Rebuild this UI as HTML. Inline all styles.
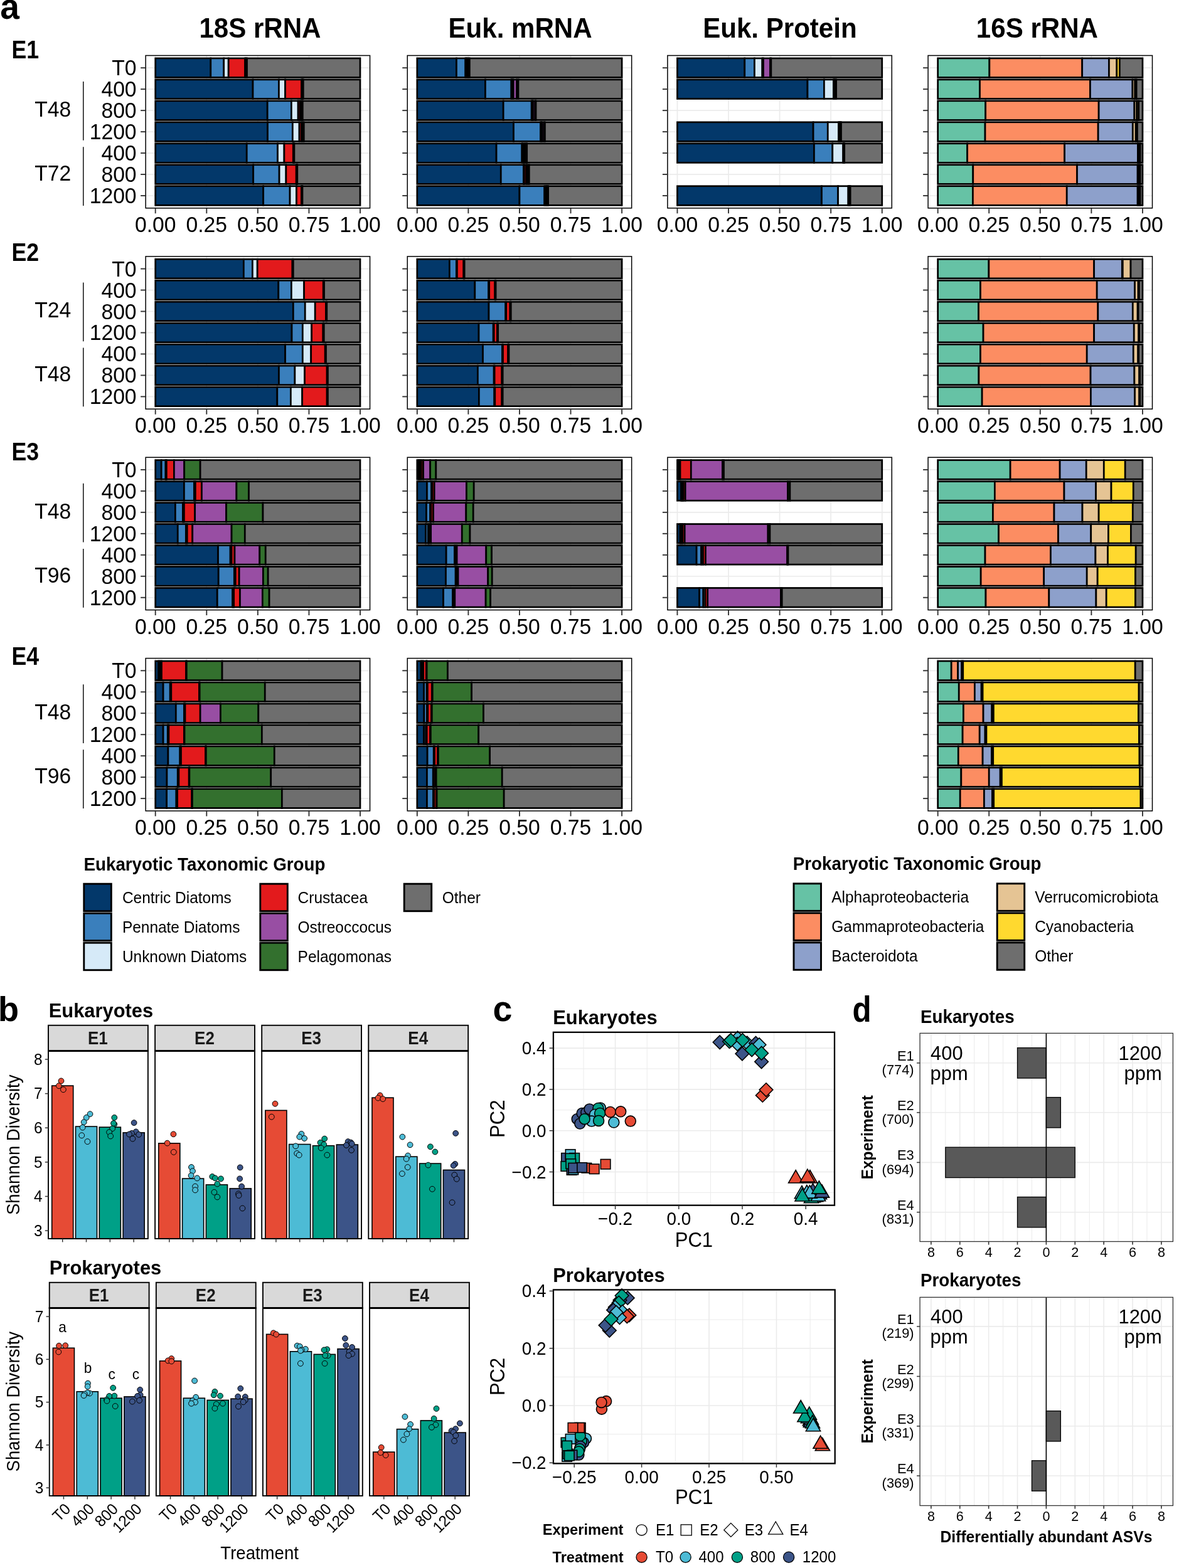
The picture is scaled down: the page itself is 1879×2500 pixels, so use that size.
<!DOCTYPE html>
<html><head><meta charset="utf-8"><title>Figure</title>
<style>html,body{margin:0;padding:0;background:#fff;}svg{display:block;}
text{font-family:'Liberation Sans', Arial, Helvetica, sans-serif;}</style></head>
<body><svg xmlns="http://www.w3.org/2000/svg" width="1879" height="2500" viewBox="0 0 1879 2500">
<rect x="0" y="0" width="1879" height="2500" fill="#fff"/>
<text transform="translate(0.3,29.8) scale(0.96,1)" font-size="57.42" font-weight="bold" fill="#000">a</text>
<text transform="translate(414.45,60.3) scale(0.96,1)" font-size="43.85" font-weight="bold" text-anchor="middle" fill="#000">18S rRNA</text>
<text transform="translate(829.06,60.3) scale(0.96,1)" font-size="43.85" font-weight="bold" text-anchor="middle" fill="#000">Euk. mRNA</text>
<text transform="translate(1242.9,60.3) scale(0.96,1)" font-size="43.85" font-weight="bold" text-anchor="middle" fill="#000">Euk. Protein</text>
<text transform="translate(1652.9,60.3) scale(0.96,1)" font-size="43.85" font-weight="bold" text-anchor="middle" fill="#000">16S rRNA</text>
<text transform="translate(18.6,92.9) scale(0.88,1)" font-size="40.51" font-weight="bold" fill="#000">E1</text>
<rect x="232.15" y="88.5" width="357.4" height="243.3" fill="#fff"/>
<line x1="247.7" y1="88.5" x2="247.7" y2="331.8" stroke="#EBEBEB" stroke-width="1.7"/>
<line x1="329.28" y1="88.5" x2="329.28" y2="331.8" stroke="#EBEBEB" stroke-width="1.7"/>
<line x1="410.85" y1="88.5" x2="410.85" y2="331.8" stroke="#EBEBEB" stroke-width="1.7"/>
<line x1="492.43" y1="88.5" x2="492.43" y2="331.8" stroke="#EBEBEB" stroke-width="1.7"/>
<line x1="574" y1="88.5" x2="574" y2="331.8" stroke="#EBEBEB" stroke-width="1.7"/>
<line x1="232.15" y1="108.2" x2="589.55" y2="108.2" stroke="#EBEBEB" stroke-width="1.7"/>
<line x1="232.15" y1="142.17" x2="589.55" y2="142.17" stroke="#EBEBEB" stroke-width="1.7"/>
<line x1="232.15" y1="176.14" x2="589.55" y2="176.14" stroke="#EBEBEB" stroke-width="1.7"/>
<line x1="232.15" y1="210.11" x2="589.55" y2="210.11" stroke="#EBEBEB" stroke-width="1.7"/>
<line x1="232.15" y1="244.08" x2="589.55" y2="244.08" stroke="#EBEBEB" stroke-width="1.7"/>
<line x1="232.15" y1="278.05" x2="589.55" y2="278.05" stroke="#EBEBEB" stroke-width="1.7"/>
<line x1="232.15" y1="312.02" x2="589.55" y2="312.02" stroke="#EBEBEB" stroke-width="1.7"/>
<rect x="247.7" y="92.91" width="88.1" height="30.57" fill="#03386A" stroke="#000" stroke-width="2.7"/>
<rect x="335.8" y="92.91" width="20.88" height="30.57" fill="#3A7FBC" stroke="#000" stroke-width="2.7"/>
<rect x="356.68" y="92.91" width="7.5" height="30.57" fill="#D6EAF8" stroke="#000" stroke-width="2.7"/>
<rect x="364.19" y="92.91" width="26.43" height="30.57" fill="#E31A1C" stroke="#000" stroke-width="2.7"/>
<rect x="390.62" y="92.91" width="1.31" height="30.57" fill="#984EA3" stroke="#000" stroke-width="2.7"/>
<rect x="391.92" y="92.91" width="1.63" height="30.57" fill="#33702E" stroke="#000" stroke-width="2.7"/>
<rect x="393.56" y="92.91" width="180.44" height="30.57" fill="#6E6E6E" stroke="#000" stroke-width="2.7"/>
<rect x="247.7" y="126.88" width="155.32" height="30.57" fill="#03386A" stroke="#000" stroke-width="2.7"/>
<rect x="403.02" y="126.88" width="41.44" height="30.57" fill="#3A7FBC" stroke="#000" stroke-width="2.7"/>
<rect x="444.46" y="126.88" width="10.12" height="30.57" fill="#D6EAF8" stroke="#000" stroke-width="2.7"/>
<rect x="454.57" y="126.88" width="26.1" height="30.57" fill="#E31A1C" stroke="#000" stroke-width="2.7"/>
<rect x="480.68" y="126.88" width="1.31" height="30.57" fill="#984EA3" stroke="#000" stroke-width="2.7"/>
<rect x="481.98" y="126.88" width="1.31" height="30.57" fill="#33702E" stroke="#000" stroke-width="2.7"/>
<rect x="483.29" y="126.88" width="90.71" height="30.57" fill="#6E6E6E" stroke="#000" stroke-width="2.7"/>
<rect x="247.7" y="160.85" width="178.49" height="30.57" fill="#03386A" stroke="#000" stroke-width="2.7"/>
<rect x="426.19" y="160.85" width="38.18" height="30.57" fill="#3A7FBC" stroke="#000" stroke-width="2.7"/>
<rect x="464.36" y="160.85" width="10.77" height="30.57" fill="#D6EAF8" stroke="#000" stroke-width="2.7"/>
<rect x="475.13" y="160.85" width="2.94" height="30.57" fill="#E31A1C" stroke="#000" stroke-width="2.7"/>
<rect x="478.07" y="160.85" width="2.28" height="30.57" fill="#984EA3" stroke="#000" stroke-width="2.7"/>
<rect x="480.35" y="160.85" width="1.96" height="30.57" fill="#33702E" stroke="#000" stroke-width="2.7"/>
<rect x="482.31" y="160.85" width="91.69" height="30.57" fill="#6E6E6E" stroke="#000" stroke-width="2.7"/>
<rect x="247.7" y="194.82" width="178.81" height="30.57" fill="#03386A" stroke="#000" stroke-width="2.7"/>
<rect x="426.51" y="194.82" width="39.81" height="30.57" fill="#3A7FBC" stroke="#000" stroke-width="2.7"/>
<rect x="466.32" y="194.82" width="10.77" height="30.57" fill="#D6EAF8" stroke="#000" stroke-width="2.7"/>
<rect x="477.09" y="194.82" width="3.26" height="30.57" fill="#E31A1C" stroke="#000" stroke-width="2.7"/>
<rect x="480.35" y="194.82" width="1.96" height="30.57" fill="#984EA3" stroke="#000" stroke-width="2.7"/>
<rect x="482.31" y="194.82" width="1.96" height="30.57" fill="#33702E" stroke="#000" stroke-width="2.7"/>
<rect x="484.27" y="194.82" width="89.73" height="30.57" fill="#6E6E6E" stroke="#000" stroke-width="2.7"/>
<rect x="247.7" y="228.79" width="145.53" height="30.57" fill="#03386A" stroke="#000" stroke-width="2.7"/>
<rect x="393.23" y="228.79" width="49.27" height="30.57" fill="#3A7FBC" stroke="#000" stroke-width="2.7"/>
<rect x="442.5" y="228.79" width="10.44" height="30.57" fill="#D6EAF8" stroke="#000" stroke-width="2.7"/>
<rect x="452.94" y="228.79" width="14.36" height="30.57" fill="#E31A1C" stroke="#000" stroke-width="2.7"/>
<rect x="467.3" y="228.79" width="0.98" height="30.57" fill="#984EA3" stroke="#000" stroke-width="2.7"/>
<rect x="468.28" y="228.79" width="0.65" height="30.57" fill="#33702E" stroke="#000" stroke-width="2.7"/>
<rect x="468.93" y="228.79" width="105.07" height="30.57" fill="#6E6E6E" stroke="#000" stroke-width="2.7"/>
<rect x="247.7" y="262.76" width="155.97" height="30.57" fill="#03386A" stroke="#000" stroke-width="2.7"/>
<rect x="403.67" y="262.76" width="41.44" height="30.57" fill="#3A7FBC" stroke="#000" stroke-width="2.7"/>
<rect x="445.11" y="262.76" width="10.77" height="30.57" fill="#D6EAF8" stroke="#000" stroke-width="2.7"/>
<rect x="455.88" y="262.76" width="16.31" height="30.57" fill="#E31A1C" stroke="#000" stroke-width="2.7"/>
<rect x="472.19" y="262.76" width="0.98" height="30.57" fill="#984EA3" stroke="#000" stroke-width="2.7"/>
<rect x="473.17" y="262.76" width="0.65" height="30.57" fill="#33702E" stroke="#000" stroke-width="2.7"/>
<rect x="473.83" y="262.76" width="100.17" height="30.57" fill="#6E6E6E" stroke="#000" stroke-width="2.7"/>
<rect x="247.7" y="296.73" width="171.96" height="30.57" fill="#03386A" stroke="#000" stroke-width="2.7"/>
<rect x="419.66" y="296.73" width="42.42" height="30.57" fill="#3A7FBC" stroke="#000" stroke-width="2.7"/>
<rect x="462.08" y="296.73" width="10.44" height="30.57" fill="#D6EAF8" stroke="#000" stroke-width="2.7"/>
<rect x="472.52" y="296.73" width="7.83" height="30.57" fill="#E31A1C" stroke="#000" stroke-width="2.7"/>
<rect x="480.35" y="296.73" width="0.98" height="30.57" fill="#984EA3" stroke="#000" stroke-width="2.7"/>
<rect x="481.33" y="296.73" width="0.65" height="30.57" fill="#33702E" stroke="#000" stroke-width="2.7"/>
<rect x="481.98" y="296.73" width="92.02" height="30.57" fill="#6E6E6E" stroke="#000" stroke-width="2.7"/>
<rect x="232.15" y="88.5" width="357.4" height="243.3" fill="none" stroke="#000" stroke-width="1.5"/>
<line x1="224.15" y1="108.2" x2="232.15" y2="108.2" stroke="#333" stroke-width="1.9"/>
<line x1="224.15" y1="142.17" x2="232.15" y2="142.17" stroke="#333" stroke-width="1.9"/>
<line x1="224.15" y1="176.14" x2="232.15" y2="176.14" stroke="#333" stroke-width="1.9"/>
<line x1="224.15" y1="210.11" x2="232.15" y2="210.11" stroke="#333" stroke-width="1.9"/>
<line x1="224.15" y1="244.08" x2="232.15" y2="244.08" stroke="#333" stroke-width="1.9"/>
<line x1="224.15" y1="278.05" x2="232.15" y2="278.05" stroke="#333" stroke-width="1.9"/>
<line x1="224.15" y1="312.02" x2="232.15" y2="312.02" stroke="#333" stroke-width="1.9"/>
<line x1="247.7" y1="331.8" x2="247.7" y2="340.3" stroke="#333" stroke-width="1.9"/>
<text transform="translate(247.7,370.1) scale(0.96,1)" font-size="35.08" text-anchor="middle" fill="#000">0.00</text>
<line x1="329.28" y1="331.8" x2="329.28" y2="340.3" stroke="#333" stroke-width="1.9"/>
<text transform="translate(329.28,370.1) scale(0.96,1)" font-size="35.08" text-anchor="middle" fill="#000">0.25</text>
<line x1="410.85" y1="331.8" x2="410.85" y2="340.3" stroke="#333" stroke-width="1.9"/>
<text transform="translate(410.85,370.1) scale(0.96,1)" font-size="35.08" text-anchor="middle" fill="#000">0.50</text>
<line x1="492.43" y1="331.8" x2="492.43" y2="340.3" stroke="#333" stroke-width="1.9"/>
<text transform="translate(492.43,370.1) scale(0.96,1)" font-size="35.08" text-anchor="middle" fill="#000">0.75</text>
<line x1="574" y1="331.8" x2="574" y2="340.3" stroke="#333" stroke-width="1.9"/>
<text transform="translate(574,370.1) scale(0.96,1)" font-size="35.08" text-anchor="middle" fill="#000">1.00</text>
<rect x="649.26" y="88.5" width="357.4" height="243.3" fill="#fff"/>
<line x1="664.81" y1="88.5" x2="664.81" y2="331.8" stroke="#EBEBEB" stroke-width="1.7"/>
<line x1="746.38" y1="88.5" x2="746.38" y2="331.8" stroke="#EBEBEB" stroke-width="1.7"/>
<line x1="827.96" y1="88.5" x2="827.96" y2="331.8" stroke="#EBEBEB" stroke-width="1.7"/>
<line x1="909.53" y1="88.5" x2="909.53" y2="331.8" stroke="#EBEBEB" stroke-width="1.7"/>
<line x1="991.11" y1="88.5" x2="991.11" y2="331.8" stroke="#EBEBEB" stroke-width="1.7"/>
<line x1="649.26" y1="108.2" x2="1006.66" y2="108.2" stroke="#EBEBEB" stroke-width="1.7"/>
<line x1="649.26" y1="142.17" x2="1006.66" y2="142.17" stroke="#EBEBEB" stroke-width="1.7"/>
<line x1="649.26" y1="176.14" x2="1006.66" y2="176.14" stroke="#EBEBEB" stroke-width="1.7"/>
<line x1="649.26" y1="210.11" x2="1006.66" y2="210.11" stroke="#EBEBEB" stroke-width="1.7"/>
<line x1="649.26" y1="244.08" x2="1006.66" y2="244.08" stroke="#EBEBEB" stroke-width="1.7"/>
<line x1="649.26" y1="278.05" x2="1006.66" y2="278.05" stroke="#EBEBEB" stroke-width="1.7"/>
<line x1="649.26" y1="312.02" x2="1006.66" y2="312.02" stroke="#EBEBEB" stroke-width="1.7"/>
<rect x="664.81" y="92.91" width="62.65" height="30.57" fill="#03386A" stroke="#000" stroke-width="2.7"/>
<rect x="727.46" y="92.91" width="14.36" height="30.57" fill="#3A7FBC" stroke="#000" stroke-width="2.7"/>
<rect x="741.82" y="92.91" width="1.31" height="30.57" fill="#D6EAF8" stroke="#000" stroke-width="2.7"/>
<rect x="743.12" y="92.91" width="1.31" height="30.57" fill="#E31A1C" stroke="#000" stroke-width="2.7"/>
<rect x="744.43" y="92.91" width="1.96" height="30.57" fill="#984EA3" stroke="#000" stroke-width="2.7"/>
<rect x="746.38" y="92.91" width="1.96" height="30.57" fill="#33702E" stroke="#000" stroke-width="2.7"/>
<rect x="748.34" y="92.91" width="242.77" height="30.57" fill="#6E6E6E" stroke="#000" stroke-width="2.7"/>
<rect x="664.81" y="126.88" width="108.66" height="30.57" fill="#03386A" stroke="#000" stroke-width="2.7"/>
<rect x="773.47" y="126.88" width="41.44" height="30.57" fill="#3A7FBC" stroke="#000" stroke-width="2.7"/>
<rect x="814.91" y="126.88" width="1.31" height="30.57" fill="#D6EAF8" stroke="#000" stroke-width="2.7"/>
<rect x="816.21" y="126.88" width="1.96" height="30.57" fill="#E31A1C" stroke="#000" stroke-width="2.7"/>
<rect x="818.17" y="126.88" width="5.22" height="30.57" fill="#984EA3" stroke="#000" stroke-width="2.7"/>
<rect x="823.39" y="126.88" width="2.61" height="30.57" fill="#33702E" stroke="#000" stroke-width="2.7"/>
<rect x="826" y="126.88" width="165.11" height="30.57" fill="#6E6E6E" stroke="#000" stroke-width="2.7"/>
<rect x="664.81" y="160.85" width="137.37" height="30.57" fill="#03386A" stroke="#000" stroke-width="2.7"/>
<rect x="802.18" y="160.85" width="45.03" height="30.57" fill="#3A7FBC" stroke="#000" stroke-width="2.7"/>
<rect x="847.21" y="160.85" width="1.31" height="30.57" fill="#D6EAF8" stroke="#000" stroke-width="2.7"/>
<rect x="848.52" y="160.85" width="0.98" height="30.57" fill="#E31A1C" stroke="#000" stroke-width="2.7"/>
<rect x="849.5" y="160.85" width="3.26" height="30.57" fill="#984EA3" stroke="#000" stroke-width="2.7"/>
<rect x="852.76" y="160.85" width="1.31" height="30.57" fill="#33702E" stroke="#000" stroke-width="2.7"/>
<rect x="854.06" y="160.85" width="137.05" height="30.57" fill="#6E6E6E" stroke="#000" stroke-width="2.7"/>
<rect x="664.81" y="194.82" width="153.69" height="30.57" fill="#03386A" stroke="#000" stroke-width="2.7"/>
<rect x="818.5" y="194.82" width="43.07" height="30.57" fill="#3A7FBC" stroke="#000" stroke-width="2.7"/>
<rect x="861.57" y="194.82" width="1.31" height="30.57" fill="#D6EAF8" stroke="#000" stroke-width="2.7"/>
<rect x="862.87" y="194.82" width="0.98" height="30.57" fill="#E31A1C" stroke="#000" stroke-width="2.7"/>
<rect x="863.85" y="194.82" width="2.94" height="30.57" fill="#984EA3" stroke="#000" stroke-width="2.7"/>
<rect x="866.79" y="194.82" width="1.63" height="30.57" fill="#33702E" stroke="#000" stroke-width="2.7"/>
<rect x="868.42" y="194.82" width="122.69" height="30.57" fill="#6E6E6E" stroke="#000" stroke-width="2.7"/>
<rect x="664.81" y="228.79" width="126.28" height="30.57" fill="#03386A" stroke="#000" stroke-width="2.7"/>
<rect x="791.09" y="228.79" width="40.79" height="30.57" fill="#3A7FBC" stroke="#000" stroke-width="2.7"/>
<rect x="831.88" y="228.79" width="1.31" height="30.57" fill="#D6EAF8" stroke="#000" stroke-width="2.7"/>
<rect x="833.18" y="228.79" width="2.61" height="30.57" fill="#E31A1C" stroke="#000" stroke-width="2.7"/>
<rect x="835.79" y="228.79" width="2.28" height="30.57" fill="#984EA3" stroke="#000" stroke-width="2.7"/>
<rect x="838.08" y="228.79" width="1.63" height="30.57" fill="#33702E" stroke="#000" stroke-width="2.7"/>
<rect x="839.71" y="228.79" width="151.4" height="30.57" fill="#6E6E6E" stroke="#000" stroke-width="2.7"/>
<rect x="664.81" y="262.76" width="133.46" height="30.57" fill="#03386A" stroke="#000" stroke-width="2.7"/>
<rect x="798.27" y="262.76" width="36.22" height="30.57" fill="#3A7FBC" stroke="#000" stroke-width="2.7"/>
<rect x="834.49" y="262.76" width="0.98" height="30.57" fill="#D6EAF8" stroke="#000" stroke-width="2.7"/>
<rect x="835.46" y="262.76" width="3.26" height="30.57" fill="#E31A1C" stroke="#000" stroke-width="2.7"/>
<rect x="838.73" y="262.76" width="2.28" height="30.57" fill="#984EA3" stroke="#000" stroke-width="2.7"/>
<rect x="841.01" y="262.76" width="2.28" height="30.57" fill="#33702E" stroke="#000" stroke-width="2.7"/>
<rect x="843.3" y="262.76" width="147.81" height="30.57" fill="#6E6E6E" stroke="#000" stroke-width="2.7"/>
<rect x="664.81" y="296.73" width="163.15" height="30.57" fill="#03386A" stroke="#000" stroke-width="2.7"/>
<rect x="827.96" y="296.73" width="39.81" height="30.57" fill="#3A7FBC" stroke="#000" stroke-width="2.7"/>
<rect x="867.77" y="296.73" width="1.96" height="30.57" fill="#D6EAF8" stroke="#000" stroke-width="2.7"/>
<rect x="869.73" y="296.73" width="1.31" height="30.57" fill="#E31A1C" stroke="#000" stroke-width="2.7"/>
<rect x="871.03" y="296.73" width="1.31" height="30.57" fill="#984EA3" stroke="#000" stroke-width="2.7"/>
<rect x="872.34" y="296.73" width="1.31" height="30.57" fill="#33702E" stroke="#000" stroke-width="2.7"/>
<rect x="873.64" y="296.73" width="117.47" height="30.57" fill="#6E6E6E" stroke="#000" stroke-width="2.7"/>
<rect x="649.26" y="88.5" width="357.4" height="243.3" fill="none" stroke="#000" stroke-width="1.5"/>
<line x1="641.26" y1="108.2" x2="649.26" y2="108.2" stroke="#333" stroke-width="1.9"/>
<line x1="641.26" y1="142.17" x2="649.26" y2="142.17" stroke="#333" stroke-width="1.9"/>
<line x1="641.26" y1="176.14" x2="649.26" y2="176.14" stroke="#333" stroke-width="1.9"/>
<line x1="641.26" y1="210.11" x2="649.26" y2="210.11" stroke="#333" stroke-width="1.9"/>
<line x1="641.26" y1="244.08" x2="649.26" y2="244.08" stroke="#333" stroke-width="1.9"/>
<line x1="641.26" y1="278.05" x2="649.26" y2="278.05" stroke="#333" stroke-width="1.9"/>
<line x1="641.26" y1="312.02" x2="649.26" y2="312.02" stroke="#333" stroke-width="1.9"/>
<line x1="664.81" y1="331.8" x2="664.81" y2="340.3" stroke="#333" stroke-width="1.9"/>
<text transform="translate(664.81,370.1) scale(0.96,1)" font-size="35.08" text-anchor="middle" fill="#000">0.00</text>
<line x1="746.38" y1="331.8" x2="746.38" y2="340.3" stroke="#333" stroke-width="1.9"/>
<text transform="translate(746.38,370.1) scale(0.96,1)" font-size="35.08" text-anchor="middle" fill="#000">0.25</text>
<line x1="827.96" y1="331.8" x2="827.96" y2="340.3" stroke="#333" stroke-width="1.9"/>
<text transform="translate(827.96,370.1) scale(0.96,1)" font-size="35.08" text-anchor="middle" fill="#000">0.50</text>
<line x1="909.53" y1="331.8" x2="909.53" y2="340.3" stroke="#333" stroke-width="1.9"/>
<text transform="translate(909.53,370.1) scale(0.96,1)" font-size="35.08" text-anchor="middle" fill="#000">0.75</text>
<line x1="991.11" y1="331.8" x2="991.11" y2="340.3" stroke="#333" stroke-width="1.9"/>
<text transform="translate(991.11,370.1) scale(0.96,1)" font-size="35.08" text-anchor="middle" fill="#000">1.00</text>
<rect x="1063.9" y="88.5" width="357.4" height="243.3" fill="#fff"/>
<line x1="1079.45" y1="88.5" x2="1079.45" y2="331.8" stroke="#EBEBEB" stroke-width="1.7"/>
<line x1="1161.03" y1="88.5" x2="1161.03" y2="331.8" stroke="#EBEBEB" stroke-width="1.7"/>
<line x1="1242.6" y1="88.5" x2="1242.6" y2="331.8" stroke="#EBEBEB" stroke-width="1.7"/>
<line x1="1324.18" y1="88.5" x2="1324.18" y2="331.8" stroke="#EBEBEB" stroke-width="1.7"/>
<line x1="1405.75" y1="88.5" x2="1405.75" y2="331.8" stroke="#EBEBEB" stroke-width="1.7"/>
<line x1="1063.9" y1="108.2" x2="1421.3" y2="108.2" stroke="#EBEBEB" stroke-width="1.7"/>
<line x1="1063.9" y1="142.17" x2="1421.3" y2="142.17" stroke="#EBEBEB" stroke-width="1.7"/>
<line x1="1063.9" y1="176.14" x2="1421.3" y2="176.14" stroke="#EBEBEB" stroke-width="1.7"/>
<line x1="1063.9" y1="210.11" x2="1421.3" y2="210.11" stroke="#EBEBEB" stroke-width="1.7"/>
<line x1="1063.9" y1="244.08" x2="1421.3" y2="244.08" stroke="#EBEBEB" stroke-width="1.7"/>
<line x1="1063.9" y1="278.05" x2="1421.3" y2="278.05" stroke="#EBEBEB" stroke-width="1.7"/>
<line x1="1063.9" y1="312.02" x2="1421.3" y2="312.02" stroke="#EBEBEB" stroke-width="1.7"/>
<rect x="1079.45" y="92.91" width="107.35" height="30.57" fill="#03386A" stroke="#000" stroke-width="2.7"/>
<rect x="1186.8" y="92.91" width="15.66" height="30.57" fill="#3A7FBC" stroke="#000" stroke-width="2.7"/>
<rect x="1202.47" y="92.91" width="12.4" height="30.57" fill="#D6EAF8" stroke="#000" stroke-width="2.7"/>
<rect x="1214.86" y="92.91" width="1.63" height="30.57" fill="#E31A1C" stroke="#000" stroke-width="2.7"/>
<rect x="1216.5" y="92.91" width="11.09" height="30.57" fill="#984EA3" stroke="#000" stroke-width="2.7"/>
<rect x="1227.59" y="92.91" width="1.31" height="30.57" fill="#33702E" stroke="#000" stroke-width="2.7"/>
<rect x="1228.9" y="92.91" width="176.85" height="30.57" fill="#6E6E6E" stroke="#000" stroke-width="2.7"/>
<rect x="1079.45" y="126.88" width="207.53" height="30.57" fill="#03386A" stroke="#000" stroke-width="2.7"/>
<rect x="1286.98" y="126.88" width="26.43" height="30.57" fill="#3A7FBC" stroke="#000" stroke-width="2.7"/>
<rect x="1313.41" y="126.88" width="15.01" height="30.57" fill="#D6EAF8" stroke="#000" stroke-width="2.7"/>
<rect x="1328.42" y="126.88" width="1.31" height="30.57" fill="#E31A1C" stroke="#000" stroke-width="2.7"/>
<rect x="1329.72" y="126.88" width="1.31" height="30.57" fill="#984EA3" stroke="#000" stroke-width="2.7"/>
<rect x="1331.03" y="126.88" width="1.63" height="30.57" fill="#33702E" stroke="#000" stroke-width="2.7"/>
<rect x="1332.66" y="126.88" width="73.09" height="30.57" fill="#6E6E6E" stroke="#000" stroke-width="2.7"/>
<rect x="1079.45" y="194.82" width="216.66" height="30.57" fill="#03386A" stroke="#000" stroke-width="2.7"/>
<rect x="1296.11" y="194.82" width="23.17" height="30.57" fill="#3A7FBC" stroke="#000" stroke-width="2.7"/>
<rect x="1319.28" y="194.82" width="17.29" height="30.57" fill="#D6EAF8" stroke="#000" stroke-width="2.7"/>
<rect x="1336.57" y="194.82" width="1.31" height="30.57" fill="#E31A1C" stroke="#000" stroke-width="2.7"/>
<rect x="1337.88" y="194.82" width="1.31" height="30.57" fill="#984EA3" stroke="#000" stroke-width="2.7"/>
<rect x="1339.18" y="194.82" width="1.31" height="30.57" fill="#33702E" stroke="#000" stroke-width="2.7"/>
<rect x="1340.49" y="194.82" width="65.26" height="30.57" fill="#6E6E6E" stroke="#000" stroke-width="2.7"/>
<rect x="1079.45" y="228.79" width="217.97" height="30.57" fill="#03386A" stroke="#000" stroke-width="2.7"/>
<rect x="1297.42" y="228.79" width="29.37" height="30.57" fill="#3A7FBC" stroke="#000" stroke-width="2.7"/>
<rect x="1326.79" y="228.79" width="16.97" height="30.57" fill="#D6EAF8" stroke="#000" stroke-width="2.7"/>
<rect x="1343.75" y="228.79" width="0.65" height="30.57" fill="#E31A1C" stroke="#000" stroke-width="2.7"/>
<rect x="1344.41" y="228.79" width="0.65" height="30.57" fill="#984EA3" stroke="#000" stroke-width="2.7"/>
<rect x="1345.06" y="228.79" width="0.65" height="30.57" fill="#33702E" stroke="#000" stroke-width="2.7"/>
<rect x="1345.71" y="228.79" width="60.04" height="30.57" fill="#6E6E6E" stroke="#000" stroke-width="2.7"/>
<rect x="1079.45" y="296.73" width="230.04" height="30.57" fill="#03386A" stroke="#000" stroke-width="2.7"/>
<rect x="1309.49" y="296.73" width="26.1" height="30.57" fill="#3A7FBC" stroke="#000" stroke-width="2.7"/>
<rect x="1335.6" y="296.73" width="16.31" height="30.57" fill="#D6EAF8" stroke="#000" stroke-width="2.7"/>
<rect x="1351.91" y="296.73" width="0.98" height="30.57" fill="#E31A1C" stroke="#000" stroke-width="2.7"/>
<rect x="1352.89" y="296.73" width="0.98" height="30.57" fill="#984EA3" stroke="#000" stroke-width="2.7"/>
<rect x="1353.87" y="296.73" width="1.31" height="30.57" fill="#33702E" stroke="#000" stroke-width="2.7"/>
<rect x="1355.17" y="296.73" width="50.58" height="30.57" fill="#6E6E6E" stroke="#000" stroke-width="2.7"/>
<rect x="1063.9" y="88.5" width="357.4" height="243.3" fill="none" stroke="#000" stroke-width="1.5"/>
<line x1="1055.9" y1="108.2" x2="1063.9" y2="108.2" stroke="#333" stroke-width="1.9"/>
<line x1="1055.9" y1="142.17" x2="1063.9" y2="142.17" stroke="#333" stroke-width="1.9"/>
<line x1="1055.9" y1="176.14" x2="1063.9" y2="176.14" stroke="#333" stroke-width="1.9"/>
<line x1="1055.9" y1="210.11" x2="1063.9" y2="210.11" stroke="#333" stroke-width="1.9"/>
<line x1="1055.9" y1="244.08" x2="1063.9" y2="244.08" stroke="#333" stroke-width="1.9"/>
<line x1="1055.9" y1="278.05" x2="1063.9" y2="278.05" stroke="#333" stroke-width="1.9"/>
<line x1="1055.9" y1="312.02" x2="1063.9" y2="312.02" stroke="#333" stroke-width="1.9"/>
<line x1="1079.45" y1="331.8" x2="1079.45" y2="340.3" stroke="#333" stroke-width="1.9"/>
<text transform="translate(1079.45,370.1) scale(0.96,1)" font-size="35.08" text-anchor="middle" fill="#000">0.00</text>
<line x1="1161.03" y1="331.8" x2="1161.03" y2="340.3" stroke="#333" stroke-width="1.9"/>
<text transform="translate(1161.03,370.1) scale(0.96,1)" font-size="35.08" text-anchor="middle" fill="#000">0.25</text>
<line x1="1242.6" y1="331.8" x2="1242.6" y2="340.3" stroke="#333" stroke-width="1.9"/>
<text transform="translate(1242.6,370.1) scale(0.96,1)" font-size="35.08" text-anchor="middle" fill="#000">0.50</text>
<line x1="1324.18" y1="331.8" x2="1324.18" y2="340.3" stroke="#333" stroke-width="1.9"/>
<text transform="translate(1324.18,370.1) scale(0.96,1)" font-size="35.08" text-anchor="middle" fill="#000">0.75</text>
<line x1="1405.75" y1="331.8" x2="1405.75" y2="340.3" stroke="#333" stroke-width="1.9"/>
<text transform="translate(1405.75,370.1) scale(0.96,1)" font-size="35.08" text-anchor="middle" fill="#000">1.00</text>
<rect x="1479.1" y="88.5" width="357.4" height="243.3" fill="#fff"/>
<line x1="1494.65" y1="88.5" x2="1494.65" y2="331.8" stroke="#EBEBEB" stroke-width="1.7"/>
<line x1="1576.22" y1="88.5" x2="1576.22" y2="331.8" stroke="#EBEBEB" stroke-width="1.7"/>
<line x1="1657.8" y1="88.5" x2="1657.8" y2="331.8" stroke="#EBEBEB" stroke-width="1.7"/>
<line x1="1739.38" y1="88.5" x2="1739.38" y2="331.8" stroke="#EBEBEB" stroke-width="1.7"/>
<line x1="1820.95" y1="88.5" x2="1820.95" y2="331.8" stroke="#EBEBEB" stroke-width="1.7"/>
<line x1="1479.1" y1="108.2" x2="1836.5" y2="108.2" stroke="#EBEBEB" stroke-width="1.7"/>
<line x1="1479.1" y1="142.17" x2="1836.5" y2="142.17" stroke="#EBEBEB" stroke-width="1.7"/>
<line x1="1479.1" y1="176.14" x2="1836.5" y2="176.14" stroke="#EBEBEB" stroke-width="1.7"/>
<line x1="1479.1" y1="210.11" x2="1836.5" y2="210.11" stroke="#EBEBEB" stroke-width="1.7"/>
<line x1="1479.1" y1="244.08" x2="1836.5" y2="244.08" stroke="#EBEBEB" stroke-width="1.7"/>
<line x1="1479.1" y1="278.05" x2="1836.5" y2="278.05" stroke="#EBEBEB" stroke-width="1.7"/>
<line x1="1479.1" y1="312.02" x2="1836.5" y2="312.02" stroke="#EBEBEB" stroke-width="1.7"/>
<rect x="1494.65" y="92.91" width="82.23" height="30.57" fill="#66C2A5" stroke="#000" stroke-width="2.7"/>
<rect x="1576.88" y="92.91" width="147.81" height="30.57" fill="#FC8D62" stroke="#000" stroke-width="2.7"/>
<rect x="1724.69" y="92.91" width="42.75" height="30.57" fill="#8DA0CB" stroke="#000" stroke-width="2.7"/>
<rect x="1767.44" y="92.91" width="12.4" height="30.57" fill="#E5C494" stroke="#000" stroke-width="2.7"/>
<rect x="1779.84" y="92.91" width="4.57" height="30.57" fill="#FFD92F" stroke="#000" stroke-width="2.7"/>
<rect x="1784.4" y="92.91" width="36.55" height="30.57" fill="#6E6E6E" stroke="#000" stroke-width="2.7"/>
<rect x="1494.65" y="126.88" width="66.89" height="30.57" fill="#66C2A5" stroke="#000" stroke-width="2.7"/>
<rect x="1561.54" y="126.88" width="175.88" height="30.57" fill="#FC8D62" stroke="#000" stroke-width="2.7"/>
<rect x="1737.42" y="126.88" width="67.54" height="30.57" fill="#8DA0CB" stroke="#000" stroke-width="2.7"/>
<rect x="1804.96" y="126.88" width="3.92" height="30.57" fill="#E5C494" stroke="#000" stroke-width="2.7"/>
<rect x="1808.88" y="126.88" width="2.28" height="30.57" fill="#FFD92F" stroke="#000" stroke-width="2.7"/>
<rect x="1811.16" y="126.88" width="9.79" height="30.57" fill="#6E6E6E" stroke="#000" stroke-width="2.7"/>
<rect x="1494.65" y="160.85" width="76.03" height="30.57" fill="#66C2A5" stroke="#000" stroke-width="2.7"/>
<rect x="1570.68" y="160.85" width="180.44" height="30.57" fill="#FC8D62" stroke="#000" stroke-width="2.7"/>
<rect x="1751.12" y="160.85" width="56.78" height="30.57" fill="#8DA0CB" stroke="#000" stroke-width="2.7"/>
<rect x="1807.9" y="160.85" width="3.92" height="30.57" fill="#E5C494" stroke="#000" stroke-width="2.7"/>
<rect x="1811.81" y="160.85" width="2.94" height="30.57" fill="#FFD92F" stroke="#000" stroke-width="2.7"/>
<rect x="1814.75" y="160.85" width="6.2" height="30.57" fill="#6E6E6E" stroke="#000" stroke-width="2.7"/>
<rect x="1494.65" y="194.82" width="75.38" height="30.57" fill="#66C2A5" stroke="#000" stroke-width="2.7"/>
<rect x="1570.03" y="194.82" width="180.12" height="30.57" fill="#FC8D62" stroke="#000" stroke-width="2.7"/>
<rect x="1750.14" y="194.82" width="55.14" height="30.57" fill="#8DA0CB" stroke="#000" stroke-width="2.7"/>
<rect x="1805.29" y="194.82" width="4.89" height="30.57" fill="#E5C494" stroke="#000" stroke-width="2.7"/>
<rect x="1810.18" y="194.82" width="2.28" height="30.57" fill="#FFD92F" stroke="#000" stroke-width="2.7"/>
<rect x="1812.47" y="194.82" width="8.48" height="30.57" fill="#6E6E6E" stroke="#000" stroke-width="2.7"/>
<rect x="1494.65" y="228.79" width="46.99" height="30.57" fill="#66C2A5" stroke="#000" stroke-width="2.7"/>
<rect x="1541.64" y="228.79" width="154.99" height="30.57" fill="#FC8D62" stroke="#000" stroke-width="2.7"/>
<rect x="1696.63" y="228.79" width="116.82" height="30.57" fill="#8DA0CB" stroke="#000" stroke-width="2.7"/>
<rect x="1813.45" y="228.79" width="1.63" height="30.57" fill="#E5C494" stroke="#000" stroke-width="2.7"/>
<rect x="1815.08" y="228.79" width="1.96" height="30.57" fill="#FFD92F" stroke="#000" stroke-width="2.7"/>
<rect x="1817.03" y="228.79" width="3.92" height="30.57" fill="#6E6E6E" stroke="#000" stroke-width="2.7"/>
<rect x="1494.65" y="262.76" width="56.12" height="30.57" fill="#66C2A5" stroke="#000" stroke-width="2.7"/>
<rect x="1550.77" y="262.76" width="165.76" height="30.57" fill="#FC8D62" stroke="#000" stroke-width="2.7"/>
<rect x="1716.53" y="262.76" width="96.58" height="30.57" fill="#8DA0CB" stroke="#000" stroke-width="2.7"/>
<rect x="1813.12" y="262.76" width="1.96" height="30.57" fill="#E5C494" stroke="#000" stroke-width="2.7"/>
<rect x="1815.08" y="262.76" width="1.96" height="30.57" fill="#FFD92F" stroke="#000" stroke-width="2.7"/>
<rect x="1817.03" y="262.76" width="3.92" height="30.57" fill="#6E6E6E" stroke="#000" stroke-width="2.7"/>
<rect x="1494.65" y="296.73" width="55.8" height="30.57" fill="#66C2A5" stroke="#000" stroke-width="2.7"/>
<rect x="1550.45" y="296.73" width="149.77" height="30.57" fill="#FC8D62" stroke="#000" stroke-width="2.7"/>
<rect x="1700.22" y="296.73" width="112.9" height="30.57" fill="#8DA0CB" stroke="#000" stroke-width="2.7"/>
<rect x="1813.12" y="296.73" width="1.96" height="30.57" fill="#E5C494" stroke="#000" stroke-width="2.7"/>
<rect x="1815.08" y="296.73" width="1.96" height="30.57" fill="#FFD92F" stroke="#000" stroke-width="2.7"/>
<rect x="1817.03" y="296.73" width="3.92" height="30.57" fill="#6E6E6E" stroke="#000" stroke-width="2.7"/>
<rect x="1479.1" y="88.5" width="357.4" height="243.3" fill="none" stroke="#000" stroke-width="1.5"/>
<line x1="1471.1" y1="108.2" x2="1479.1" y2="108.2" stroke="#333" stroke-width="1.9"/>
<line x1="1471.1" y1="142.17" x2="1479.1" y2="142.17" stroke="#333" stroke-width="1.9"/>
<line x1="1471.1" y1="176.14" x2="1479.1" y2="176.14" stroke="#333" stroke-width="1.9"/>
<line x1="1471.1" y1="210.11" x2="1479.1" y2="210.11" stroke="#333" stroke-width="1.9"/>
<line x1="1471.1" y1="244.08" x2="1479.1" y2="244.08" stroke="#333" stroke-width="1.9"/>
<line x1="1471.1" y1="278.05" x2="1479.1" y2="278.05" stroke="#333" stroke-width="1.9"/>
<line x1="1471.1" y1="312.02" x2="1479.1" y2="312.02" stroke="#333" stroke-width="1.9"/>
<line x1="1494.65" y1="331.8" x2="1494.65" y2="340.3" stroke="#333" stroke-width="1.9"/>
<text transform="translate(1494.65,370.1) scale(0.96,1)" font-size="35.08" text-anchor="middle" fill="#000">0.00</text>
<line x1="1576.22" y1="331.8" x2="1576.22" y2="340.3" stroke="#333" stroke-width="1.9"/>
<text transform="translate(1576.22,370.1) scale(0.96,1)" font-size="35.08" text-anchor="middle" fill="#000">0.25</text>
<line x1="1657.8" y1="331.8" x2="1657.8" y2="340.3" stroke="#333" stroke-width="1.9"/>
<text transform="translate(1657.8,370.1) scale(0.96,1)" font-size="35.08" text-anchor="middle" fill="#000">0.50</text>
<line x1="1739.38" y1="331.8" x2="1739.38" y2="340.3" stroke="#333" stroke-width="1.9"/>
<text transform="translate(1739.38,370.1) scale(0.96,1)" font-size="35.08" text-anchor="middle" fill="#000">0.75</text>
<line x1="1820.95" y1="331.8" x2="1820.95" y2="340.3" stroke="#333" stroke-width="1.9"/>
<text transform="translate(1820.95,370.1) scale(0.96,1)" font-size="35.08" text-anchor="middle" fill="#000">1.00</text>
<text transform="translate(217.6,120.2) scale(0.96,1)" font-size="35.08" text-anchor="end" fill="#000">T0</text>
<text transform="translate(217.6,154.17) scale(0.96,1)" font-size="35.08" text-anchor="end" fill="#000">400</text>
<text transform="translate(217.6,188.14) scale(0.96,1)" font-size="35.08" text-anchor="end" fill="#000">800</text>
<text transform="translate(217.6,222.11) scale(0.96,1)" font-size="35.08" text-anchor="end" fill="#000">1200</text>
<text transform="translate(217.6,256.08) scale(0.96,1)" font-size="35.08" text-anchor="end" fill="#000">400</text>
<text transform="translate(217.6,290.05) scale(0.96,1)" font-size="35.08" text-anchor="end" fill="#000">800</text>
<text transform="translate(217.6,324.02) scale(0.96,1)" font-size="35.08" text-anchor="end" fill="#000">1200</text>
<line x1="132.8" y1="130.1" x2="132.8" y2="223.85" stroke="#000" stroke-width="1.4"/>
<text transform="translate(55.15,185.94) scale(0.96,1)" font-size="35.08" fill="#000">T48</text>
<line x1="132.8" y1="234.18" x2="132.8" y2="327.92" stroke="#000" stroke-width="1.4"/>
<text transform="translate(55.15,287.85) scale(0.96,1)" font-size="35.08" fill="#000">T72</text>
<text transform="translate(18.6,416.3) scale(0.88,1)" font-size="40.51" font-weight="bold" fill="#000">E2</text>
<rect x="232.15" y="408.86" width="357.4" height="243.3" fill="#fff"/>
<line x1="247.7" y1="408.86" x2="247.7" y2="652.16" stroke="#EBEBEB" stroke-width="1.7"/>
<line x1="329.28" y1="408.86" x2="329.28" y2="652.16" stroke="#EBEBEB" stroke-width="1.7"/>
<line x1="410.85" y1="408.86" x2="410.85" y2="652.16" stroke="#EBEBEB" stroke-width="1.7"/>
<line x1="492.43" y1="408.86" x2="492.43" y2="652.16" stroke="#EBEBEB" stroke-width="1.7"/>
<line x1="574" y1="408.86" x2="574" y2="652.16" stroke="#EBEBEB" stroke-width="1.7"/>
<line x1="232.15" y1="428.56" x2="589.55" y2="428.56" stroke="#EBEBEB" stroke-width="1.7"/>
<line x1="232.15" y1="462.53" x2="589.55" y2="462.53" stroke="#EBEBEB" stroke-width="1.7"/>
<line x1="232.15" y1="496.5" x2="589.55" y2="496.5" stroke="#EBEBEB" stroke-width="1.7"/>
<line x1="232.15" y1="530.47" x2="589.55" y2="530.47" stroke="#EBEBEB" stroke-width="1.7"/>
<line x1="232.15" y1="564.44" x2="589.55" y2="564.44" stroke="#EBEBEB" stroke-width="1.7"/>
<line x1="232.15" y1="598.41" x2="589.55" y2="598.41" stroke="#EBEBEB" stroke-width="1.7"/>
<line x1="232.15" y1="632.38" x2="589.55" y2="632.38" stroke="#EBEBEB" stroke-width="1.7"/>
<rect x="247.7" y="413.27" width="140.64" height="30.57" fill="#03386A" stroke="#000" stroke-width="2.7"/>
<rect x="388.34" y="413.27" width="14.03" height="30.57" fill="#3A7FBC" stroke="#000" stroke-width="2.7"/>
<rect x="402.37" y="413.27" width="7.83" height="30.57" fill="#D6EAF8" stroke="#000" stroke-width="2.7"/>
<rect x="410.2" y="413.27" width="55.8" height="30.57" fill="#E31A1C" stroke="#000" stroke-width="2.7"/>
<rect x="465.99" y="413.27" width="0.65" height="30.57" fill="#984EA3" stroke="#000" stroke-width="2.7"/>
<rect x="466.65" y="413.27" width="0.65" height="30.57" fill="#33702E" stroke="#000" stroke-width="2.7"/>
<rect x="467.3" y="413.27" width="106.7" height="30.57" fill="#6E6E6E" stroke="#000" stroke-width="2.7"/>
<rect x="247.7" y="447.24" width="196.11" height="30.57" fill="#03386A" stroke="#000" stroke-width="2.7"/>
<rect x="443.81" y="447.24" width="20.56" height="30.57" fill="#3A7FBC" stroke="#000" stroke-width="2.7"/>
<rect x="464.36" y="447.24" width="20.23" height="30.57" fill="#D6EAF8" stroke="#000" stroke-width="2.7"/>
<rect x="484.59" y="447.24" width="30.67" height="30.57" fill="#E31A1C" stroke="#000" stroke-width="2.7"/>
<rect x="515.27" y="447.24" width="0.65" height="30.57" fill="#984EA3" stroke="#000" stroke-width="2.7"/>
<rect x="515.92" y="447.24" width="0.65" height="30.57" fill="#33702E" stroke="#000" stroke-width="2.7"/>
<rect x="516.57" y="447.24" width="57.43" height="30.57" fill="#6E6E6E" stroke="#000" stroke-width="2.7"/>
<rect x="247.7" y="481.21" width="219.6" height="30.57" fill="#03386A" stroke="#000" stroke-width="2.7"/>
<rect x="467.3" y="481.21" width="18.93" height="30.57" fill="#3A7FBC" stroke="#000" stroke-width="2.7"/>
<rect x="486.23" y="481.21" width="15.99" height="30.57" fill="#D6EAF8" stroke="#000" stroke-width="2.7"/>
<rect x="502.21" y="481.21" width="17.29" height="30.57" fill="#E31A1C" stroke="#000" stroke-width="2.7"/>
<rect x="519.51" y="481.21" width="0.65" height="30.57" fill="#984EA3" stroke="#000" stroke-width="2.7"/>
<rect x="520.16" y="481.21" width="0.65" height="30.57" fill="#33702E" stroke="#000" stroke-width="2.7"/>
<rect x="520.81" y="481.21" width="53.19" height="30.57" fill="#6E6E6E" stroke="#000" stroke-width="2.7"/>
<rect x="247.7" y="515.18" width="217.32" height="30.57" fill="#03386A" stroke="#000" stroke-width="2.7"/>
<rect x="465.02" y="515.18" width="17.29" height="30.57" fill="#3A7FBC" stroke="#000" stroke-width="2.7"/>
<rect x="482.31" y="515.18" width="14.36" height="30.57" fill="#D6EAF8" stroke="#000" stroke-width="2.7"/>
<rect x="496.67" y="515.18" width="18.27" height="30.57" fill="#E31A1C" stroke="#000" stroke-width="2.7"/>
<rect x="514.94" y="515.18" width="0.65" height="30.57" fill="#984EA3" stroke="#000" stroke-width="2.7"/>
<rect x="515.59" y="515.18" width="0.65" height="30.57" fill="#33702E" stroke="#000" stroke-width="2.7"/>
<rect x="516.24" y="515.18" width="57.76" height="30.57" fill="#6E6E6E" stroke="#000" stroke-width="2.7"/>
<rect x="247.7" y="549.15" width="206.87" height="30.57" fill="#03386A" stroke="#000" stroke-width="2.7"/>
<rect x="454.57" y="549.15" width="27.74" height="30.57" fill="#3A7FBC" stroke="#000" stroke-width="2.7"/>
<rect x="482.31" y="549.15" width="13.38" height="30.57" fill="#D6EAF8" stroke="#000" stroke-width="2.7"/>
<rect x="495.69" y="549.15" width="22.51" height="30.57" fill="#E31A1C" stroke="#000" stroke-width="2.7"/>
<rect x="518.2" y="549.15" width="0.65" height="30.57" fill="#984EA3" stroke="#000" stroke-width="2.7"/>
<rect x="518.86" y="549.15" width="0.65" height="30.57" fill="#33702E" stroke="#000" stroke-width="2.7"/>
<rect x="519.51" y="549.15" width="54.49" height="30.57" fill="#6E6E6E" stroke="#000" stroke-width="2.7"/>
<rect x="247.7" y="583.12" width="196.76" height="30.57" fill="#03386A" stroke="#000" stroke-width="2.7"/>
<rect x="444.46" y="583.12" width="25.45" height="30.57" fill="#3A7FBC" stroke="#000" stroke-width="2.7"/>
<rect x="469.91" y="583.12" width="15.66" height="30.57" fill="#D6EAF8" stroke="#000" stroke-width="2.7"/>
<rect x="485.57" y="583.12" width="35.57" height="30.57" fill="#E31A1C" stroke="#000" stroke-width="2.7"/>
<rect x="521.14" y="583.12" width="0.65" height="30.57" fill="#984EA3" stroke="#000" stroke-width="2.7"/>
<rect x="521.79" y="583.12" width="0.65" height="30.57" fill="#33702E" stroke="#000" stroke-width="2.7"/>
<rect x="522.44" y="583.12" width="51.56" height="30.57" fill="#6E6E6E" stroke="#000" stroke-width="2.7"/>
<rect x="247.7" y="617.09" width="194.15" height="30.57" fill="#03386A" stroke="#000" stroke-width="2.7"/>
<rect x="441.85" y="617.09" width="21.54" height="30.57" fill="#3A7FBC" stroke="#000" stroke-width="2.7"/>
<rect x="463.38" y="617.09" width="18.27" height="30.57" fill="#D6EAF8" stroke="#000" stroke-width="2.7"/>
<rect x="481.66" y="617.09" width="39.48" height="30.57" fill="#E31A1C" stroke="#000" stroke-width="2.7"/>
<rect x="521.14" y="617.09" width="0.65" height="30.57" fill="#984EA3" stroke="#000" stroke-width="2.7"/>
<rect x="521.79" y="617.09" width="0.65" height="30.57" fill="#33702E" stroke="#000" stroke-width="2.7"/>
<rect x="522.44" y="617.09" width="51.56" height="30.57" fill="#6E6E6E" stroke="#000" stroke-width="2.7"/>
<rect x="232.15" y="408.86" width="357.4" height="243.3" fill="none" stroke="#000" stroke-width="1.5"/>
<line x1="224.15" y1="428.56" x2="232.15" y2="428.56" stroke="#333" stroke-width="1.9"/>
<line x1="224.15" y1="462.53" x2="232.15" y2="462.53" stroke="#333" stroke-width="1.9"/>
<line x1="224.15" y1="496.5" x2="232.15" y2="496.5" stroke="#333" stroke-width="1.9"/>
<line x1="224.15" y1="530.47" x2="232.15" y2="530.47" stroke="#333" stroke-width="1.9"/>
<line x1="224.15" y1="564.44" x2="232.15" y2="564.44" stroke="#333" stroke-width="1.9"/>
<line x1="224.15" y1="598.41" x2="232.15" y2="598.41" stroke="#333" stroke-width="1.9"/>
<line x1="224.15" y1="632.38" x2="232.15" y2="632.38" stroke="#333" stroke-width="1.9"/>
<line x1="247.7" y1="652.16" x2="247.7" y2="660.66" stroke="#333" stroke-width="1.9"/>
<text transform="translate(247.7,690.46) scale(0.96,1)" font-size="35.08" text-anchor="middle" fill="#000">0.00</text>
<line x1="329.28" y1="652.16" x2="329.28" y2="660.66" stroke="#333" stroke-width="1.9"/>
<text transform="translate(329.28,690.46) scale(0.96,1)" font-size="35.08" text-anchor="middle" fill="#000">0.25</text>
<line x1="410.85" y1="652.16" x2="410.85" y2="660.66" stroke="#333" stroke-width="1.9"/>
<text transform="translate(410.85,690.46) scale(0.96,1)" font-size="35.08" text-anchor="middle" fill="#000">0.50</text>
<line x1="492.43" y1="652.16" x2="492.43" y2="660.66" stroke="#333" stroke-width="1.9"/>
<text transform="translate(492.43,690.46) scale(0.96,1)" font-size="35.08" text-anchor="middle" fill="#000">0.75</text>
<line x1="574" y1="652.16" x2="574" y2="660.66" stroke="#333" stroke-width="1.9"/>
<text transform="translate(574,690.46) scale(0.96,1)" font-size="35.08" text-anchor="middle" fill="#000">1.00</text>
<rect x="649.26" y="408.86" width="357.4" height="243.3" fill="#fff"/>
<line x1="664.81" y1="408.86" x2="664.81" y2="652.16" stroke="#EBEBEB" stroke-width="1.7"/>
<line x1="746.38" y1="408.86" x2="746.38" y2="652.16" stroke="#EBEBEB" stroke-width="1.7"/>
<line x1="827.96" y1="408.86" x2="827.96" y2="652.16" stroke="#EBEBEB" stroke-width="1.7"/>
<line x1="909.53" y1="408.86" x2="909.53" y2="652.16" stroke="#EBEBEB" stroke-width="1.7"/>
<line x1="991.11" y1="408.86" x2="991.11" y2="652.16" stroke="#EBEBEB" stroke-width="1.7"/>
<line x1="649.26" y1="428.56" x2="1006.66" y2="428.56" stroke="#EBEBEB" stroke-width="1.7"/>
<line x1="649.26" y1="462.53" x2="1006.66" y2="462.53" stroke="#EBEBEB" stroke-width="1.7"/>
<line x1="649.26" y1="496.5" x2="1006.66" y2="496.5" stroke="#EBEBEB" stroke-width="1.7"/>
<line x1="649.26" y1="530.47" x2="1006.66" y2="530.47" stroke="#EBEBEB" stroke-width="1.7"/>
<line x1="649.26" y1="564.44" x2="1006.66" y2="564.44" stroke="#EBEBEB" stroke-width="1.7"/>
<line x1="649.26" y1="598.41" x2="1006.66" y2="598.41" stroke="#EBEBEB" stroke-width="1.7"/>
<line x1="649.26" y1="632.38" x2="1006.66" y2="632.38" stroke="#EBEBEB" stroke-width="1.7"/>
<rect x="664.81" y="413.27" width="51.56" height="30.57" fill="#03386A" stroke="#000" stroke-width="2.7"/>
<rect x="716.37" y="413.27" width="11.09" height="30.57" fill="#3A7FBC" stroke="#000" stroke-width="2.7"/>
<rect x="727.46" y="413.27" width="0.98" height="30.57" fill="#D6EAF8" stroke="#000" stroke-width="2.7"/>
<rect x="728.44" y="413.27" width="10.44" height="30.57" fill="#E31A1C" stroke="#000" stroke-width="2.7"/>
<rect x="738.88" y="413.27" width="0.65" height="30.57" fill="#984EA3" stroke="#000" stroke-width="2.7"/>
<rect x="739.53" y="413.27" width="0.65" height="30.57" fill="#33702E" stroke="#000" stroke-width="2.7"/>
<rect x="740.19" y="413.27" width="250.92" height="30.57" fill="#6E6E6E" stroke="#000" stroke-width="2.7"/>
<rect x="664.81" y="447.24" width="92.02" height="30.57" fill="#03386A" stroke="#000" stroke-width="2.7"/>
<rect x="756.83" y="447.24" width="21.86" height="30.57" fill="#3A7FBC" stroke="#000" stroke-width="2.7"/>
<rect x="778.69" y="447.24" width="0.98" height="30.57" fill="#D6EAF8" stroke="#000" stroke-width="2.7"/>
<rect x="779.67" y="447.24" width="9.14" height="30.57" fill="#E31A1C" stroke="#000" stroke-width="2.7"/>
<rect x="788.8" y="447.24" width="0.65" height="30.57" fill="#984EA3" stroke="#000" stroke-width="2.7"/>
<rect x="789.46" y="447.24" width="0.65" height="30.57" fill="#33702E" stroke="#000" stroke-width="2.7"/>
<rect x="790.11" y="447.24" width="201" height="30.57" fill="#6E6E6E" stroke="#000" stroke-width="2.7"/>
<rect x="664.81" y="481.21" width="114.2" height="30.57" fill="#03386A" stroke="#000" stroke-width="2.7"/>
<rect x="779.01" y="481.21" width="26.76" height="30.57" fill="#3A7FBC" stroke="#000" stroke-width="2.7"/>
<rect x="805.77" y="481.21" width="0.98" height="30.57" fill="#D6EAF8" stroke="#000" stroke-width="2.7"/>
<rect x="806.75" y="481.21" width="6.2" height="30.57" fill="#E31A1C" stroke="#000" stroke-width="2.7"/>
<rect x="812.95" y="481.21" width="0.65" height="30.57" fill="#984EA3" stroke="#000" stroke-width="2.7"/>
<rect x="813.6" y="481.21" width="0.65" height="30.57" fill="#33702E" stroke="#000" stroke-width="2.7"/>
<rect x="814.26" y="481.21" width="176.85" height="30.57" fill="#6E6E6E" stroke="#000" stroke-width="2.7"/>
<rect x="664.81" y="515.18" width="98.22" height="30.57" fill="#03386A" stroke="#000" stroke-width="2.7"/>
<rect x="763.03" y="515.18" width="23.17" height="30.57" fill="#3A7FBC" stroke="#000" stroke-width="2.7"/>
<rect x="786.19" y="515.18" width="0.98" height="30.57" fill="#D6EAF8" stroke="#000" stroke-width="2.7"/>
<rect x="787.17" y="515.18" width="5.22" height="30.57" fill="#E31A1C" stroke="#000" stroke-width="2.7"/>
<rect x="792.39" y="515.18" width="0.65" height="30.57" fill="#984EA3" stroke="#000" stroke-width="2.7"/>
<rect x="793.05" y="515.18" width="0.65" height="30.57" fill="#33702E" stroke="#000" stroke-width="2.7"/>
<rect x="793.7" y="515.18" width="197.41" height="30.57" fill="#6E6E6E" stroke="#000" stroke-width="2.7"/>
<rect x="664.81" y="549.15" width="104.74" height="30.57" fill="#03386A" stroke="#000" stroke-width="2.7"/>
<rect x="769.55" y="549.15" width="31" height="30.57" fill="#3A7FBC" stroke="#000" stroke-width="2.7"/>
<rect x="800.55" y="549.15" width="0.98" height="30.57" fill="#D6EAF8" stroke="#000" stroke-width="2.7"/>
<rect x="801.53" y="549.15" width="8.16" height="30.57" fill="#E31A1C" stroke="#000" stroke-width="2.7"/>
<rect x="809.69" y="549.15" width="0.65" height="30.57" fill="#984EA3" stroke="#000" stroke-width="2.7"/>
<rect x="810.34" y="549.15" width="0.65" height="30.57" fill="#33702E" stroke="#000" stroke-width="2.7"/>
<rect x="810.99" y="549.15" width="180.12" height="30.57" fill="#6E6E6E" stroke="#000" stroke-width="2.7"/>
<rect x="664.81" y="583.12" width="96.58" height="30.57" fill="#03386A" stroke="#000" stroke-width="2.7"/>
<rect x="761.39" y="583.12" width="25.78" height="30.57" fill="#3A7FBC" stroke="#000" stroke-width="2.7"/>
<rect x="787.17" y="583.12" width="0.98" height="30.57" fill="#D6EAF8" stroke="#000" stroke-width="2.7"/>
<rect x="788.15" y="583.12" width="11.75" height="30.57" fill="#E31A1C" stroke="#000" stroke-width="2.7"/>
<rect x="799.9" y="583.12" width="0.65" height="30.57" fill="#984EA3" stroke="#000" stroke-width="2.7"/>
<rect x="800.55" y="583.12" width="0.65" height="30.57" fill="#33702E" stroke="#000" stroke-width="2.7"/>
<rect x="801.2" y="583.12" width="189.91" height="30.57" fill="#6E6E6E" stroke="#000" stroke-width="2.7"/>
<rect x="664.81" y="617.09" width="98.54" height="30.57" fill="#03386A" stroke="#000" stroke-width="2.7"/>
<rect x="763.35" y="617.09" width="24.47" height="30.57" fill="#3A7FBC" stroke="#000" stroke-width="2.7"/>
<rect x="787.83" y="617.09" width="0.98" height="30.57" fill="#D6EAF8" stroke="#000" stroke-width="2.7"/>
<rect x="788.8" y="617.09" width="11.09" height="30.57" fill="#E31A1C" stroke="#000" stroke-width="2.7"/>
<rect x="799.9" y="617.09" width="0.65" height="30.57" fill="#984EA3" stroke="#000" stroke-width="2.7"/>
<rect x="800.55" y="617.09" width="0.65" height="30.57" fill="#33702E" stroke="#000" stroke-width="2.7"/>
<rect x="801.2" y="617.09" width="189.91" height="30.57" fill="#6E6E6E" stroke="#000" stroke-width="2.7"/>
<rect x="649.26" y="408.86" width="357.4" height="243.3" fill="none" stroke="#000" stroke-width="1.5"/>
<line x1="641.26" y1="428.56" x2="649.26" y2="428.56" stroke="#333" stroke-width="1.9"/>
<line x1="641.26" y1="462.53" x2="649.26" y2="462.53" stroke="#333" stroke-width="1.9"/>
<line x1="641.26" y1="496.5" x2="649.26" y2="496.5" stroke="#333" stroke-width="1.9"/>
<line x1="641.26" y1="530.47" x2="649.26" y2="530.47" stroke="#333" stroke-width="1.9"/>
<line x1="641.26" y1="564.44" x2="649.26" y2="564.44" stroke="#333" stroke-width="1.9"/>
<line x1="641.26" y1="598.41" x2="649.26" y2="598.41" stroke="#333" stroke-width="1.9"/>
<line x1="641.26" y1="632.38" x2="649.26" y2="632.38" stroke="#333" stroke-width="1.9"/>
<line x1="664.81" y1="652.16" x2="664.81" y2="660.66" stroke="#333" stroke-width="1.9"/>
<text transform="translate(664.81,690.46) scale(0.96,1)" font-size="35.08" text-anchor="middle" fill="#000">0.00</text>
<line x1="746.38" y1="652.16" x2="746.38" y2="660.66" stroke="#333" stroke-width="1.9"/>
<text transform="translate(746.38,690.46) scale(0.96,1)" font-size="35.08" text-anchor="middle" fill="#000">0.25</text>
<line x1="827.96" y1="652.16" x2="827.96" y2="660.66" stroke="#333" stroke-width="1.9"/>
<text transform="translate(827.96,690.46) scale(0.96,1)" font-size="35.08" text-anchor="middle" fill="#000">0.50</text>
<line x1="909.53" y1="652.16" x2="909.53" y2="660.66" stroke="#333" stroke-width="1.9"/>
<text transform="translate(909.53,690.46) scale(0.96,1)" font-size="35.08" text-anchor="middle" fill="#000">0.75</text>
<line x1="991.11" y1="652.16" x2="991.11" y2="660.66" stroke="#333" stroke-width="1.9"/>
<text transform="translate(991.11,690.46) scale(0.96,1)" font-size="35.08" text-anchor="middle" fill="#000">1.00</text>
<rect x="1479.1" y="408.86" width="357.4" height="243.3" fill="#fff"/>
<line x1="1494.65" y1="408.86" x2="1494.65" y2="652.16" stroke="#EBEBEB" stroke-width="1.7"/>
<line x1="1576.22" y1="408.86" x2="1576.22" y2="652.16" stroke="#EBEBEB" stroke-width="1.7"/>
<line x1="1657.8" y1="408.86" x2="1657.8" y2="652.16" stroke="#EBEBEB" stroke-width="1.7"/>
<line x1="1739.38" y1="408.86" x2="1739.38" y2="652.16" stroke="#EBEBEB" stroke-width="1.7"/>
<line x1="1820.95" y1="408.86" x2="1820.95" y2="652.16" stroke="#EBEBEB" stroke-width="1.7"/>
<line x1="1479.1" y1="428.56" x2="1836.5" y2="428.56" stroke="#EBEBEB" stroke-width="1.7"/>
<line x1="1479.1" y1="462.53" x2="1836.5" y2="462.53" stroke="#EBEBEB" stroke-width="1.7"/>
<line x1="1479.1" y1="496.5" x2="1836.5" y2="496.5" stroke="#EBEBEB" stroke-width="1.7"/>
<line x1="1479.1" y1="530.47" x2="1836.5" y2="530.47" stroke="#EBEBEB" stroke-width="1.7"/>
<line x1="1479.1" y1="564.44" x2="1836.5" y2="564.44" stroke="#EBEBEB" stroke-width="1.7"/>
<line x1="1479.1" y1="598.41" x2="1836.5" y2="598.41" stroke="#EBEBEB" stroke-width="1.7"/>
<line x1="1479.1" y1="632.38" x2="1836.5" y2="632.38" stroke="#EBEBEB" stroke-width="1.7"/>
<rect x="1494.65" y="413.27" width="81.25" height="30.57" fill="#66C2A5" stroke="#000" stroke-width="2.7"/>
<rect x="1575.9" y="413.27" width="167.72" height="30.57" fill="#FC8D62" stroke="#000" stroke-width="2.7"/>
<rect x="1743.62" y="413.27" width="44.7" height="30.57" fill="#8DA0CB" stroke="#000" stroke-width="2.7"/>
<rect x="1788.32" y="413.27" width="0.98" height="30.57" fill="#FFD92F" stroke="#000" stroke-width="2.7"/>
<rect x="1789.3" y="413.27" width="12.73" height="30.57" fill="#E5C494" stroke="#000" stroke-width="2.7"/>
<rect x="1802.02" y="413.27" width="18.93" height="30.57" fill="#6E6E6E" stroke="#000" stroke-width="2.7"/>
<rect x="1494.65" y="447.24" width="67.87" height="30.57" fill="#66C2A5" stroke="#000" stroke-width="2.7"/>
<rect x="1562.52" y="447.24" width="185.66" height="30.57" fill="#FC8D62" stroke="#000" stroke-width="2.7"/>
<rect x="1748.19" y="447.24" width="60.37" height="30.57" fill="#8DA0CB" stroke="#000" stroke-width="2.7"/>
<rect x="1808.55" y="447.24" width="5.55" height="30.57" fill="#E5C494" stroke="#000" stroke-width="2.7"/>
<rect x="1814.1" y="447.24" width="1.31" height="30.57" fill="#FFD92F" stroke="#000" stroke-width="2.7"/>
<rect x="1815.4" y="447.24" width="5.55" height="30.57" fill="#6E6E6E" stroke="#000" stroke-width="2.7"/>
<rect x="1494.65" y="481.21" width="64.93" height="30.57" fill="#66C2A5" stroke="#000" stroke-width="2.7"/>
<rect x="1559.58" y="481.21" width="190.23" height="30.57" fill="#FC8D62" stroke="#000" stroke-width="2.7"/>
<rect x="1749.82" y="481.21" width="55.47" height="30.57" fill="#8DA0CB" stroke="#000" stroke-width="2.7"/>
<rect x="1805.29" y="481.21" width="7.83" height="30.57" fill="#E5C494" stroke="#000" stroke-width="2.7"/>
<rect x="1813.12" y="481.21" width="0.98" height="30.57" fill="#FFD92F" stroke="#000" stroke-width="2.7"/>
<rect x="1814.1" y="481.21" width="6.85" height="30.57" fill="#6E6E6E" stroke="#000" stroke-width="2.7"/>
<rect x="1494.65" y="515.18" width="72.44" height="30.57" fill="#66C2A5" stroke="#000" stroke-width="2.7"/>
<rect x="1567.09" y="515.18" width="176.53" height="30.57" fill="#FC8D62" stroke="#000" stroke-width="2.7"/>
<rect x="1743.62" y="515.18" width="63.63" height="30.57" fill="#8DA0CB" stroke="#000" stroke-width="2.7"/>
<rect x="1807.25" y="515.18" width="7.5" height="30.57" fill="#E5C494" stroke="#000" stroke-width="2.7"/>
<rect x="1814.75" y="515.18" width="0.98" height="30.57" fill="#FFD92F" stroke="#000" stroke-width="2.7"/>
<rect x="1815.73" y="515.18" width="5.22" height="30.57" fill="#6E6E6E" stroke="#000" stroke-width="2.7"/>
<rect x="1494.65" y="549.15" width="67.87" height="30.57" fill="#66C2A5" stroke="#000" stroke-width="2.7"/>
<rect x="1562.52" y="549.15" width="169.68" height="30.57" fill="#FC8D62" stroke="#000" stroke-width="2.7"/>
<rect x="1732.2" y="549.15" width="74.07" height="30.57" fill="#8DA0CB" stroke="#000" stroke-width="2.7"/>
<rect x="1806.27" y="549.15" width="7.5" height="30.57" fill="#E5C494" stroke="#000" stroke-width="2.7"/>
<rect x="1813.77" y="549.15" width="0.98" height="30.57" fill="#FFD92F" stroke="#000" stroke-width="2.7"/>
<rect x="1814.75" y="549.15" width="6.2" height="30.57" fill="#6E6E6E" stroke="#000" stroke-width="2.7"/>
<rect x="1494.65" y="583.12" width="65.26" height="30.57" fill="#66C2A5" stroke="#000" stroke-width="2.7"/>
<rect x="1559.91" y="583.12" width="178.16" height="30.57" fill="#FC8D62" stroke="#000" stroke-width="2.7"/>
<rect x="1738.07" y="583.12" width="69.83" height="30.57" fill="#8DA0CB" stroke="#000" stroke-width="2.7"/>
<rect x="1807.9" y="583.12" width="7.83" height="30.57" fill="#E5C494" stroke="#000" stroke-width="2.7"/>
<rect x="1815.73" y="583.12" width="0.98" height="30.57" fill="#FFD92F" stroke="#000" stroke-width="2.7"/>
<rect x="1816.71" y="583.12" width="4.24" height="30.57" fill="#6E6E6E" stroke="#000" stroke-width="2.7"/>
<rect x="1494.65" y="617.09" width="70.48" height="30.57" fill="#66C2A5" stroke="#000" stroke-width="2.7"/>
<rect x="1565.13" y="617.09" width="173.27" height="30.57" fill="#FC8D62" stroke="#000" stroke-width="2.7"/>
<rect x="1738.4" y="617.09" width="70.15" height="30.57" fill="#8DA0CB" stroke="#000" stroke-width="2.7"/>
<rect x="1808.55" y="617.09" width="7.18" height="30.57" fill="#E5C494" stroke="#000" stroke-width="2.7"/>
<rect x="1815.73" y="617.09" width="0.98" height="30.57" fill="#FFD92F" stroke="#000" stroke-width="2.7"/>
<rect x="1816.71" y="617.09" width="4.24" height="30.57" fill="#6E6E6E" stroke="#000" stroke-width="2.7"/>
<rect x="1479.1" y="408.86" width="357.4" height="243.3" fill="none" stroke="#000" stroke-width="1.5"/>
<line x1="1471.1" y1="428.56" x2="1479.1" y2="428.56" stroke="#333" stroke-width="1.9"/>
<line x1="1471.1" y1="462.53" x2="1479.1" y2="462.53" stroke="#333" stroke-width="1.9"/>
<line x1="1471.1" y1="496.5" x2="1479.1" y2="496.5" stroke="#333" stroke-width="1.9"/>
<line x1="1471.1" y1="530.47" x2="1479.1" y2="530.47" stroke="#333" stroke-width="1.9"/>
<line x1="1471.1" y1="564.44" x2="1479.1" y2="564.44" stroke="#333" stroke-width="1.9"/>
<line x1="1471.1" y1="598.41" x2="1479.1" y2="598.41" stroke="#333" stroke-width="1.9"/>
<line x1="1471.1" y1="632.38" x2="1479.1" y2="632.38" stroke="#333" stroke-width="1.9"/>
<line x1="1494.65" y1="652.16" x2="1494.65" y2="660.66" stroke="#333" stroke-width="1.9"/>
<text transform="translate(1494.65,690.46) scale(0.96,1)" font-size="35.08" text-anchor="middle" fill="#000">0.00</text>
<line x1="1576.22" y1="652.16" x2="1576.22" y2="660.66" stroke="#333" stroke-width="1.9"/>
<text transform="translate(1576.22,690.46) scale(0.96,1)" font-size="35.08" text-anchor="middle" fill="#000">0.25</text>
<line x1="1657.8" y1="652.16" x2="1657.8" y2="660.66" stroke="#333" stroke-width="1.9"/>
<text transform="translate(1657.8,690.46) scale(0.96,1)" font-size="35.08" text-anchor="middle" fill="#000">0.50</text>
<line x1="1739.38" y1="652.16" x2="1739.38" y2="660.66" stroke="#333" stroke-width="1.9"/>
<text transform="translate(1739.38,690.46) scale(0.96,1)" font-size="35.08" text-anchor="middle" fill="#000">0.75</text>
<line x1="1820.95" y1="652.16" x2="1820.95" y2="660.66" stroke="#333" stroke-width="1.9"/>
<text transform="translate(1820.95,690.46) scale(0.96,1)" font-size="35.08" text-anchor="middle" fill="#000">1.00</text>
<text transform="translate(217.6,440.56) scale(0.96,1)" font-size="35.08" text-anchor="end" fill="#000">T0</text>
<text transform="translate(217.6,474.53) scale(0.96,1)" font-size="35.08" text-anchor="end" fill="#000">400</text>
<text transform="translate(217.6,508.5) scale(0.96,1)" font-size="35.08" text-anchor="end" fill="#000">800</text>
<text transform="translate(217.6,542.47) scale(0.96,1)" font-size="35.08" text-anchor="end" fill="#000">1200</text>
<text transform="translate(217.6,576.44) scale(0.96,1)" font-size="35.08" text-anchor="end" fill="#000">400</text>
<text transform="translate(217.6,610.41) scale(0.96,1)" font-size="35.08" text-anchor="end" fill="#000">800</text>
<text transform="translate(217.6,644.38) scale(0.96,1)" font-size="35.08" text-anchor="end" fill="#000">1200</text>
<line x1="132.8" y1="450.46" x2="132.8" y2="544.21" stroke="#000" stroke-width="1.4"/>
<text transform="translate(55.15,506.3) scale(0.96,1)" font-size="35.08" fill="#000">T24</text>
<line x1="132.8" y1="554.54" x2="132.8" y2="648.28" stroke="#000" stroke-width="1.4"/>
<text transform="translate(55.15,608.21) scale(0.96,1)" font-size="35.08" fill="#000">T48</text>
<text transform="translate(18.6,734.1) scale(0.88,1)" font-size="40.51" font-weight="bold" fill="#000">E3</text>
<rect x="232.15" y="729.22" width="357.4" height="243.3" fill="#fff"/>
<line x1="247.7" y1="729.22" x2="247.7" y2="972.52" stroke="#EBEBEB" stroke-width="1.7"/>
<line x1="329.28" y1="729.22" x2="329.28" y2="972.52" stroke="#EBEBEB" stroke-width="1.7"/>
<line x1="410.85" y1="729.22" x2="410.85" y2="972.52" stroke="#EBEBEB" stroke-width="1.7"/>
<line x1="492.43" y1="729.22" x2="492.43" y2="972.52" stroke="#EBEBEB" stroke-width="1.7"/>
<line x1="574" y1="729.22" x2="574" y2="972.52" stroke="#EBEBEB" stroke-width="1.7"/>
<line x1="232.15" y1="748.92" x2="589.55" y2="748.92" stroke="#EBEBEB" stroke-width="1.7"/>
<line x1="232.15" y1="782.89" x2="589.55" y2="782.89" stroke="#EBEBEB" stroke-width="1.7"/>
<line x1="232.15" y1="816.86" x2="589.55" y2="816.86" stroke="#EBEBEB" stroke-width="1.7"/>
<line x1="232.15" y1="850.83" x2="589.55" y2="850.83" stroke="#EBEBEB" stroke-width="1.7"/>
<line x1="232.15" y1="884.8" x2="589.55" y2="884.8" stroke="#EBEBEB" stroke-width="1.7"/>
<line x1="232.15" y1="918.77" x2="589.55" y2="918.77" stroke="#EBEBEB" stroke-width="1.7"/>
<line x1="232.15" y1="952.74" x2="589.55" y2="952.74" stroke="#EBEBEB" stroke-width="1.7"/>
<rect x="247.7" y="733.63" width="9.46" height="30.57" fill="#03386A" stroke="#000" stroke-width="2.7"/>
<rect x="257.16" y="733.63" width="6.85" height="30.57" fill="#3A7FBC" stroke="#000" stroke-width="2.7"/>
<rect x="264.02" y="733.63" width="1.31" height="30.57" fill="#D6EAF8" stroke="#000" stroke-width="2.7"/>
<rect x="265.32" y="733.63" width="12.07" height="30.57" fill="#E31A1C" stroke="#000" stroke-width="2.7"/>
<rect x="277.39" y="733.63" width="16.31" height="30.57" fill="#984EA3" stroke="#000" stroke-width="2.7"/>
<rect x="293.71" y="733.63" width="25.45" height="30.57" fill="#33702E" stroke="#000" stroke-width="2.7"/>
<rect x="319.16" y="733.63" width="254.84" height="30.57" fill="#6E6E6E" stroke="#000" stroke-width="2.7"/>
<rect x="247.7" y="767.6" width="45.68" height="30.57" fill="#03386A" stroke="#000" stroke-width="2.7"/>
<rect x="293.38" y="767.6" width="15.99" height="30.57" fill="#3A7FBC" stroke="#000" stroke-width="2.7"/>
<rect x="309.37" y="767.6" width="1.96" height="30.57" fill="#D6EAF8" stroke="#000" stroke-width="2.7"/>
<rect x="311.33" y="767.6" width="10.12" height="30.57" fill="#E31A1C" stroke="#000" stroke-width="2.7"/>
<rect x="321.44" y="767.6" width="55.47" height="30.57" fill="#984EA3" stroke="#000" stroke-width="2.7"/>
<rect x="376.91" y="767.6" width="19.58" height="30.57" fill="#33702E" stroke="#000" stroke-width="2.7"/>
<rect x="396.49" y="767.6" width="177.51" height="30.57" fill="#6E6E6E" stroke="#000" stroke-width="2.7"/>
<rect x="247.7" y="801.57" width="31.65" height="30.57" fill="#03386A" stroke="#000" stroke-width="2.7"/>
<rect x="279.35" y="801.57" width="12.07" height="30.57" fill="#3A7FBC" stroke="#000" stroke-width="2.7"/>
<rect x="291.42" y="801.57" width="1.96" height="30.57" fill="#D6EAF8" stroke="#000" stroke-width="2.7"/>
<rect x="293.38" y="801.57" width="17.29" height="30.57" fill="#E31A1C" stroke="#000" stroke-width="2.7"/>
<rect x="310.68" y="801.57" width="49.92" height="30.57" fill="#984EA3" stroke="#000" stroke-width="2.7"/>
<rect x="360.6" y="801.57" width="58.41" height="30.57" fill="#33702E" stroke="#000" stroke-width="2.7"/>
<rect x="419.01" y="801.57" width="154.99" height="30.57" fill="#6E6E6E" stroke="#000" stroke-width="2.7"/>
<rect x="247.7" y="835.54" width="35.57" height="30.57" fill="#03386A" stroke="#000" stroke-width="2.7"/>
<rect x="283.27" y="835.54" width="13.05" height="30.57" fill="#3A7FBC" stroke="#000" stroke-width="2.7"/>
<rect x="296.32" y="835.54" width="1.96" height="30.57" fill="#D6EAF8" stroke="#000" stroke-width="2.7"/>
<rect x="298.28" y="835.54" width="8.48" height="30.57" fill="#E31A1C" stroke="#000" stroke-width="2.7"/>
<rect x="306.76" y="835.54" width="62.32" height="30.57" fill="#984EA3" stroke="#000" stroke-width="2.7"/>
<rect x="369.08" y="835.54" width="21.21" height="30.57" fill="#33702E" stroke="#000" stroke-width="2.7"/>
<rect x="390.29" y="835.54" width="183.71" height="30.57" fill="#6E6E6E" stroke="#000" stroke-width="2.7"/>
<rect x="247.7" y="869.51" width="99.85" height="30.57" fill="#03386A" stroke="#000" stroke-width="2.7"/>
<rect x="347.55" y="869.51" width="19.58" height="30.57" fill="#3A7FBC" stroke="#000" stroke-width="2.7"/>
<rect x="367.13" y="869.51" width="1.96" height="30.57" fill="#D6EAF8" stroke="#000" stroke-width="2.7"/>
<rect x="369.08" y="869.51" width="4.89" height="30.57" fill="#E31A1C" stroke="#000" stroke-width="2.7"/>
<rect x="373.98" y="869.51" width="39.81" height="30.57" fill="#984EA3" stroke="#000" stroke-width="2.7"/>
<rect x="413.79" y="869.51" width="9.46" height="30.57" fill="#33702E" stroke="#000" stroke-width="2.7"/>
<rect x="423.25" y="869.51" width="150.75" height="30.57" fill="#6E6E6E" stroke="#000" stroke-width="2.7"/>
<rect x="247.7" y="903.48" width="100.5" height="30.57" fill="#03386A" stroke="#000" stroke-width="2.7"/>
<rect x="348.2" y="903.48" width="25.13" height="30.57" fill="#3A7FBC" stroke="#000" stroke-width="2.7"/>
<rect x="373.33" y="903.48" width="1.96" height="30.57" fill="#D6EAF8" stroke="#000" stroke-width="2.7"/>
<rect x="375.28" y="903.48" width="5.87" height="30.57" fill="#E31A1C" stroke="#000" stroke-width="2.7"/>
<rect x="381.16" y="903.48" width="38.18" height="30.57" fill="#984EA3" stroke="#000" stroke-width="2.7"/>
<rect x="419.33" y="903.48" width="7.83" height="30.57" fill="#33702E" stroke="#000" stroke-width="2.7"/>
<rect x="427.17" y="903.48" width="146.83" height="30.57" fill="#6E6E6E" stroke="#000" stroke-width="2.7"/>
<rect x="247.7" y="937.45" width="98.54" height="30.57" fill="#03386A" stroke="#000" stroke-width="2.7"/>
<rect x="346.24" y="937.45" width="24.47" height="30.57" fill="#3A7FBC" stroke="#000" stroke-width="2.7"/>
<rect x="370.72" y="937.45" width="1.96" height="30.57" fill="#D6EAF8" stroke="#000" stroke-width="2.7"/>
<rect x="372.67" y="937.45" width="9.79" height="30.57" fill="#E31A1C" stroke="#000" stroke-width="2.7"/>
<rect x="382.46" y="937.45" width="35.89" height="30.57" fill="#984EA3" stroke="#000" stroke-width="2.7"/>
<rect x="418.35" y="937.45" width="10.77" height="30.57" fill="#33702E" stroke="#000" stroke-width="2.7"/>
<rect x="429.12" y="937.45" width="144.88" height="30.57" fill="#6E6E6E" stroke="#000" stroke-width="2.7"/>
<rect x="232.15" y="729.22" width="357.4" height="243.3" fill="none" stroke="#000" stroke-width="1.5"/>
<line x1="224.15" y1="748.92" x2="232.15" y2="748.92" stroke="#333" stroke-width="1.9"/>
<line x1="224.15" y1="782.89" x2="232.15" y2="782.89" stroke="#333" stroke-width="1.9"/>
<line x1="224.15" y1="816.86" x2="232.15" y2="816.86" stroke="#333" stroke-width="1.9"/>
<line x1="224.15" y1="850.83" x2="232.15" y2="850.83" stroke="#333" stroke-width="1.9"/>
<line x1="224.15" y1="884.8" x2="232.15" y2="884.8" stroke="#333" stroke-width="1.9"/>
<line x1="224.15" y1="918.77" x2="232.15" y2="918.77" stroke="#333" stroke-width="1.9"/>
<line x1="224.15" y1="952.74" x2="232.15" y2="952.74" stroke="#333" stroke-width="1.9"/>
<line x1="247.7" y1="972.52" x2="247.7" y2="981.02" stroke="#333" stroke-width="1.9"/>
<text transform="translate(247.7,1010.82) scale(0.96,1)" font-size="35.08" text-anchor="middle" fill="#000">0.00</text>
<line x1="329.28" y1="972.52" x2="329.28" y2="981.02" stroke="#333" stroke-width="1.9"/>
<text transform="translate(329.28,1010.82) scale(0.96,1)" font-size="35.08" text-anchor="middle" fill="#000">0.25</text>
<line x1="410.85" y1="972.52" x2="410.85" y2="981.02" stroke="#333" stroke-width="1.9"/>
<text transform="translate(410.85,1010.82) scale(0.96,1)" font-size="35.08" text-anchor="middle" fill="#000">0.50</text>
<line x1="492.43" y1="972.52" x2="492.43" y2="981.02" stroke="#333" stroke-width="1.9"/>
<text transform="translate(492.43,1010.82) scale(0.96,1)" font-size="35.08" text-anchor="middle" fill="#000">0.75</text>
<line x1="574" y1="972.52" x2="574" y2="981.02" stroke="#333" stroke-width="1.9"/>
<text transform="translate(574,1010.82) scale(0.96,1)" font-size="35.08" text-anchor="middle" fill="#000">1.00</text>
<rect x="649.26" y="729.22" width="357.4" height="243.3" fill="#fff"/>
<line x1="664.81" y1="729.22" x2="664.81" y2="972.52" stroke="#EBEBEB" stroke-width="1.7"/>
<line x1="746.38" y1="729.22" x2="746.38" y2="972.52" stroke="#EBEBEB" stroke-width="1.7"/>
<line x1="827.96" y1="729.22" x2="827.96" y2="972.52" stroke="#EBEBEB" stroke-width="1.7"/>
<line x1="909.53" y1="729.22" x2="909.53" y2="972.52" stroke="#EBEBEB" stroke-width="1.7"/>
<line x1="991.11" y1="729.22" x2="991.11" y2="972.52" stroke="#EBEBEB" stroke-width="1.7"/>
<line x1="649.26" y1="748.92" x2="1006.66" y2="748.92" stroke="#EBEBEB" stroke-width="1.7"/>
<line x1="649.26" y1="782.89" x2="1006.66" y2="782.89" stroke="#EBEBEB" stroke-width="1.7"/>
<line x1="649.26" y1="816.86" x2="1006.66" y2="816.86" stroke="#EBEBEB" stroke-width="1.7"/>
<line x1="649.26" y1="850.83" x2="1006.66" y2="850.83" stroke="#EBEBEB" stroke-width="1.7"/>
<line x1="649.26" y1="884.8" x2="1006.66" y2="884.8" stroke="#EBEBEB" stroke-width="1.7"/>
<line x1="649.26" y1="918.77" x2="1006.66" y2="918.77" stroke="#EBEBEB" stroke-width="1.7"/>
<line x1="649.26" y1="952.74" x2="1006.66" y2="952.74" stroke="#EBEBEB" stroke-width="1.7"/>
<rect x="664.81" y="733.63" width="2.28" height="30.57" fill="#03386A" stroke="#000" stroke-width="2.7"/>
<rect x="667.09" y="733.63" width="1.96" height="30.57" fill="#3A7FBC" stroke="#000" stroke-width="2.7"/>
<rect x="669.05" y="733.63" width="2.28" height="30.57" fill="#D6EAF8" stroke="#000" stroke-width="2.7"/>
<rect x="671.34" y="733.63" width="3.26" height="30.57" fill="#E31A1C" stroke="#000" stroke-width="2.7"/>
<rect x="674.6" y="733.63" width="11.09" height="30.57" fill="#984EA3" stroke="#000" stroke-width="2.7"/>
<rect x="685.69" y="733.63" width="9.14" height="30.57" fill="#33702E" stroke="#000" stroke-width="2.7"/>
<rect x="694.83" y="733.63" width="296.28" height="30.57" fill="#6E6E6E" stroke="#000" stroke-width="2.7"/>
<rect x="664.81" y="767.6" width="15.66" height="30.57" fill="#03386A" stroke="#000" stroke-width="2.7"/>
<rect x="680.47" y="767.6" width="7.18" height="30.57" fill="#3A7FBC" stroke="#000" stroke-width="2.7"/>
<rect x="687.65" y="767.6" width="1.31" height="30.57" fill="#D6EAF8" stroke="#000" stroke-width="2.7"/>
<rect x="688.96" y="767.6" width="3.26" height="30.57" fill="#E31A1C" stroke="#000" stroke-width="2.7"/>
<rect x="692.22" y="767.6" width="51.23" height="30.57" fill="#984EA3" stroke="#000" stroke-width="2.7"/>
<rect x="743.45" y="767.6" width="11.75" height="30.57" fill="#33702E" stroke="#000" stroke-width="2.7"/>
<rect x="755.2" y="767.6" width="235.91" height="30.57" fill="#6E6E6E" stroke="#000" stroke-width="2.7"/>
<rect x="664.81" y="801.57" width="14.68" height="30.57" fill="#03386A" stroke="#000" stroke-width="2.7"/>
<rect x="679.49" y="801.57" width="6.2" height="30.57" fill="#3A7FBC" stroke="#000" stroke-width="2.7"/>
<rect x="685.69" y="801.57" width="1.31" height="30.57" fill="#D6EAF8" stroke="#000" stroke-width="2.7"/>
<rect x="687" y="801.57" width="3.59" height="30.57" fill="#E31A1C" stroke="#000" stroke-width="2.7"/>
<rect x="690.59" y="801.57" width="52.21" height="30.57" fill="#984EA3" stroke="#000" stroke-width="2.7"/>
<rect x="742.8" y="801.57" width="11.42" height="30.57" fill="#33702E" stroke="#000" stroke-width="2.7"/>
<rect x="754.22" y="801.57" width="236.89" height="30.57" fill="#6E6E6E" stroke="#000" stroke-width="2.7"/>
<rect x="664.81" y="835.54" width="13.7" height="30.57" fill="#03386A" stroke="#000" stroke-width="2.7"/>
<rect x="678.51" y="835.54" width="3.92" height="30.57" fill="#3A7FBC" stroke="#000" stroke-width="2.7"/>
<rect x="682.43" y="835.54" width="1.31" height="30.57" fill="#D6EAF8" stroke="#000" stroke-width="2.7"/>
<rect x="683.74" y="835.54" width="2.94" height="30.57" fill="#E31A1C" stroke="#000" stroke-width="2.7"/>
<rect x="686.67" y="835.54" width="49.6" height="30.57" fill="#984EA3" stroke="#000" stroke-width="2.7"/>
<rect x="736.27" y="835.54" width="12.73" height="30.57" fill="#33702E" stroke="#000" stroke-width="2.7"/>
<rect x="749" y="835.54" width="242.11" height="30.57" fill="#6E6E6E" stroke="#000" stroke-width="2.7"/>
<rect x="664.81" y="869.51" width="46.33" height="30.57" fill="#03386A" stroke="#000" stroke-width="2.7"/>
<rect x="711.14" y="869.51" width="13.38" height="30.57" fill="#3A7FBC" stroke="#000" stroke-width="2.7"/>
<rect x="724.52" y="869.51" width="1.31" height="30.57" fill="#D6EAF8" stroke="#000" stroke-width="2.7"/>
<rect x="725.83" y="869.51" width="2.28" height="30.57" fill="#E31A1C" stroke="#000" stroke-width="2.7"/>
<rect x="728.11" y="869.51" width="46.66" height="30.57" fill="#984EA3" stroke="#000" stroke-width="2.7"/>
<rect x="774.77" y="869.51" width="8.81" height="30.57" fill="#33702E" stroke="#000" stroke-width="2.7"/>
<rect x="783.58" y="869.51" width="207.53" height="30.57" fill="#6E6E6E" stroke="#000" stroke-width="2.7"/>
<rect x="664.81" y="903.48" width="45.68" height="30.57" fill="#03386A" stroke="#000" stroke-width="2.7"/>
<rect x="710.49" y="903.48" width="15.66" height="30.57" fill="#3A7FBC" stroke="#000" stroke-width="2.7"/>
<rect x="726.15" y="903.48" width="1.31" height="30.57" fill="#D6EAF8" stroke="#000" stroke-width="2.7"/>
<rect x="727.46" y="903.48" width="2.61" height="30.57" fill="#E31A1C" stroke="#000" stroke-width="2.7"/>
<rect x="730.07" y="903.48" width="47.64" height="30.57" fill="#984EA3" stroke="#000" stroke-width="2.7"/>
<rect x="777.71" y="903.48" width="6.53" height="30.57" fill="#33702E" stroke="#000" stroke-width="2.7"/>
<rect x="784.24" y="903.48" width="206.87" height="30.57" fill="#6E6E6E" stroke="#000" stroke-width="2.7"/>
<rect x="664.81" y="937.45" width="41.77" height="30.57" fill="#03386A" stroke="#000" stroke-width="2.7"/>
<rect x="706.58" y="937.45" width="15.01" height="30.57" fill="#3A7FBC" stroke="#000" stroke-width="2.7"/>
<rect x="721.59" y="937.45" width="1.31" height="30.57" fill="#D6EAF8" stroke="#000" stroke-width="2.7"/>
<rect x="722.89" y="937.45" width="1.96" height="30.57" fill="#E31A1C" stroke="#000" stroke-width="2.7"/>
<rect x="724.85" y="937.45" width="49.27" height="30.57" fill="#984EA3" stroke="#000" stroke-width="2.7"/>
<rect x="774.12" y="937.45" width="7.5" height="30.57" fill="#33702E" stroke="#000" stroke-width="2.7"/>
<rect x="781.63" y="937.45" width="209.48" height="30.57" fill="#6E6E6E" stroke="#000" stroke-width="2.7"/>
<rect x="649.26" y="729.22" width="357.4" height="243.3" fill="none" stroke="#000" stroke-width="1.5"/>
<line x1="641.26" y1="748.92" x2="649.26" y2="748.92" stroke="#333" stroke-width="1.9"/>
<line x1="641.26" y1="782.89" x2="649.26" y2="782.89" stroke="#333" stroke-width="1.9"/>
<line x1="641.26" y1="816.86" x2="649.26" y2="816.86" stroke="#333" stroke-width="1.9"/>
<line x1="641.26" y1="850.83" x2="649.26" y2="850.83" stroke="#333" stroke-width="1.9"/>
<line x1="641.26" y1="884.8" x2="649.26" y2="884.8" stroke="#333" stroke-width="1.9"/>
<line x1="641.26" y1="918.77" x2="649.26" y2="918.77" stroke="#333" stroke-width="1.9"/>
<line x1="641.26" y1="952.74" x2="649.26" y2="952.74" stroke="#333" stroke-width="1.9"/>
<line x1="664.81" y1="972.52" x2="664.81" y2="981.02" stroke="#333" stroke-width="1.9"/>
<text transform="translate(664.81,1010.82) scale(0.96,1)" font-size="35.08" text-anchor="middle" fill="#000">0.00</text>
<line x1="746.38" y1="972.52" x2="746.38" y2="981.02" stroke="#333" stroke-width="1.9"/>
<text transform="translate(746.38,1010.82) scale(0.96,1)" font-size="35.08" text-anchor="middle" fill="#000">0.25</text>
<line x1="827.96" y1="972.52" x2="827.96" y2="981.02" stroke="#333" stroke-width="1.9"/>
<text transform="translate(827.96,1010.82) scale(0.96,1)" font-size="35.08" text-anchor="middle" fill="#000">0.50</text>
<line x1="909.53" y1="972.52" x2="909.53" y2="981.02" stroke="#333" stroke-width="1.9"/>
<text transform="translate(909.53,1010.82) scale(0.96,1)" font-size="35.08" text-anchor="middle" fill="#000">0.75</text>
<line x1="991.11" y1="972.52" x2="991.11" y2="981.02" stroke="#333" stroke-width="1.9"/>
<text transform="translate(991.11,1010.82) scale(0.96,1)" font-size="35.08" text-anchor="middle" fill="#000">1.00</text>
<rect x="1063.9" y="729.22" width="357.4" height="243.3" fill="#fff"/>
<line x1="1079.45" y1="729.22" x2="1079.45" y2="972.52" stroke="#EBEBEB" stroke-width="1.7"/>
<line x1="1161.03" y1="729.22" x2="1161.03" y2="972.52" stroke="#EBEBEB" stroke-width="1.7"/>
<line x1="1242.6" y1="729.22" x2="1242.6" y2="972.52" stroke="#EBEBEB" stroke-width="1.7"/>
<line x1="1324.18" y1="729.22" x2="1324.18" y2="972.52" stroke="#EBEBEB" stroke-width="1.7"/>
<line x1="1405.75" y1="729.22" x2="1405.75" y2="972.52" stroke="#EBEBEB" stroke-width="1.7"/>
<line x1="1063.9" y1="748.92" x2="1421.3" y2="748.92" stroke="#EBEBEB" stroke-width="1.7"/>
<line x1="1063.9" y1="782.89" x2="1421.3" y2="782.89" stroke="#EBEBEB" stroke-width="1.7"/>
<line x1="1063.9" y1="816.86" x2="1421.3" y2="816.86" stroke="#EBEBEB" stroke-width="1.7"/>
<line x1="1063.9" y1="850.83" x2="1421.3" y2="850.83" stroke="#EBEBEB" stroke-width="1.7"/>
<line x1="1063.9" y1="884.8" x2="1421.3" y2="884.8" stroke="#EBEBEB" stroke-width="1.7"/>
<line x1="1063.9" y1="918.77" x2="1421.3" y2="918.77" stroke="#EBEBEB" stroke-width="1.7"/>
<line x1="1063.9" y1="952.74" x2="1421.3" y2="952.74" stroke="#EBEBEB" stroke-width="1.7"/>
<rect x="1079.45" y="733.63" width="1.31" height="30.57" fill="#03386A" stroke="#000" stroke-width="2.7"/>
<rect x="1080.76" y="733.63" width="1.31" height="30.57" fill="#3A7FBC" stroke="#000" stroke-width="2.7"/>
<rect x="1082.06" y="733.63" width="1.96" height="30.57" fill="#D6EAF8" stroke="#000" stroke-width="2.7"/>
<rect x="1084.02" y="733.63" width="17.29" height="30.57" fill="#E31A1C" stroke="#000" stroke-width="2.7"/>
<rect x="1101.31" y="733.63" width="50.25" height="30.57" fill="#984EA3" stroke="#000" stroke-width="2.7"/>
<rect x="1151.56" y="733.63" width="1.96" height="30.57" fill="#33702E" stroke="#000" stroke-width="2.7"/>
<rect x="1153.52" y="733.63" width="252.23" height="30.57" fill="#6E6E6E" stroke="#000" stroke-width="2.7"/>
<rect x="1079.45" y="767.6" width="6.2" height="30.57" fill="#03386A" stroke="#000" stroke-width="2.7"/>
<rect x="1085.65" y="767.6" width="1.96" height="30.57" fill="#3A7FBC" stroke="#000" stroke-width="2.7"/>
<rect x="1087.61" y="767.6" width="1.63" height="30.57" fill="#D6EAF8" stroke="#000" stroke-width="2.7"/>
<rect x="1089.24" y="767.6" width="2.94" height="30.57" fill="#E31A1C" stroke="#000" stroke-width="2.7"/>
<rect x="1092.18" y="767.6" width="163.48" height="30.57" fill="#984EA3" stroke="#000" stroke-width="2.7"/>
<rect x="1255.65" y="767.6" width="3.26" height="30.57" fill="#33702E" stroke="#000" stroke-width="2.7"/>
<rect x="1258.91" y="767.6" width="146.83" height="30.57" fill="#6E6E6E" stroke="#000" stroke-width="2.7"/>
<rect x="1079.45" y="835.54" width="4.57" height="30.57" fill="#03386A" stroke="#000" stroke-width="2.7"/>
<rect x="1084.02" y="835.54" width="1.96" height="30.57" fill="#3A7FBC" stroke="#000" stroke-width="2.7"/>
<rect x="1085.98" y="835.54" width="1.96" height="30.57" fill="#D6EAF8" stroke="#000" stroke-width="2.7"/>
<rect x="1087.93" y="835.54" width="3.26" height="30.57" fill="#E31A1C" stroke="#000" stroke-width="2.7"/>
<rect x="1091.2" y="835.54" width="132.8" height="30.57" fill="#984EA3" stroke="#000" stroke-width="2.7"/>
<rect x="1224" y="835.54" width="2.94" height="30.57" fill="#33702E" stroke="#000" stroke-width="2.7"/>
<rect x="1226.94" y="835.54" width="178.81" height="30.57" fill="#6E6E6E" stroke="#000" stroke-width="2.7"/>
<rect x="1079.45" y="869.51" width="30.67" height="30.57" fill="#03386A" stroke="#000" stroke-width="2.7"/>
<rect x="1110.12" y="869.51" width="7.5" height="30.57" fill="#3A7FBC" stroke="#000" stroke-width="2.7"/>
<rect x="1117.63" y="869.51" width="2.94" height="30.57" fill="#D6EAF8" stroke="#000" stroke-width="2.7"/>
<rect x="1120.56" y="869.51" width="3.92" height="30.57" fill="#E31A1C" stroke="#000" stroke-width="2.7"/>
<rect x="1124.48" y="869.51" width="130.19" height="30.57" fill="#984EA3" stroke="#000" stroke-width="2.7"/>
<rect x="1254.67" y="869.51" width="1.31" height="30.57" fill="#33702E" stroke="#000" stroke-width="2.7"/>
<rect x="1255.98" y="869.51" width="149.77" height="30.57" fill="#6E6E6E" stroke="#000" stroke-width="2.7"/>
<rect x="1079.45" y="937.45" width="35.24" height="30.57" fill="#03386A" stroke="#000" stroke-width="2.7"/>
<rect x="1114.69" y="937.45" width="6.2" height="30.57" fill="#3A7FBC" stroke="#000" stroke-width="2.7"/>
<rect x="1120.89" y="937.45" width="2.94" height="30.57" fill="#D6EAF8" stroke="#000" stroke-width="2.7"/>
<rect x="1123.83" y="937.45" width="3.92" height="30.57" fill="#E31A1C" stroke="#000" stroke-width="2.7"/>
<rect x="1127.74" y="937.45" width="116.82" height="30.57" fill="#984EA3" stroke="#000" stroke-width="2.7"/>
<rect x="1244.56" y="937.45" width="1.63" height="30.57" fill="#33702E" stroke="#000" stroke-width="2.7"/>
<rect x="1246.19" y="937.45" width="159.56" height="30.57" fill="#6E6E6E" stroke="#000" stroke-width="2.7"/>
<rect x="1063.9" y="729.22" width="357.4" height="243.3" fill="none" stroke="#000" stroke-width="1.5"/>
<line x1="1055.9" y1="748.92" x2="1063.9" y2="748.92" stroke="#333" stroke-width="1.9"/>
<line x1="1055.9" y1="782.89" x2="1063.9" y2="782.89" stroke="#333" stroke-width="1.9"/>
<line x1="1055.9" y1="816.86" x2="1063.9" y2="816.86" stroke="#333" stroke-width="1.9"/>
<line x1="1055.9" y1="850.83" x2="1063.9" y2="850.83" stroke="#333" stroke-width="1.9"/>
<line x1="1055.9" y1="884.8" x2="1063.9" y2="884.8" stroke="#333" stroke-width="1.9"/>
<line x1="1055.9" y1="918.77" x2="1063.9" y2="918.77" stroke="#333" stroke-width="1.9"/>
<line x1="1055.9" y1="952.74" x2="1063.9" y2="952.74" stroke="#333" stroke-width="1.9"/>
<line x1="1079.45" y1="972.52" x2="1079.45" y2="981.02" stroke="#333" stroke-width="1.9"/>
<text transform="translate(1079.45,1010.82) scale(0.96,1)" font-size="35.08" text-anchor="middle" fill="#000">0.00</text>
<line x1="1161.03" y1="972.52" x2="1161.03" y2="981.02" stroke="#333" stroke-width="1.9"/>
<text transform="translate(1161.03,1010.82) scale(0.96,1)" font-size="35.08" text-anchor="middle" fill="#000">0.25</text>
<line x1="1242.6" y1="972.52" x2="1242.6" y2="981.02" stroke="#333" stroke-width="1.9"/>
<text transform="translate(1242.6,1010.82) scale(0.96,1)" font-size="35.08" text-anchor="middle" fill="#000">0.50</text>
<line x1="1324.18" y1="972.52" x2="1324.18" y2="981.02" stroke="#333" stroke-width="1.9"/>
<text transform="translate(1324.18,1010.82) scale(0.96,1)" font-size="35.08" text-anchor="middle" fill="#000">0.75</text>
<line x1="1405.75" y1="972.52" x2="1405.75" y2="981.02" stroke="#333" stroke-width="1.9"/>
<text transform="translate(1405.75,1010.82) scale(0.96,1)" font-size="35.08" text-anchor="middle" fill="#000">1.00</text>
<rect x="1479.1" y="729.22" width="357.4" height="243.3" fill="#fff"/>
<line x1="1494.65" y1="729.22" x2="1494.65" y2="972.52" stroke="#EBEBEB" stroke-width="1.7"/>
<line x1="1576.22" y1="729.22" x2="1576.22" y2="972.52" stroke="#EBEBEB" stroke-width="1.7"/>
<line x1="1657.8" y1="729.22" x2="1657.8" y2="972.52" stroke="#EBEBEB" stroke-width="1.7"/>
<line x1="1739.38" y1="729.22" x2="1739.38" y2="972.52" stroke="#EBEBEB" stroke-width="1.7"/>
<line x1="1820.95" y1="729.22" x2="1820.95" y2="972.52" stroke="#EBEBEB" stroke-width="1.7"/>
<line x1="1479.1" y1="748.92" x2="1836.5" y2="748.92" stroke="#EBEBEB" stroke-width="1.7"/>
<line x1="1479.1" y1="782.89" x2="1836.5" y2="782.89" stroke="#EBEBEB" stroke-width="1.7"/>
<line x1="1479.1" y1="816.86" x2="1836.5" y2="816.86" stroke="#EBEBEB" stroke-width="1.7"/>
<line x1="1479.1" y1="850.83" x2="1836.5" y2="850.83" stroke="#EBEBEB" stroke-width="1.7"/>
<line x1="1479.1" y1="884.8" x2="1836.5" y2="884.8" stroke="#EBEBEB" stroke-width="1.7"/>
<line x1="1479.1" y1="918.77" x2="1836.5" y2="918.77" stroke="#EBEBEB" stroke-width="1.7"/>
<line x1="1479.1" y1="952.74" x2="1836.5" y2="952.74" stroke="#EBEBEB" stroke-width="1.7"/>
<rect x="1494.65" y="733.63" width="115.51" height="30.57" fill="#66C2A5" stroke="#000" stroke-width="2.7"/>
<rect x="1610.16" y="733.63" width="78.96" height="30.57" fill="#FC8D62" stroke="#000" stroke-width="2.7"/>
<rect x="1689.12" y="733.63" width="42.09" height="30.57" fill="#8DA0CB" stroke="#000" stroke-width="2.7"/>
<rect x="1731.22" y="733.63" width="28.06" height="30.57" fill="#E5C494" stroke="#000" stroke-width="2.7"/>
<rect x="1759.28" y="733.63" width="33.94" height="30.57" fill="#FFD92F" stroke="#000" stroke-width="2.7"/>
<rect x="1793.21" y="733.63" width="27.74" height="30.57" fill="#6E6E6E" stroke="#000" stroke-width="2.7"/>
<rect x="1494.65" y="767.6" width="90.71" height="30.57" fill="#66C2A5" stroke="#000" stroke-width="2.7"/>
<rect x="1585.36" y="767.6" width="110.62" height="30.57" fill="#FC8D62" stroke="#000" stroke-width="2.7"/>
<rect x="1695.98" y="767.6" width="50.58" height="30.57" fill="#8DA0CB" stroke="#000" stroke-width="2.7"/>
<rect x="1746.55" y="767.6" width="24.47" height="30.57" fill="#E5C494" stroke="#000" stroke-width="2.7"/>
<rect x="1771.03" y="767.6" width="35.24" height="30.57" fill="#FFD92F" stroke="#000" stroke-width="2.7"/>
<rect x="1806.27" y="767.6" width="14.68" height="30.57" fill="#6E6E6E" stroke="#000" stroke-width="2.7"/>
<rect x="1494.65" y="801.57" width="87.77" height="30.57" fill="#66C2A5" stroke="#000" stroke-width="2.7"/>
<rect x="1582.42" y="801.57" width="97.56" height="30.57" fill="#FC8D62" stroke="#000" stroke-width="2.7"/>
<rect x="1679.99" y="801.57" width="45.03" height="30.57" fill="#8DA0CB" stroke="#000" stroke-width="2.7"/>
<rect x="1725.02" y="801.57" width="26.1" height="30.57" fill="#E5C494" stroke="#000" stroke-width="2.7"/>
<rect x="1751.12" y="801.57" width="54.17" height="30.57" fill="#FFD92F" stroke="#000" stroke-width="2.7"/>
<rect x="1805.29" y="801.57" width="15.66" height="30.57" fill="#6E6E6E" stroke="#000" stroke-width="2.7"/>
<rect x="1494.65" y="835.54" width="96.91" height="30.57" fill="#66C2A5" stroke="#000" stroke-width="2.7"/>
<rect x="1591.56" y="835.54" width="94.95" height="30.57" fill="#FC8D62" stroke="#000" stroke-width="2.7"/>
<rect x="1686.51" y="835.54" width="52.21" height="30.57" fill="#8DA0CB" stroke="#000" stroke-width="2.7"/>
<rect x="1738.72" y="835.54" width="27.74" height="30.57" fill="#E5C494" stroke="#000" stroke-width="2.7"/>
<rect x="1766.46" y="835.54" width="35.89" height="30.57" fill="#FFD92F" stroke="#000" stroke-width="2.7"/>
<rect x="1802.35" y="835.54" width="18.6" height="30.57" fill="#6E6E6E" stroke="#000" stroke-width="2.7"/>
<rect x="1494.65" y="869.51" width="75.38" height="30.57" fill="#66C2A5" stroke="#000" stroke-width="2.7"/>
<rect x="1570.03" y="869.51" width="104.42" height="30.57" fill="#FC8D62" stroke="#000" stroke-width="2.7"/>
<rect x="1674.44" y="869.51" width="71.46" height="30.57" fill="#8DA0CB" stroke="#000" stroke-width="2.7"/>
<rect x="1745.9" y="869.51" width="19.58" height="30.57" fill="#E5C494" stroke="#000" stroke-width="2.7"/>
<rect x="1765.48" y="869.51" width="44.7" height="30.57" fill="#FFD92F" stroke="#000" stroke-width="2.7"/>
<rect x="1810.18" y="869.51" width="10.77" height="30.57" fill="#6E6E6E" stroke="#000" stroke-width="2.7"/>
<rect x="1494.65" y="903.48" width="68.52" height="30.57" fill="#66C2A5" stroke="#000" stroke-width="2.7"/>
<rect x="1563.17" y="903.48" width="100.5" height="30.57" fill="#FC8D62" stroke="#000" stroke-width="2.7"/>
<rect x="1663.67" y="903.48" width="68.52" height="30.57" fill="#8DA0CB" stroke="#000" stroke-width="2.7"/>
<rect x="1732.2" y="903.48" width="16.97" height="30.57" fill="#E5C494" stroke="#000" stroke-width="2.7"/>
<rect x="1749.16" y="903.48" width="60.37" height="30.57" fill="#FFD92F" stroke="#000" stroke-width="2.7"/>
<rect x="1809.53" y="903.48" width="11.42" height="30.57" fill="#6E6E6E" stroke="#000" stroke-width="2.7"/>
<rect x="1494.65" y="937.45" width="76.35" height="30.57" fill="#66C2A5" stroke="#000" stroke-width="2.7"/>
<rect x="1571" y="937.45" width="100.83" height="30.57" fill="#FC8D62" stroke="#000" stroke-width="2.7"/>
<rect x="1671.83" y="937.45" width="75.05" height="30.57" fill="#8DA0CB" stroke="#000" stroke-width="2.7"/>
<rect x="1746.88" y="937.45" width="16.31" height="30.57" fill="#E5C494" stroke="#000" stroke-width="2.7"/>
<rect x="1763.19" y="937.45" width="46.33" height="30.57" fill="#FFD92F" stroke="#000" stroke-width="2.7"/>
<rect x="1809.53" y="937.45" width="11.42" height="30.57" fill="#6E6E6E" stroke="#000" stroke-width="2.7"/>
<rect x="1479.1" y="729.22" width="357.4" height="243.3" fill="none" stroke="#000" stroke-width="1.5"/>
<line x1="1471.1" y1="748.92" x2="1479.1" y2="748.92" stroke="#333" stroke-width="1.9"/>
<line x1="1471.1" y1="782.89" x2="1479.1" y2="782.89" stroke="#333" stroke-width="1.9"/>
<line x1="1471.1" y1="816.86" x2="1479.1" y2="816.86" stroke="#333" stroke-width="1.9"/>
<line x1="1471.1" y1="850.83" x2="1479.1" y2="850.83" stroke="#333" stroke-width="1.9"/>
<line x1="1471.1" y1="884.8" x2="1479.1" y2="884.8" stroke="#333" stroke-width="1.9"/>
<line x1="1471.1" y1="918.77" x2="1479.1" y2="918.77" stroke="#333" stroke-width="1.9"/>
<line x1="1471.1" y1="952.74" x2="1479.1" y2="952.74" stroke="#333" stroke-width="1.9"/>
<line x1="1494.65" y1="972.52" x2="1494.65" y2="981.02" stroke="#333" stroke-width="1.9"/>
<text transform="translate(1494.65,1010.82) scale(0.96,1)" font-size="35.08" text-anchor="middle" fill="#000">0.00</text>
<line x1="1576.22" y1="972.52" x2="1576.22" y2="981.02" stroke="#333" stroke-width="1.9"/>
<text transform="translate(1576.22,1010.82) scale(0.96,1)" font-size="35.08" text-anchor="middle" fill="#000">0.25</text>
<line x1="1657.8" y1="972.52" x2="1657.8" y2="981.02" stroke="#333" stroke-width="1.9"/>
<text transform="translate(1657.8,1010.82) scale(0.96,1)" font-size="35.08" text-anchor="middle" fill="#000">0.50</text>
<line x1="1739.38" y1="972.52" x2="1739.38" y2="981.02" stroke="#333" stroke-width="1.9"/>
<text transform="translate(1739.38,1010.82) scale(0.96,1)" font-size="35.08" text-anchor="middle" fill="#000">0.75</text>
<line x1="1820.95" y1="972.52" x2="1820.95" y2="981.02" stroke="#333" stroke-width="1.9"/>
<text transform="translate(1820.95,1010.82) scale(0.96,1)" font-size="35.08" text-anchor="middle" fill="#000">1.00</text>
<text transform="translate(217.6,760.92) scale(0.96,1)" font-size="35.08" text-anchor="end" fill="#000">T0</text>
<text transform="translate(217.6,794.89) scale(0.96,1)" font-size="35.08" text-anchor="end" fill="#000">400</text>
<text transform="translate(217.6,828.86) scale(0.96,1)" font-size="35.08" text-anchor="end" fill="#000">800</text>
<text transform="translate(217.6,862.83) scale(0.96,1)" font-size="35.08" text-anchor="end" fill="#000">1200</text>
<text transform="translate(217.6,896.8) scale(0.96,1)" font-size="35.08" text-anchor="end" fill="#000">400</text>
<text transform="translate(217.6,930.77) scale(0.96,1)" font-size="35.08" text-anchor="end" fill="#000">800</text>
<text transform="translate(217.6,964.74) scale(0.96,1)" font-size="35.08" text-anchor="end" fill="#000">1200</text>
<line x1="132.8" y1="770.82" x2="132.8" y2="864.57" stroke="#000" stroke-width="1.4"/>
<text transform="translate(55.15,826.66) scale(0.96,1)" font-size="35.08" fill="#000">T48</text>
<line x1="132.8" y1="874.9" x2="132.8" y2="968.64" stroke="#000" stroke-width="1.4"/>
<text transform="translate(55.15,928.57) scale(0.96,1)" font-size="35.08" fill="#000">T96</text>
<text transform="translate(18.6,1059.55) scale(0.88,1)" font-size="40.51" font-weight="bold" fill="#000">E4</text>
<rect x="232.15" y="1049.58" width="357.4" height="243.3" fill="#fff"/>
<line x1="247.7" y1="1049.58" x2="247.7" y2="1292.88" stroke="#EBEBEB" stroke-width="1.7"/>
<line x1="329.28" y1="1049.58" x2="329.28" y2="1292.88" stroke="#EBEBEB" stroke-width="1.7"/>
<line x1="410.85" y1="1049.58" x2="410.85" y2="1292.88" stroke="#EBEBEB" stroke-width="1.7"/>
<line x1="492.43" y1="1049.58" x2="492.43" y2="1292.88" stroke="#EBEBEB" stroke-width="1.7"/>
<line x1="574" y1="1049.58" x2="574" y2="1292.88" stroke="#EBEBEB" stroke-width="1.7"/>
<line x1="232.15" y1="1069.28" x2="589.55" y2="1069.28" stroke="#EBEBEB" stroke-width="1.7"/>
<line x1="232.15" y1="1103.25" x2="589.55" y2="1103.25" stroke="#EBEBEB" stroke-width="1.7"/>
<line x1="232.15" y1="1137.22" x2="589.55" y2="1137.22" stroke="#EBEBEB" stroke-width="1.7"/>
<line x1="232.15" y1="1171.19" x2="589.55" y2="1171.19" stroke="#EBEBEB" stroke-width="1.7"/>
<line x1="232.15" y1="1205.16" x2="589.55" y2="1205.16" stroke="#EBEBEB" stroke-width="1.7"/>
<line x1="232.15" y1="1239.13" x2="589.55" y2="1239.13" stroke="#EBEBEB" stroke-width="1.7"/>
<line x1="232.15" y1="1273.1" x2="589.55" y2="1273.1" stroke="#EBEBEB" stroke-width="1.7"/>
<rect x="247.7" y="1053.99" width="4.89" height="30.57" fill="#03386A" stroke="#000" stroke-width="2.7"/>
<rect x="252.59" y="1053.99" width="2.28" height="30.57" fill="#3A7FBC" stroke="#000" stroke-width="2.7"/>
<rect x="254.88" y="1053.99" width="2.61" height="30.57" fill="#D6EAF8" stroke="#000" stroke-width="2.7"/>
<rect x="257.49" y="1053.99" width="39.16" height="30.57" fill="#E31A1C" stroke="#000" stroke-width="2.7"/>
<rect x="296.65" y="1053.99" width="0.65" height="30.57" fill="#984EA3" stroke="#000" stroke-width="2.7"/>
<rect x="297.3" y="1053.99" width="56.78" height="30.57" fill="#33702E" stroke="#000" stroke-width="2.7"/>
<rect x="354.07" y="1053.99" width="219.93" height="30.57" fill="#6E6E6E" stroke="#000" stroke-width="2.7"/>
<rect x="247.7" y="1087.96" width="12.4" height="30.57" fill="#03386A" stroke="#000" stroke-width="2.7"/>
<rect x="260.1" y="1087.96" width="11.09" height="30.57" fill="#3A7FBC" stroke="#000" stroke-width="2.7"/>
<rect x="271.19" y="1087.96" width="1.63" height="30.57" fill="#D6EAF8" stroke="#000" stroke-width="2.7"/>
<rect x="272.83" y="1087.96" width="44.7" height="30.57" fill="#E31A1C" stroke="#000" stroke-width="2.7"/>
<rect x="317.53" y="1087.96" width="0.65" height="30.57" fill="#984EA3" stroke="#000" stroke-width="2.7"/>
<rect x="318.18" y="1087.96" width="104.09" height="30.57" fill="#33702E" stroke="#000" stroke-width="2.7"/>
<rect x="422.27" y="1087.96" width="151.73" height="30.57" fill="#6E6E6E" stroke="#000" stroke-width="2.7"/>
<rect x="247.7" y="1121.93" width="32.63" height="30.57" fill="#03386A" stroke="#000" stroke-width="2.7"/>
<rect x="280.33" y="1121.93" width="13.05" height="30.57" fill="#3A7FBC" stroke="#000" stroke-width="2.7"/>
<rect x="293.38" y="1121.93" width="1.63" height="30.57" fill="#D6EAF8" stroke="#000" stroke-width="2.7"/>
<rect x="295.01" y="1121.93" width="24.15" height="30.57" fill="#E31A1C" stroke="#000" stroke-width="2.7"/>
<rect x="319.16" y="1121.93" width="32.3" height="30.57" fill="#984EA3" stroke="#000" stroke-width="2.7"/>
<rect x="351.46" y="1121.93" width="60.37" height="30.57" fill="#33702E" stroke="#000" stroke-width="2.7"/>
<rect x="411.83" y="1121.93" width="162.17" height="30.57" fill="#6E6E6E" stroke="#000" stroke-width="2.7"/>
<rect x="247.7" y="1155.9" width="12.4" height="30.57" fill="#03386A" stroke="#000" stroke-width="2.7"/>
<rect x="260.1" y="1155.9" width="7.18" height="30.57" fill="#3A7FBC" stroke="#000" stroke-width="2.7"/>
<rect x="267.28" y="1155.9" width="1.63" height="30.57" fill="#D6EAF8" stroke="#000" stroke-width="2.7"/>
<rect x="268.91" y="1155.9" width="24.47" height="30.57" fill="#E31A1C" stroke="#000" stroke-width="2.7"/>
<rect x="293.38" y="1155.9" width="0.65" height="30.57" fill="#984EA3" stroke="#000" stroke-width="2.7"/>
<rect x="294.03" y="1155.9" width="123.34" height="30.57" fill="#33702E" stroke="#000" stroke-width="2.7"/>
<rect x="417.38" y="1155.9" width="156.62" height="30.57" fill="#6E6E6E" stroke="#000" stroke-width="2.7"/>
<rect x="247.7" y="1189.87" width="20.23" height="30.57" fill="#03386A" stroke="#000" stroke-width="2.7"/>
<rect x="267.93" y="1189.87" width="18.93" height="30.57" fill="#3A7FBC" stroke="#000" stroke-width="2.7"/>
<rect x="286.86" y="1189.87" width="1.63" height="30.57" fill="#D6EAF8" stroke="#000" stroke-width="2.7"/>
<rect x="288.49" y="1189.87" width="39.16" height="30.57" fill="#E31A1C" stroke="#000" stroke-width="2.7"/>
<rect x="327.64" y="1189.87" width="0.65" height="30.57" fill="#984EA3" stroke="#000" stroke-width="2.7"/>
<rect x="328.3" y="1189.87" width="108.98" height="30.57" fill="#33702E" stroke="#000" stroke-width="2.7"/>
<rect x="437.28" y="1189.87" width="136.72" height="30.57" fill="#6E6E6E" stroke="#000" stroke-width="2.7"/>
<rect x="247.7" y="1223.84" width="18.27" height="30.57" fill="#03386A" stroke="#000" stroke-width="2.7"/>
<rect x="265.97" y="1223.84" width="17.29" height="30.57" fill="#3A7FBC" stroke="#000" stroke-width="2.7"/>
<rect x="283.27" y="1223.84" width="1.63" height="30.57" fill="#D6EAF8" stroke="#000" stroke-width="2.7"/>
<rect x="284.9" y="1223.84" width="16.32" height="30.57" fill="#E31A1C" stroke="#000" stroke-width="2.7"/>
<rect x="301.21" y="1223.84" width="0.65" height="30.57" fill="#984EA3" stroke="#000" stroke-width="2.7"/>
<rect x="301.87" y="1223.84" width="129.87" height="30.57" fill="#33702E" stroke="#000" stroke-width="2.7"/>
<rect x="431.73" y="1223.84" width="142.27" height="30.57" fill="#6E6E6E" stroke="#000" stroke-width="2.7"/>
<rect x="247.7" y="1257.81" width="17.95" height="30.57" fill="#03386A" stroke="#000" stroke-width="2.7"/>
<rect x="265.65" y="1257.81" width="15.34" height="30.57" fill="#3A7FBC" stroke="#000" stroke-width="2.7"/>
<rect x="280.98" y="1257.81" width="1.63" height="30.57" fill="#D6EAF8" stroke="#000" stroke-width="2.7"/>
<rect x="282.61" y="1257.81" width="23.17" height="30.57" fill="#E31A1C" stroke="#000" stroke-width="2.7"/>
<rect x="305.78" y="1257.81" width="0.65" height="30.57" fill="#984EA3" stroke="#000" stroke-width="2.7"/>
<rect x="306.43" y="1257.81" width="142.92" height="30.57" fill="#33702E" stroke="#000" stroke-width="2.7"/>
<rect x="449.35" y="1257.81" width="124.65" height="30.57" fill="#6E6E6E" stroke="#000" stroke-width="2.7"/>
<rect x="232.15" y="1049.58" width="357.4" height="243.3" fill="none" stroke="#000" stroke-width="1.5"/>
<line x1="224.15" y1="1069.28" x2="232.15" y2="1069.28" stroke="#333" stroke-width="1.9"/>
<line x1="224.15" y1="1103.25" x2="232.15" y2="1103.25" stroke="#333" stroke-width="1.9"/>
<line x1="224.15" y1="1137.22" x2="232.15" y2="1137.22" stroke="#333" stroke-width="1.9"/>
<line x1="224.15" y1="1171.19" x2="232.15" y2="1171.19" stroke="#333" stroke-width="1.9"/>
<line x1="224.15" y1="1205.16" x2="232.15" y2="1205.16" stroke="#333" stroke-width="1.9"/>
<line x1="224.15" y1="1239.13" x2="232.15" y2="1239.13" stroke="#333" stroke-width="1.9"/>
<line x1="224.15" y1="1273.1" x2="232.15" y2="1273.1" stroke="#333" stroke-width="1.9"/>
<line x1="247.7" y1="1292.88" x2="247.7" y2="1301.38" stroke="#333" stroke-width="1.9"/>
<text transform="translate(247.7,1331.18) scale(0.96,1)" font-size="35.08" text-anchor="middle" fill="#000">0.00</text>
<line x1="329.28" y1="1292.88" x2="329.28" y2="1301.38" stroke="#333" stroke-width="1.9"/>
<text transform="translate(329.28,1331.18) scale(0.96,1)" font-size="35.08" text-anchor="middle" fill="#000">0.25</text>
<line x1="410.85" y1="1292.88" x2="410.85" y2="1301.38" stroke="#333" stroke-width="1.9"/>
<text transform="translate(410.85,1331.18) scale(0.96,1)" font-size="35.08" text-anchor="middle" fill="#000">0.50</text>
<line x1="492.43" y1="1292.88" x2="492.43" y2="1301.38" stroke="#333" stroke-width="1.9"/>
<text transform="translate(492.43,1331.18) scale(0.96,1)" font-size="35.08" text-anchor="middle" fill="#000">0.75</text>
<line x1="574" y1="1292.88" x2="574" y2="1301.38" stroke="#333" stroke-width="1.9"/>
<text transform="translate(574,1331.18) scale(0.96,1)" font-size="35.08" text-anchor="middle" fill="#000">1.00</text>
<rect x="649.26" y="1049.58" width="357.4" height="243.3" fill="#fff"/>
<line x1="664.81" y1="1049.58" x2="664.81" y2="1292.88" stroke="#EBEBEB" stroke-width="1.7"/>
<line x1="746.38" y1="1049.58" x2="746.38" y2="1292.88" stroke="#EBEBEB" stroke-width="1.7"/>
<line x1="827.96" y1="1049.58" x2="827.96" y2="1292.88" stroke="#EBEBEB" stroke-width="1.7"/>
<line x1="909.53" y1="1049.58" x2="909.53" y2="1292.88" stroke="#EBEBEB" stroke-width="1.7"/>
<line x1="991.11" y1="1049.58" x2="991.11" y2="1292.88" stroke="#EBEBEB" stroke-width="1.7"/>
<line x1="649.26" y1="1069.28" x2="1006.66" y2="1069.28" stroke="#EBEBEB" stroke-width="1.7"/>
<line x1="649.26" y1="1103.25" x2="1006.66" y2="1103.25" stroke="#EBEBEB" stroke-width="1.7"/>
<line x1="649.26" y1="1137.22" x2="1006.66" y2="1137.22" stroke="#EBEBEB" stroke-width="1.7"/>
<line x1="649.26" y1="1171.19" x2="1006.66" y2="1171.19" stroke="#EBEBEB" stroke-width="1.7"/>
<line x1="649.26" y1="1205.16" x2="1006.66" y2="1205.16" stroke="#EBEBEB" stroke-width="1.7"/>
<line x1="649.26" y1="1239.13" x2="1006.66" y2="1239.13" stroke="#EBEBEB" stroke-width="1.7"/>
<line x1="649.26" y1="1273.1" x2="1006.66" y2="1273.1" stroke="#EBEBEB" stroke-width="1.7"/>
<rect x="664.81" y="1053.99" width="6.2" height="30.57" fill="#03386A" stroke="#000" stroke-width="2.7"/>
<rect x="671.01" y="1053.99" width="1.63" height="30.57" fill="#3A7FBC" stroke="#000" stroke-width="2.7"/>
<rect x="672.64" y="1053.99" width="1.96" height="30.57" fill="#D6EAF8" stroke="#000" stroke-width="2.7"/>
<rect x="674.6" y="1053.99" width="4.89" height="30.57" fill="#E31A1C" stroke="#000" stroke-width="2.7"/>
<rect x="679.49" y="1053.99" width="0.65" height="30.57" fill="#984EA3" stroke="#000" stroke-width="2.7"/>
<rect x="680.15" y="1053.99" width="33.28" height="30.57" fill="#33702E" stroke="#000" stroke-width="2.7"/>
<rect x="713.43" y="1053.99" width="277.68" height="30.57" fill="#6E6E6E" stroke="#000" stroke-width="2.7"/>
<rect x="664.81" y="1087.96" width="10.77" height="30.57" fill="#03386A" stroke="#000" stroke-width="2.7"/>
<rect x="675.58" y="1087.96" width="4.57" height="30.57" fill="#3A7FBC" stroke="#000" stroke-width="2.7"/>
<rect x="680.15" y="1087.96" width="1.31" height="30.57" fill="#D6EAF8" stroke="#000" stroke-width="2.7"/>
<rect x="681.45" y="1087.96" width="7.18" height="30.57" fill="#E31A1C" stroke="#000" stroke-width="2.7"/>
<rect x="688.63" y="1087.96" width="0.65" height="30.57" fill="#984EA3" stroke="#000" stroke-width="2.7"/>
<rect x="689.28" y="1087.96" width="62.32" height="30.57" fill="#33702E" stroke="#000" stroke-width="2.7"/>
<rect x="751.61" y="1087.96" width="239.5" height="30.57" fill="#6E6E6E" stroke="#000" stroke-width="2.7"/>
<rect x="664.81" y="1121.93" width="11.09" height="30.57" fill="#03386A" stroke="#000" stroke-width="2.7"/>
<rect x="675.9" y="1121.93" width="4.57" height="30.57" fill="#3A7FBC" stroke="#000" stroke-width="2.7"/>
<rect x="680.47" y="1121.93" width="1.31" height="30.57" fill="#D6EAF8" stroke="#000" stroke-width="2.7"/>
<rect x="681.78" y="1121.93" width="5.87" height="30.57" fill="#E31A1C" stroke="#000" stroke-width="2.7"/>
<rect x="687.65" y="1121.93" width="0.65" height="30.57" fill="#984EA3" stroke="#000" stroke-width="2.7"/>
<rect x="688.3" y="1121.93" width="82.23" height="30.57" fill="#33702E" stroke="#000" stroke-width="2.7"/>
<rect x="770.53" y="1121.93" width="220.58" height="30.57" fill="#6E6E6E" stroke="#000" stroke-width="2.7"/>
<rect x="664.81" y="1155.9" width="10.77" height="30.57" fill="#03386A" stroke="#000" stroke-width="2.7"/>
<rect x="675.58" y="1155.9" width="3.26" height="30.57" fill="#3A7FBC" stroke="#000" stroke-width="2.7"/>
<rect x="678.84" y="1155.9" width="1.31" height="30.57" fill="#D6EAF8" stroke="#000" stroke-width="2.7"/>
<rect x="680.15" y="1155.9" width="5.55" height="30.57" fill="#E31A1C" stroke="#000" stroke-width="2.7"/>
<rect x="685.69" y="1155.9" width="0.65" height="30.57" fill="#984EA3" stroke="#000" stroke-width="2.7"/>
<rect x="686.35" y="1155.9" width="76.35" height="30.57" fill="#33702E" stroke="#000" stroke-width="2.7"/>
<rect x="762.7" y="1155.9" width="228.41" height="30.57" fill="#6E6E6E" stroke="#000" stroke-width="2.7"/>
<rect x="664.81" y="1189.87" width="16.32" height="30.57" fill="#03386A" stroke="#000" stroke-width="2.7"/>
<rect x="681.12" y="1189.87" width="10.12" height="30.57" fill="#3A7FBC" stroke="#000" stroke-width="2.7"/>
<rect x="691.24" y="1189.87" width="1.31" height="30.57" fill="#D6EAF8" stroke="#000" stroke-width="2.7"/>
<rect x="692.55" y="1189.87" width="5.22" height="30.57" fill="#E31A1C" stroke="#000" stroke-width="2.7"/>
<rect x="697.77" y="1189.87" width="0.65" height="30.57" fill="#984EA3" stroke="#000" stroke-width="2.7"/>
<rect x="698.42" y="1189.87" width="82.23" height="30.57" fill="#33702E" stroke="#000" stroke-width="2.7"/>
<rect x="780.65" y="1189.87" width="210.46" height="30.57" fill="#6E6E6E" stroke="#000" stroke-width="2.7"/>
<rect x="664.81" y="1223.84" width="15.66" height="30.57" fill="#03386A" stroke="#000" stroke-width="2.7"/>
<rect x="680.47" y="1223.84" width="9.79" height="30.57" fill="#3A7FBC" stroke="#000" stroke-width="2.7"/>
<rect x="690.26" y="1223.84" width="1.31" height="30.57" fill="#D6EAF8" stroke="#000" stroke-width="2.7"/>
<rect x="691.57" y="1223.84" width="2.94" height="30.57" fill="#E31A1C" stroke="#000" stroke-width="2.7"/>
<rect x="694.5" y="1223.84" width="0.65" height="30.57" fill="#984EA3" stroke="#000" stroke-width="2.7"/>
<rect x="695.16" y="1223.84" width="105.07" height="30.57" fill="#33702E" stroke="#000" stroke-width="2.7"/>
<rect x="800.22" y="1223.84" width="190.89" height="30.57" fill="#6E6E6E" stroke="#000" stroke-width="2.7"/>
<rect x="664.81" y="1257.81" width="15.66" height="30.57" fill="#03386A" stroke="#000" stroke-width="2.7"/>
<rect x="680.47" y="1257.81" width="10.12" height="30.57" fill="#3A7FBC" stroke="#000" stroke-width="2.7"/>
<rect x="690.59" y="1257.81" width="1.31" height="30.57" fill="#D6EAF8" stroke="#000" stroke-width="2.7"/>
<rect x="691.89" y="1257.81" width="3.59" height="30.57" fill="#E31A1C" stroke="#000" stroke-width="2.7"/>
<rect x="695.48" y="1257.81" width="0.65" height="30.57" fill="#984EA3" stroke="#000" stroke-width="2.7"/>
<rect x="696.13" y="1257.81" width="107.03" height="30.57" fill="#33702E" stroke="#000" stroke-width="2.7"/>
<rect x="803.16" y="1257.81" width="187.95" height="30.57" fill="#6E6E6E" stroke="#000" stroke-width="2.7"/>
<rect x="649.26" y="1049.58" width="357.4" height="243.3" fill="none" stroke="#000" stroke-width="1.5"/>
<line x1="641.26" y1="1069.28" x2="649.26" y2="1069.28" stroke="#333" stroke-width="1.9"/>
<line x1="641.26" y1="1103.25" x2="649.26" y2="1103.25" stroke="#333" stroke-width="1.9"/>
<line x1="641.26" y1="1137.22" x2="649.26" y2="1137.22" stroke="#333" stroke-width="1.9"/>
<line x1="641.26" y1="1171.19" x2="649.26" y2="1171.19" stroke="#333" stroke-width="1.9"/>
<line x1="641.26" y1="1205.16" x2="649.26" y2="1205.16" stroke="#333" stroke-width="1.9"/>
<line x1="641.26" y1="1239.13" x2="649.26" y2="1239.13" stroke="#333" stroke-width="1.9"/>
<line x1="641.26" y1="1273.1" x2="649.26" y2="1273.1" stroke="#333" stroke-width="1.9"/>
<line x1="664.81" y1="1292.88" x2="664.81" y2="1301.38" stroke="#333" stroke-width="1.9"/>
<text transform="translate(664.81,1331.18) scale(0.96,1)" font-size="35.08" text-anchor="middle" fill="#000">0.00</text>
<line x1="746.38" y1="1292.88" x2="746.38" y2="1301.38" stroke="#333" stroke-width="1.9"/>
<text transform="translate(746.38,1331.18) scale(0.96,1)" font-size="35.08" text-anchor="middle" fill="#000">0.25</text>
<line x1="827.96" y1="1292.88" x2="827.96" y2="1301.38" stroke="#333" stroke-width="1.9"/>
<text transform="translate(827.96,1331.18) scale(0.96,1)" font-size="35.08" text-anchor="middle" fill="#000">0.50</text>
<line x1="909.53" y1="1292.88" x2="909.53" y2="1301.38" stroke="#333" stroke-width="1.9"/>
<text transform="translate(909.53,1331.18) scale(0.96,1)" font-size="35.08" text-anchor="middle" fill="#000">0.75</text>
<line x1="991.11" y1="1292.88" x2="991.11" y2="1301.38" stroke="#333" stroke-width="1.9"/>
<text transform="translate(991.11,1331.18) scale(0.96,1)" font-size="35.08" text-anchor="middle" fill="#000">1.00</text>
<rect x="1479.1" y="1049.58" width="357.4" height="243.3" fill="#fff"/>
<line x1="1494.65" y1="1049.58" x2="1494.65" y2="1292.88" stroke="#EBEBEB" stroke-width="1.7"/>
<line x1="1576.22" y1="1049.58" x2="1576.22" y2="1292.88" stroke="#EBEBEB" stroke-width="1.7"/>
<line x1="1657.8" y1="1049.58" x2="1657.8" y2="1292.88" stroke="#EBEBEB" stroke-width="1.7"/>
<line x1="1739.38" y1="1049.58" x2="1739.38" y2="1292.88" stroke="#EBEBEB" stroke-width="1.7"/>
<line x1="1820.95" y1="1049.58" x2="1820.95" y2="1292.88" stroke="#EBEBEB" stroke-width="1.7"/>
<line x1="1479.1" y1="1069.28" x2="1836.5" y2="1069.28" stroke="#EBEBEB" stroke-width="1.7"/>
<line x1="1479.1" y1="1103.25" x2="1836.5" y2="1103.25" stroke="#EBEBEB" stroke-width="1.7"/>
<line x1="1479.1" y1="1137.22" x2="1836.5" y2="1137.22" stroke="#EBEBEB" stroke-width="1.7"/>
<line x1="1479.1" y1="1171.19" x2="1836.5" y2="1171.19" stroke="#EBEBEB" stroke-width="1.7"/>
<line x1="1479.1" y1="1205.16" x2="1836.5" y2="1205.16" stroke="#EBEBEB" stroke-width="1.7"/>
<line x1="1479.1" y1="1239.13" x2="1836.5" y2="1239.13" stroke="#EBEBEB" stroke-width="1.7"/>
<line x1="1479.1" y1="1273.1" x2="1836.5" y2="1273.1" stroke="#EBEBEB" stroke-width="1.7"/>
<rect x="1494.65" y="1053.99" width="21.54" height="30.57" fill="#66C2A5" stroke="#000" stroke-width="2.7"/>
<rect x="1516.19" y="1053.99" width="10.44" height="30.57" fill="#FC8D62" stroke="#000" stroke-width="2.7"/>
<rect x="1526.63" y="1053.99" width="6.2" height="30.57" fill="#8DA0CB" stroke="#000" stroke-width="2.7"/>
<rect x="1532.83" y="1053.99" width="1.96" height="30.57" fill="#E5C494" stroke="#000" stroke-width="2.7"/>
<rect x="1534.78" y="1053.99" width="274.42" height="30.57" fill="#FFD92F" stroke="#000" stroke-width="2.7"/>
<rect x="1809.2" y="1053.99" width="11.75" height="30.57" fill="#6E6E6E" stroke="#000" stroke-width="2.7"/>
<rect x="1494.65" y="1087.96" width="33.61" height="30.57" fill="#66C2A5" stroke="#000" stroke-width="2.7"/>
<rect x="1528.26" y="1087.96" width="25.13" height="30.57" fill="#FC8D62" stroke="#000" stroke-width="2.7"/>
<rect x="1553.38" y="1087.96" width="10.77" height="30.57" fill="#8DA0CB" stroke="#000" stroke-width="2.7"/>
<rect x="1564.15" y="1087.96" width="1.96" height="30.57" fill="#E5C494" stroke="#000" stroke-width="2.7"/>
<rect x="1566.11" y="1087.96" width="248.97" height="30.57" fill="#FFD92F" stroke="#000" stroke-width="2.7"/>
<rect x="1815.08" y="1087.96" width="5.87" height="30.57" fill="#6E6E6E" stroke="#000" stroke-width="2.7"/>
<rect x="1494.65" y="1121.93" width="40.79" height="30.57" fill="#66C2A5" stroke="#000" stroke-width="2.7"/>
<rect x="1535.44" y="1121.93" width="31.65" height="30.57" fill="#FC8D62" stroke="#000" stroke-width="2.7"/>
<rect x="1567.09" y="1121.93" width="13.7" height="30.57" fill="#8DA0CB" stroke="#000" stroke-width="2.7"/>
<rect x="1580.79" y="1121.93" width="2.61" height="30.57" fill="#E5C494" stroke="#000" stroke-width="2.7"/>
<rect x="1583.4" y="1121.93" width="231.02" height="30.57" fill="#FFD92F" stroke="#000" stroke-width="2.7"/>
<rect x="1814.42" y="1121.93" width="6.53" height="30.57" fill="#6E6E6E" stroke="#000" stroke-width="2.7"/>
<rect x="1494.65" y="1155.9" width="39.48" height="30.57" fill="#66C2A5" stroke="#000" stroke-width="2.7"/>
<rect x="1534.13" y="1155.9" width="27.08" height="30.57" fill="#FC8D62" stroke="#000" stroke-width="2.7"/>
<rect x="1561.22" y="1155.9" width="8.81" height="30.57" fill="#8DA0CB" stroke="#000" stroke-width="2.7"/>
<rect x="1570.03" y="1155.9" width="1.96" height="30.57" fill="#E5C494" stroke="#000" stroke-width="2.7"/>
<rect x="1571.98" y="1155.9" width="243.42" height="30.57" fill="#FFD92F" stroke="#000" stroke-width="2.7"/>
<rect x="1815.4" y="1155.9" width="5.55" height="30.57" fill="#6E6E6E" stroke="#000" stroke-width="2.7"/>
<rect x="1494.65" y="1189.87" width="32.63" height="30.57" fill="#66C2A5" stroke="#000" stroke-width="2.7"/>
<rect x="1527.28" y="1189.87" width="38.83" height="30.57" fill="#FC8D62" stroke="#000" stroke-width="2.7"/>
<rect x="1566.11" y="1189.87" width="14.36" height="30.57" fill="#8DA0CB" stroke="#000" stroke-width="2.7"/>
<rect x="1580.47" y="1189.87" width="2.28" height="30.57" fill="#E5C494" stroke="#000" stroke-width="2.7"/>
<rect x="1582.75" y="1189.87" width="233.3" height="30.57" fill="#FFD92F" stroke="#000" stroke-width="2.7"/>
<rect x="1816.06" y="1189.87" width="4.89" height="30.57" fill="#6E6E6E" stroke="#000" stroke-width="2.7"/>
<rect x="1494.65" y="1223.84" width="37.2" height="30.57" fill="#66C2A5" stroke="#000" stroke-width="2.7"/>
<rect x="1531.85" y="1223.84" width="44.38" height="30.57" fill="#FC8D62" stroke="#000" stroke-width="2.7"/>
<rect x="1576.22" y="1223.84" width="17.95" height="30.57" fill="#8DA0CB" stroke="#000" stroke-width="2.7"/>
<rect x="1594.17" y="1223.84" width="2.28" height="30.57" fill="#E5C494" stroke="#000" stroke-width="2.7"/>
<rect x="1596.46" y="1223.84" width="219.93" height="30.57" fill="#FFD92F" stroke="#000" stroke-width="2.7"/>
<rect x="1816.38" y="1223.84" width="4.57" height="30.57" fill="#6E6E6E" stroke="#000" stroke-width="2.7"/>
<rect x="1494.65" y="1257.81" width="35.57" height="30.57" fill="#66C2A5" stroke="#000" stroke-width="2.7"/>
<rect x="1530.22" y="1257.81" width="38.18" height="30.57" fill="#FC8D62" stroke="#000" stroke-width="2.7"/>
<rect x="1568.39" y="1257.81" width="13.05" height="30.57" fill="#8DA0CB" stroke="#000" stroke-width="2.7"/>
<rect x="1581.45" y="1257.81" width="2.28" height="30.57" fill="#E5C494" stroke="#000" stroke-width="2.7"/>
<rect x="1583.73" y="1257.81" width="234.28" height="30.57" fill="#FFD92F" stroke="#000" stroke-width="2.7"/>
<rect x="1818.01" y="1257.81" width="2.94" height="30.57" fill="#6E6E6E" stroke="#000" stroke-width="2.7"/>
<rect x="1479.1" y="1049.58" width="357.4" height="243.3" fill="none" stroke="#000" stroke-width="1.5"/>
<line x1="1471.1" y1="1069.28" x2="1479.1" y2="1069.28" stroke="#333" stroke-width="1.9"/>
<line x1="1471.1" y1="1103.25" x2="1479.1" y2="1103.25" stroke="#333" stroke-width="1.9"/>
<line x1="1471.1" y1="1137.22" x2="1479.1" y2="1137.22" stroke="#333" stroke-width="1.9"/>
<line x1="1471.1" y1="1171.19" x2="1479.1" y2="1171.19" stroke="#333" stroke-width="1.9"/>
<line x1="1471.1" y1="1205.16" x2="1479.1" y2="1205.16" stroke="#333" stroke-width="1.9"/>
<line x1="1471.1" y1="1239.13" x2="1479.1" y2="1239.13" stroke="#333" stroke-width="1.9"/>
<line x1="1471.1" y1="1273.1" x2="1479.1" y2="1273.1" stroke="#333" stroke-width="1.9"/>
<line x1="1494.65" y1="1292.88" x2="1494.65" y2="1301.38" stroke="#333" stroke-width="1.9"/>
<text transform="translate(1494.65,1331.18) scale(0.96,1)" font-size="35.08" text-anchor="middle" fill="#000">0.00</text>
<line x1="1576.22" y1="1292.88" x2="1576.22" y2="1301.38" stroke="#333" stroke-width="1.9"/>
<text transform="translate(1576.22,1331.18) scale(0.96,1)" font-size="35.08" text-anchor="middle" fill="#000">0.25</text>
<line x1="1657.8" y1="1292.88" x2="1657.8" y2="1301.38" stroke="#333" stroke-width="1.9"/>
<text transform="translate(1657.8,1331.18) scale(0.96,1)" font-size="35.08" text-anchor="middle" fill="#000">0.50</text>
<line x1="1739.38" y1="1292.88" x2="1739.38" y2="1301.38" stroke="#333" stroke-width="1.9"/>
<text transform="translate(1739.38,1331.18) scale(0.96,1)" font-size="35.08" text-anchor="middle" fill="#000">0.75</text>
<line x1="1820.95" y1="1292.88" x2="1820.95" y2="1301.38" stroke="#333" stroke-width="1.9"/>
<text transform="translate(1820.95,1331.18) scale(0.96,1)" font-size="35.08" text-anchor="middle" fill="#000">1.00</text>
<text transform="translate(217.6,1081.28) scale(0.96,1)" font-size="35.08" text-anchor="end" fill="#000">T0</text>
<text transform="translate(217.6,1115.25) scale(0.96,1)" font-size="35.08" text-anchor="end" fill="#000">400</text>
<text transform="translate(217.6,1149.22) scale(0.96,1)" font-size="35.08" text-anchor="end" fill="#000">800</text>
<text transform="translate(217.6,1183.19) scale(0.96,1)" font-size="35.08" text-anchor="end" fill="#000">1200</text>
<text transform="translate(217.6,1217.16) scale(0.96,1)" font-size="35.08" text-anchor="end" fill="#000">400</text>
<text transform="translate(217.6,1251.13) scale(0.96,1)" font-size="35.08" text-anchor="end" fill="#000">800</text>
<text transform="translate(217.6,1285.1) scale(0.96,1)" font-size="35.08" text-anchor="end" fill="#000">1200</text>
<line x1="132.8" y1="1091.18" x2="132.8" y2="1184.93" stroke="#000" stroke-width="1.4"/>
<text transform="translate(55.15,1147.02) scale(0.96,1)" font-size="35.08" fill="#000">T48</text>
<line x1="132.8" y1="1195.26" x2="132.8" y2="1289" stroke="#000" stroke-width="1.4"/>
<text transform="translate(55.15,1248.93) scale(0.96,1)" font-size="35.08" fill="#000">T96</text>
<text transform="translate(133.5,1387.9) scale(0.96,1)" font-size="28.92" font-weight="bold" fill="#000">Eukaryotic Taxonomic Group</text>
<rect x="133.8" y="1409.2" width="43.5" height="43.5" fill="#03386A" stroke="#000" stroke-width="2.9"/>
<text transform="translate(194.9,1439.55) scale(0.96,1)" font-size="25.47" fill="#000">Centric Diatoms</text>
<rect x="133.8" y="1456.2" width="43.5" height="43.5" fill="#3A7FBC" stroke="#000" stroke-width="2.9"/>
<text transform="translate(194.9,1486.55) scale(0.96,1)" font-size="25.47" fill="#000">Pennate Diatoms</text>
<rect x="133.8" y="1503.2" width="43.5" height="43.5" fill="#D6EAF8" stroke="#000" stroke-width="2.9"/>
<text transform="translate(194.9,1533.55) scale(0.96,1)" font-size="25.47" fill="#000">Unknown Diatoms</text>
<rect x="414.8" y="1409.2" width="43.5" height="43.5" fill="#E31A1C" stroke="#000" stroke-width="2.9"/>
<text transform="translate(474.6,1439.55) scale(0.96,1)" font-size="25.47" fill="#000">Crustacea</text>
<rect x="414.8" y="1456.2" width="43.5" height="43.5" fill="#984EA3" stroke="#000" stroke-width="2.9"/>
<text transform="translate(474.6,1486.55) scale(0.96,1)" font-size="25.47" fill="#000">Ostreoccocus</text>
<rect x="414.8" y="1503.2" width="43.5" height="43.5" fill="#33702E" stroke="#000" stroke-width="2.9"/>
<text transform="translate(474.6,1533.55) scale(0.96,1)" font-size="25.47" fill="#000">Pelagomonas</text>
<rect x="644.2" y="1409.2" width="43.5" height="43.5" fill="#6E6E6E" stroke="#000" stroke-width="2.9"/>
<text transform="translate(704.8,1439.55) scale(0.96,1)" font-size="25.47" fill="#000">Other</text>
<text transform="translate(1263.8,1386.9) scale(0.96,1)" font-size="28.92" font-weight="bold" fill="#000">Prokaryotic Taxonomic Group</text>
<rect x="1265" y="1408.8" width="43.5" height="43.5" fill="#66C2A5" stroke="#000" stroke-width="2.9"/>
<text transform="translate(1325.3,1439.15) scale(0.96,1)" font-size="25.47" fill="#000">Alphaproteobacteria</text>
<rect x="1265" y="1455.8" width="43.5" height="43.5" fill="#FC8D62" stroke="#000" stroke-width="2.9"/>
<text transform="translate(1325.3,1486.15) scale(0.96,1)" font-size="25.47" fill="#000">Gammaproteobacteria</text>
<rect x="1265" y="1502.8" width="43.5" height="43.5" fill="#8DA0CB" stroke="#000" stroke-width="2.9"/>
<text transform="translate(1325.3,1533.15) scale(0.96,1)" font-size="25.47" fill="#000">Bacteroidota</text>
<rect x="1589.2" y="1408.8" width="43.5" height="43.5" fill="#E5C494" stroke="#000" stroke-width="2.9"/>
<text transform="translate(1649.2,1439.15) scale(0.96,1)" font-size="25.47" fill="#000">Verrucomicrobiota</text>
<rect x="1589.2" y="1455.8" width="43.5" height="43.5" fill="#FFD92F" stroke="#000" stroke-width="2.9"/>
<text transform="translate(1649.2,1486.15) scale(0.96,1)" font-size="25.47" fill="#000">Cyanobacteria</text>
<rect x="1589.2" y="1502.8" width="43.5" height="43.5" fill="#6E6E6E" stroke="#000" stroke-width="2.9"/>
<text transform="translate(1649.2,1533.15) scale(0.96,1)" font-size="25.47" fill="#000">Other</text>
<text transform="translate(-3,1627.5) scale(0.96,1)" font-size="56.38" font-weight="bold" fill="#000">b</text>
<text transform="translate(77.7,1622.2) scale(0.96,1)" font-size="32.16" font-weight="bold" fill="#000">Eukaryotes</text>
<rect x="77" y="1634.76" width="158.85" height="40.84" fill="#D9D9D9" stroke="#000" stroke-width="1.9"/>
<text transform="translate(155.93,1665.2) scale(0.88,1)" font-size="29.55" font-weight="bold" text-anchor="middle" fill="#1A1A1A">E1</text>
<rect x="77" y="1675.6" width="158.85" height="299.3" fill="#fff"/>
<rect x="82.67" y="1731.06" width="34.04" height="243.84" fill="#E64B35" stroke="#000" stroke-width="1.6"/>
<rect x="120.49" y="1796.06" width="34.04" height="178.84" fill="#4DBBD5" stroke="#000" stroke-width="1.6"/>
<rect x="158.32" y="1797.16" width="34.04" height="177.74" fill="#00A087" stroke="#000" stroke-width="1.6"/>
<rect x="196.14" y="1805.9" width="34.04" height="169" fill="#3C5488" stroke="#000" stroke-width="1.6"/>
<circle cx="97.5" cy="1723.4" r="4.4" fill="#E64B35" stroke="#000" stroke-width="1.0"/>
<circle cx="93.8" cy="1731.2" r="4.4" fill="#E64B35" stroke="#000" stroke-width="1.0"/>
<circle cx="100.9" cy="1737.3" r="4.4" fill="#E64B35" stroke="#000" stroke-width="1.0"/>
<circle cx="143.5" cy="1776.2" r="4.4" fill="#4DBBD5" stroke="#000" stroke-width="1.0"/>
<circle cx="137.7" cy="1781.9" r="4.4" fill="#4DBBD5" stroke="#000" stroke-width="1.0"/>
<circle cx="133.7" cy="1789.1" r="4.4" fill="#4DBBD5" stroke="#000" stroke-width="1.0"/>
<circle cx="131.6" cy="1797.6" r="4.4" fill="#4DBBD5" stroke="#000" stroke-width="1.0"/>
<circle cx="130.2" cy="1810.3" r="4.4" fill="#4DBBD5" stroke="#000" stroke-width="1.0"/>
<circle cx="139.4" cy="1820.1" r="4.4" fill="#4DBBD5" stroke="#000" stroke-width="1.0"/>
<circle cx="182.3" cy="1781.9" r="4.4" fill="#00A087" stroke="#000" stroke-width="1.0"/>
<circle cx="182.3" cy="1792.5" r="4.4" fill="#00A087" stroke="#000" stroke-width="1.0"/>
<circle cx="179.2" cy="1799.3" r="4.4" fill="#00A087" stroke="#000" stroke-width="1.0"/>
<circle cx="174.1" cy="1805.2" r="4.4" fill="#00A087" stroke="#000" stroke-width="1.0"/>
<circle cx="176.2" cy="1811.4" r="4.4" fill="#00A087" stroke="#000" stroke-width="1.0"/>
<circle cx="181" cy="1791" r="4.4" fill="#00A087" stroke="#000" stroke-width="1.0"/>
<circle cx="213.6" cy="1790.1" r="4.4" fill="#3C5488" stroke="#000" stroke-width="1.0"/>
<circle cx="216.7" cy="1804.4" r="4.4" fill="#3C5488" stroke="#000" stroke-width="1.0"/>
<circle cx="209.9" cy="1806.9" r="4.4" fill="#3C5488" stroke="#000" stroke-width="1.0"/>
<circle cx="206" cy="1808.5" r="4.4" fill="#3C5488" stroke="#000" stroke-width="1.0"/>
<circle cx="221.2" cy="1808.9" r="4.4" fill="#3C5488" stroke="#000" stroke-width="1.0"/>
<circle cx="211.4" cy="1815.6" r="4.4" fill="#3C5488" stroke="#000" stroke-width="1.0"/>
<rect x="77" y="1675.6" width="158.85" height="299.3" fill="none" stroke="#000" stroke-width="1.9"/>
<line x1="76.05" y1="1675.6" x2="236.8" y2="1675.6" stroke="#000" stroke-width="2.9"/>
<line x1="99.69" y1="1974.9" x2="99.69" y2="1980.4" stroke="#333" stroke-width="1.5"/>
<line x1="137.51" y1="1974.9" x2="137.51" y2="1980.4" stroke="#333" stroke-width="1.5"/>
<line x1="175.34" y1="1974.9" x2="175.34" y2="1980.4" stroke="#333" stroke-width="1.5"/>
<line x1="213.16" y1="1974.9" x2="213.16" y2="1980.4" stroke="#333" stroke-width="1.5"/>
<rect x="247.1" y="1634.76" width="158.85" height="40.84" fill="#D9D9D9" stroke="#000" stroke-width="1.9"/>
<text transform="translate(326.02,1665.2) scale(0.88,1)" font-size="29.55" font-weight="bold" text-anchor="middle" fill="#1A1A1A">E2</text>
<rect x="247.1" y="1675.6" width="158.85" height="299.3" fill="#fff"/>
<rect x="252.77" y="1822.83" width="34.04" height="152.07" fill="#E64B35" stroke="#000" stroke-width="1.6"/>
<rect x="290.59" y="1879.1" width="34.04" height="95.8" fill="#4DBBD5" stroke="#000" stroke-width="1.6"/>
<rect x="328.42" y="1888.94" width="34.04" height="85.96" fill="#00A087" stroke="#000" stroke-width="1.6"/>
<rect x="366.24" y="1894.95" width="34.04" height="79.95" fill="#3C5488" stroke="#000" stroke-width="1.6"/>
<circle cx="276.4" cy="1808.3" r="4.4" fill="#E64B35" stroke="#000" stroke-width="1.0"/>
<circle cx="266.6" cy="1822.6" r="4.4" fill="#E64B35" stroke="#000" stroke-width="1.0"/>
<circle cx="276.8" cy="1836.9" r="4.4" fill="#E64B35" stroke="#000" stroke-width="1.0"/>
<circle cx="305" cy="1861" r="4.4" fill="#4DBBD5" stroke="#000" stroke-width="1.0"/>
<circle cx="307" cy="1867.2" r="4.4" fill="#4DBBD5" stroke="#000" stroke-width="1.0"/>
<circle cx="304.6" cy="1874.3" r="4.4" fill="#4DBBD5" stroke="#000" stroke-width="1.0"/>
<circle cx="314.2" cy="1878.4" r="4.4" fill="#4DBBD5" stroke="#000" stroke-width="1.0"/>
<circle cx="311.1" cy="1891.7" r="4.4" fill="#4DBBD5" stroke="#000" stroke-width="1.0"/>
<circle cx="311.1" cy="1897.4" r="4.4" fill="#4DBBD5" stroke="#000" stroke-width="1.0"/>
<circle cx="338.3" cy="1876" r="4.4" fill="#00A087" stroke="#000" stroke-width="1.0"/>
<circle cx="342.8" cy="1878.4" r="4.4" fill="#00A087" stroke="#000" stroke-width="1.0"/>
<circle cx="352" cy="1879.4" r="4.4" fill="#00A087" stroke="#000" stroke-width="1.0"/>
<circle cx="346.3" cy="1887.6" r="4.4" fill="#00A087" stroke="#000" stroke-width="1.0"/>
<circle cx="341.4" cy="1900.9" r="4.4" fill="#00A087" stroke="#000" stroke-width="1.0"/>
<circle cx="346.3" cy="1908.5" r="4.4" fill="#00A087" stroke="#000" stroke-width="1.0"/>
<circle cx="382.7" cy="1861.4" r="4.4" fill="#3C5488" stroke="#000" stroke-width="1.0"/>
<circle cx="382.1" cy="1879.4" r="4.4" fill="#3C5488" stroke="#000" stroke-width="1.0"/>
<circle cx="385.1" cy="1891.7" r="4.4" fill="#3C5488" stroke="#000" stroke-width="1.0"/>
<circle cx="380" cy="1903.4" r="4.4" fill="#3C5488" stroke="#000" stroke-width="1.0"/>
<circle cx="380.6" cy="1906" r="4.4" fill="#3C5488" stroke="#000" stroke-width="1.0"/>
<circle cx="386.4" cy="1926.5" r="4.4" fill="#3C5488" stroke="#000" stroke-width="1.0"/>
<rect x="247.1" y="1675.6" width="158.85" height="299.3" fill="none" stroke="#000" stroke-width="1.9"/>
<line x1="246.15" y1="1675.6" x2="406.9" y2="1675.6" stroke="#000" stroke-width="2.9"/>
<line x1="269.79" y1="1974.9" x2="269.79" y2="1980.4" stroke="#333" stroke-width="1.5"/>
<line x1="307.61" y1="1974.9" x2="307.61" y2="1980.4" stroke="#333" stroke-width="1.5"/>
<line x1="345.44" y1="1974.9" x2="345.44" y2="1980.4" stroke="#333" stroke-width="1.5"/>
<line x1="383.26" y1="1974.9" x2="383.26" y2="1980.4" stroke="#333" stroke-width="1.5"/>
<rect x="417.2" y="1634.76" width="158.85" height="40.84" fill="#D9D9D9" stroke="#000" stroke-width="1.9"/>
<text transform="translate(496.12,1665.2) scale(0.88,1)" font-size="29.55" font-weight="bold" text-anchor="middle" fill="#1A1A1A">E3</text>
<rect x="417.2" y="1675.6" width="158.85" height="299.3" fill="#fff"/>
<rect x="422.87" y="1770.39" width="34.04" height="204.51" fill="#E64B35" stroke="#000" stroke-width="1.6"/>
<rect x="460.69" y="1824.47" width="34.04" height="150.43" fill="#4DBBD5" stroke="#000" stroke-width="1.6"/>
<rect x="498.52" y="1826.66" width="34.04" height="148.24" fill="#00A087" stroke="#000" stroke-width="1.6"/>
<rect x="536.34" y="1825.02" width="34.04" height="149.88" fill="#3C5488" stroke="#000" stroke-width="1.6"/>
<circle cx="438.5" cy="1759.8" r="4.4" fill="#E64B35" stroke="#000" stroke-width="1.0"/>
<circle cx="432.8" cy="1780.7" r="4.4" fill="#E64B35" stroke="#000" stroke-width="1.0"/>
<circle cx="480.4" cy="1807.9" r="4.4" fill="#4DBBD5" stroke="#000" stroke-width="1.0"/>
<circle cx="477.3" cy="1812.6" r="4.4" fill="#4DBBD5" stroke="#000" stroke-width="1.0"/>
<circle cx="485.1" cy="1815" r="4.4" fill="#4DBBD5" stroke="#000" stroke-width="1.0"/>
<circle cx="471.2" cy="1827.3" r="4.4" fill="#4DBBD5" stroke="#000" stroke-width="1.0"/>
<circle cx="473.2" cy="1839" r="4.4" fill="#4DBBD5" stroke="#000" stroke-width="1.0"/>
<circle cx="476.7" cy="1841.6" r="4.4" fill="#4DBBD5" stroke="#000" stroke-width="1.0"/>
<circle cx="517.2" cy="1815.6" r="4.4" fill="#00A087" stroke="#000" stroke-width="1.0"/>
<circle cx="510.5" cy="1821.8" r="4.4" fill="#00A087" stroke="#000" stroke-width="1.0"/>
<circle cx="516.2" cy="1824.8" r="4.4" fill="#00A087" stroke="#000" stroke-width="1.0"/>
<circle cx="511.7" cy="1830.4" r="4.4" fill="#00A087" stroke="#000" stroke-width="1.0"/>
<circle cx="521.3" cy="1841.6" r="4.4" fill="#00A087" stroke="#000" stroke-width="1.0"/>
<circle cx="554.6" cy="1820.1" r="4.4" fill="#3C5488" stroke="#000" stroke-width="1.0"/>
<circle cx="559.1" cy="1821.6" r="4.4" fill="#3C5488" stroke="#000" stroke-width="1.0"/>
<circle cx="560.8" cy="1823.6" r="4.4" fill="#3C5488" stroke="#000" stroke-width="1.0"/>
<circle cx="552" cy="1825.9" r="4.4" fill="#3C5488" stroke="#000" stroke-width="1.0"/>
<circle cx="560.1" cy="1833.8" r="4.4" fill="#3C5488" stroke="#000" stroke-width="1.0"/>
<rect x="417.2" y="1675.6" width="158.85" height="299.3" fill="none" stroke="#000" stroke-width="1.9"/>
<line x1="416.25" y1="1675.6" x2="577" y2="1675.6" stroke="#000" stroke-width="2.9"/>
<line x1="439.89" y1="1974.9" x2="439.89" y2="1980.4" stroke="#333" stroke-width="1.5"/>
<line x1="477.71" y1="1974.9" x2="477.71" y2="1980.4" stroke="#333" stroke-width="1.5"/>
<line x1="515.54" y1="1974.9" x2="515.54" y2="1980.4" stroke="#333" stroke-width="1.5"/>
<line x1="553.36" y1="1974.9" x2="553.36" y2="1980.4" stroke="#333" stroke-width="1.5"/>
<rect x="587.3" y="1634.76" width="158.85" height="40.84" fill="#D9D9D9" stroke="#000" stroke-width="1.9"/>
<text transform="translate(666.22,1665.2) scale(0.88,1)" font-size="29.55" font-weight="bold" text-anchor="middle" fill="#1A1A1A">E4</text>
<rect x="587.3" y="1675.6" width="158.85" height="299.3" fill="#fff"/>
<rect x="592.97" y="1750.18" width="34.04" height="224.72" fill="#E64B35" stroke="#000" stroke-width="1.6"/>
<rect x="630.79" y="1844.14" width="34.04" height="130.76" fill="#4DBBD5" stroke="#000" stroke-width="1.6"/>
<rect x="668.62" y="1855.07" width="34.04" height="119.83" fill="#00A087" stroke="#000" stroke-width="1.6"/>
<rect x="706.44" y="1865.44" width="34.04" height="109.46" fill="#3C5488" stroke="#000" stroke-width="1.6"/>
<circle cx="605.7" cy="1746.5" r="4.4" fill="#E64B35" stroke="#000" stroke-width="1.0"/>
<circle cx="602.5" cy="1750.6" r="4.4" fill="#E64B35" stroke="#000" stroke-width="1.0"/>
<circle cx="610.2" cy="1752.1" r="4.4" fill="#E64B35" stroke="#000" stroke-width="1.0"/>
<circle cx="641.3" cy="1812.6" r="4.4" fill="#4DBBD5" stroke="#000" stroke-width="1.0"/>
<circle cx="653.6" cy="1825.3" r="4.4" fill="#4DBBD5" stroke="#000" stroke-width="1.0"/>
<circle cx="650.1" cy="1842.6" r="4.4" fill="#4DBBD5" stroke="#000" stroke-width="1.0"/>
<circle cx="647.6" cy="1847.7" r="4.4" fill="#4DBBD5" stroke="#000" stroke-width="1.0"/>
<circle cx="649.7" cy="1861" r="4.4" fill="#4DBBD5" stroke="#000" stroke-width="1.0"/>
<circle cx="640.9" cy="1871.3" r="4.4" fill="#4DBBD5" stroke="#000" stroke-width="1.0"/>
<circle cx="685.9" cy="1828.3" r="4.4" fill="#00A087" stroke="#000" stroke-width="1.0"/>
<circle cx="693.4" cy="1836.5" r="4.4" fill="#00A087" stroke="#000" stroke-width="1.0"/>
<circle cx="682.4" cy="1857.6" r="4.4" fill="#00A087" stroke="#000" stroke-width="1.0"/>
<circle cx="688.9" cy="1895.8" r="4.4" fill="#00A087" stroke="#000" stroke-width="1.0"/>
<circle cx="726.2" cy="1806.9" r="4.4" fill="#3C5488" stroke="#000" stroke-width="1.0"/>
<circle cx="725.3" cy="1855.9" r="4.4" fill="#3C5488" stroke="#000" stroke-width="1.0"/>
<circle cx="722.7" cy="1858.4" r="4.4" fill="#3C5488" stroke="#000" stroke-width="1.0"/>
<circle cx="724.3" cy="1873.3" r="4.4" fill="#3C5488" stroke="#000" stroke-width="1.0"/>
<circle cx="727.8" cy="1879.8" r="4.4" fill="#3C5488" stroke="#000" stroke-width="1.0"/>
<circle cx="720.6" cy="1917.3" r="4.4" fill="#3C5488" stroke="#000" stroke-width="1.0"/>
<rect x="587.3" y="1675.6" width="158.85" height="299.3" fill="none" stroke="#000" stroke-width="1.9"/>
<line x1="586.35" y1="1675.6" x2="747.1" y2="1675.6" stroke="#000" stroke-width="2.9"/>
<line x1="609.99" y1="1974.9" x2="609.99" y2="1980.4" stroke="#333" stroke-width="1.5"/>
<line x1="647.81" y1="1974.9" x2="647.81" y2="1980.4" stroke="#333" stroke-width="1.5"/>
<line x1="685.64" y1="1974.9" x2="685.64" y2="1980.4" stroke="#333" stroke-width="1.5"/>
<line x1="723.46" y1="1974.9" x2="723.46" y2="1980.4" stroke="#333" stroke-width="1.5"/>
<line x1="71.8" y1="1962.14" x2="77" y2="1962.14" stroke="#333" stroke-width="1.5"/>
<text transform="translate(67.5,1970.94) scale(0.96,1)" font-size="25.47" text-anchor="end" fill="#000">3</text>
<line x1="71.8" y1="1907.51" x2="77" y2="1907.51" stroke="#333" stroke-width="1.5"/>
<text transform="translate(67.5,1916.31) scale(0.96,1)" font-size="25.47" text-anchor="end" fill="#000">4</text>
<line x1="71.8" y1="1852.88" x2="77" y2="1852.88" stroke="#333" stroke-width="1.5"/>
<text transform="translate(67.5,1861.68) scale(0.96,1)" font-size="25.47" text-anchor="end" fill="#000">5</text>
<line x1="71.8" y1="1798.25" x2="77" y2="1798.25" stroke="#333" stroke-width="1.5"/>
<text transform="translate(67.5,1807.05) scale(0.96,1)" font-size="25.47" text-anchor="end" fill="#000">6</text>
<line x1="71.8" y1="1743.62" x2="77" y2="1743.62" stroke="#333" stroke-width="1.5"/>
<text transform="translate(67.5,1752.42) scale(0.96,1)" font-size="25.47" text-anchor="end" fill="#000">7</text>
<line x1="71.8" y1="1688.99" x2="77" y2="1688.99" stroke="#333" stroke-width="1.5"/>
<text transform="translate(67.5,1697.79) scale(0.96,1)" font-size="25.47" text-anchor="end" fill="#000">8</text>
<text transform="translate(30.5,1825.3) rotate(-90) scale(0.96,1)" font-size="28.71" text-anchor="middle" fill="#000">Shannon Diversity</text>
<text transform="translate(78.8,2031.9) scale(0.96,1)" font-size="32.16" font-weight="bold" fill="#000">Prokaryotes</text>
<rect x="78.75" y="2044.76" width="158.85" height="40.74" fill="#D9D9D9" stroke="#000" stroke-width="1.9"/>
<text transform="translate(157.68,2075.1) scale(0.88,1)" font-size="29.55" font-weight="bold" text-anchor="middle" fill="#1A1A1A">E1</text>
<rect x="78.75" y="2085.5" width="158.85" height="299.4" fill="#fff"/>
<rect x="84.42" y="2149.27" width="34.04" height="235.63" fill="#E64B35" stroke="#000" stroke-width="1.6"/>
<rect x="122.24" y="2218.76" width="34.04" height="166.14" fill="#4DBBD5" stroke="#000" stroke-width="1.6"/>
<rect x="160.07" y="2229.2" width="34.04" height="155.7" fill="#00A087" stroke="#000" stroke-width="1.6"/>
<rect x="197.89" y="2226.88" width="34.04" height="158.02" fill="#3C5488" stroke="#000" stroke-width="1.6"/>
<circle cx="94" cy="2145.7" r="4.4" fill="#E64B35" stroke="#000" stroke-width="1.0"/>
<circle cx="104.2" cy="2145.3" r="4.4" fill="#E64B35" stroke="#000" stroke-width="1.0"/>
<circle cx="93.3" cy="2155.5" r="4.4" fill="#E64B35" stroke="#000" stroke-width="1.0"/>
<circle cx="140" cy="2205.6" r="4.4" fill="#4DBBD5" stroke="#000" stroke-width="1.0"/>
<circle cx="139.7" cy="2210.7" r="4.4" fill="#4DBBD5" stroke="#000" stroke-width="1.0"/>
<circle cx="143" cy="2221.4" r="4.4" fill="#4DBBD5" stroke="#000" stroke-width="1.0"/>
<circle cx="139.3" cy="2220.5" r="4.4" fill="#4DBBD5" stroke="#000" stroke-width="1.0"/>
<circle cx="134.8" cy="2222.6" r="4.4" fill="#4DBBD5" stroke="#000" stroke-width="1.0"/>
<circle cx="133.6" cy="2225" r="4.4" fill="#4DBBD5" stroke="#000" stroke-width="1.0"/>
<circle cx="180.2" cy="2212.8" r="4.4" fill="#00A087" stroke="#000" stroke-width="1.0"/>
<circle cx="182.3" cy="2225.6" r="4.4" fill="#00A087" stroke="#000" stroke-width="1.0"/>
<circle cx="174.1" cy="2226" r="4.4" fill="#00A087" stroke="#000" stroke-width="1.0"/>
<circle cx="170" cy="2231.6" r="4.4" fill="#00A087" stroke="#000" stroke-width="1.0"/>
<circle cx="170.4" cy="2233.6" r="4.4" fill="#00A087" stroke="#000" stroke-width="1.0"/>
<circle cx="183.7" cy="2242" r="4.4" fill="#00A087" stroke="#000" stroke-width="1.0"/>
<circle cx="223.2" cy="2215.8" r="4.4" fill="#3C5488" stroke="#000" stroke-width="1.0"/>
<circle cx="223.6" cy="2224" r="4.4" fill="#3C5488" stroke="#000" stroke-width="1.0"/>
<circle cx="219.1" cy="2226" r="4.4" fill="#3C5488" stroke="#000" stroke-width="1.0"/>
<circle cx="222.1" cy="2232.8" r="4.4" fill="#3C5488" stroke="#000" stroke-width="1.0"/>
<circle cx="210.9" cy="2234.6" r="4.4" fill="#3C5488" stroke="#000" stroke-width="1.0"/>
<rect x="78.75" y="2085.5" width="158.85" height="299.4" fill="none" stroke="#000" stroke-width="1.9"/>
<line x1="77.8" y1="2085.5" x2="238.55" y2="2085.5" stroke="#000" stroke-width="2.9"/>
<line x1="101.44" y1="2384.9" x2="101.44" y2="2390.4" stroke="#333" stroke-width="1.5"/>
<line x1="139.26" y1="2384.9" x2="139.26" y2="2390.4" stroke="#333" stroke-width="1.5"/>
<line x1="177.09" y1="2384.9" x2="177.09" y2="2390.4" stroke="#333" stroke-width="1.5"/>
<line x1="214.91" y1="2384.9" x2="214.91" y2="2390.4" stroke="#333" stroke-width="1.5"/>
<rect x="248.85" y="2044.76" width="158.85" height="40.74" fill="#D9D9D9" stroke="#000" stroke-width="1.9"/>
<text transform="translate(327.77,2075.1) scale(0.88,1)" font-size="29.55" font-weight="bold" text-anchor="middle" fill="#1A1A1A">E2</text>
<rect x="248.85" y="2085.5" width="158.85" height="299.4" fill="#fff"/>
<rect x="254.52" y="2169.89" width="34.04" height="215.01" fill="#E64B35" stroke="#000" stroke-width="1.6"/>
<rect x="292.34" y="2229.2" width="34.04" height="155.7" fill="#4DBBD5" stroke="#000" stroke-width="1.6"/>
<rect x="330.17" y="2232.41" width="34.04" height="152.49" fill="#00A087" stroke="#000" stroke-width="1.6"/>
<rect x="367.99" y="2230.16" width="34.04" height="154.74" fill="#3C5488" stroke="#000" stroke-width="1.6"/>
<circle cx="273.3" cy="2166.1" r="4.4" fill="#E64B35" stroke="#000" stroke-width="1.0"/>
<circle cx="267.7" cy="2169.4" r="4.4" fill="#E64B35" stroke="#000" stroke-width="1.0"/>
<circle cx="273.3" cy="2170.4" r="4.4" fill="#E64B35" stroke="#000" stroke-width="1.0"/>
<circle cx="310.1" cy="2201.5" r="4.4" fill="#4DBBD5" stroke="#000" stroke-width="1.0"/>
<circle cx="312.1" cy="2227.7" r="4.4" fill="#4DBBD5" stroke="#000" stroke-width="1.0"/>
<circle cx="307" cy="2233.2" r="4.4" fill="#4DBBD5" stroke="#000" stroke-width="1.0"/>
<circle cx="311.1" cy="2235.7" r="4.4" fill="#4DBBD5" stroke="#000" stroke-width="1.0"/>
<circle cx="305" cy="2237.7" r="4.4" fill="#4DBBD5" stroke="#000" stroke-width="1.0"/>
<circle cx="342.4" cy="2218.9" r="4.4" fill="#00A087" stroke="#000" stroke-width="1.0"/>
<circle cx="340.7" cy="2224.2" r="4.4" fill="#00A087" stroke="#000" stroke-width="1.0"/>
<circle cx="351" cy="2225.6" r="4.4" fill="#00A087" stroke="#000" stroke-width="1.0"/>
<circle cx="344.8" cy="2238.9" r="4.4" fill="#00A087" stroke="#000" stroke-width="1.0"/>
<circle cx="355" cy="2237.7" r="4.4" fill="#00A087" stroke="#000" stroke-width="1.0"/>
<circle cx="342.4" cy="2245.5" r="4.4" fill="#00A087" stroke="#000" stroke-width="1.0"/>
<circle cx="383.3" cy="2213.8" r="4.4" fill="#3C5488" stroke="#000" stroke-width="1.0"/>
<circle cx="379.2" cy="2226.7" r="4.4" fill="#3C5488" stroke="#000" stroke-width="1.0"/>
<circle cx="390.8" cy="2227.1" r="4.4" fill="#3C5488" stroke="#000" stroke-width="1.0"/>
<circle cx="390.8" cy="2232.2" r="4.4" fill="#3C5488" stroke="#000" stroke-width="1.0"/>
<circle cx="387.7" cy="2235.3" r="4.4" fill="#3C5488" stroke="#000" stroke-width="1.0"/>
<circle cx="380" cy="2242.4" r="4.4" fill="#3C5488" stroke="#000" stroke-width="1.0"/>
<rect x="248.85" y="2085.5" width="158.85" height="299.4" fill="none" stroke="#000" stroke-width="1.9"/>
<line x1="247.9" y1="2085.5" x2="408.65" y2="2085.5" stroke="#000" stroke-width="2.9"/>
<line x1="271.54" y1="2384.9" x2="271.54" y2="2390.4" stroke="#333" stroke-width="1.5"/>
<line x1="309.36" y1="2384.9" x2="309.36" y2="2390.4" stroke="#333" stroke-width="1.5"/>
<line x1="347.19" y1="2384.9" x2="347.19" y2="2390.4" stroke="#333" stroke-width="1.5"/>
<line x1="385.01" y1="2384.9" x2="385.01" y2="2390.4" stroke="#333" stroke-width="1.5"/>
<rect x="418.95" y="2044.76" width="158.85" height="40.74" fill="#D9D9D9" stroke="#000" stroke-width="1.9"/>
<text transform="translate(497.88,2075.1) scale(0.88,1)" font-size="29.55" font-weight="bold" text-anchor="middle" fill="#1A1A1A">E3</text>
<rect x="418.95" y="2085.5" width="158.85" height="299.4" fill="#fff"/>
<rect x="424.62" y="2127.36" width="34.04" height="257.54" fill="#E64B35" stroke="#000" stroke-width="1.6"/>
<rect x="462.44" y="2154.8" width="34.04" height="230.1" fill="#4DBBD5" stroke="#000" stroke-width="1.6"/>
<rect x="500.27" y="2159.37" width="34.04" height="225.53" fill="#00A087" stroke="#000" stroke-width="1.6"/>
<rect x="538.09" y="2150.64" width="34.04" height="234.26" fill="#3C5488" stroke="#000" stroke-width="1.6"/>
<circle cx="435.8" cy="2125.3" r="4.4" fill="#E64B35" stroke="#000" stroke-width="1.0"/>
<circle cx="440.1" cy="2127.5" r="4.4" fill="#E64B35" stroke="#000" stroke-width="1.0"/>
<circle cx="473.6" cy="2145.7" r="4.4" fill="#4DBBD5" stroke="#000" stroke-width="1.0"/>
<circle cx="477.9" cy="2146.9" r="4.4" fill="#4DBBD5" stroke="#000" stroke-width="1.0"/>
<circle cx="486.9" cy="2151" r="4.4" fill="#4DBBD5" stroke="#000" stroke-width="1.0"/>
<circle cx="480.8" cy="2152.4" r="4.4" fill="#4DBBD5" stroke="#000" stroke-width="1.0"/>
<circle cx="478.9" cy="2153.5" r="4.4" fill="#4DBBD5" stroke="#000" stroke-width="1.0"/>
<circle cx="478.9" cy="2173.9" r="4.4" fill="#4DBBD5" stroke="#000" stroke-width="1.0"/>
<circle cx="521.2" cy="2151.4" r="4.4" fill="#00A087" stroke="#000" stroke-width="1.0"/>
<circle cx="516.5" cy="2152.4" r="4.4" fill="#00A087" stroke="#000" stroke-width="1.0"/>
<circle cx="522.7" cy="2161.2" r="4.4" fill="#00A087" stroke="#000" stroke-width="1.0"/>
<circle cx="518.2" cy="2161.2" r="4.4" fill="#00A087" stroke="#000" stroke-width="1.0"/>
<circle cx="517.6" cy="2173.9" r="4.4" fill="#00A087" stroke="#000" stroke-width="1.0"/>
<circle cx="549.9" cy="2134" r="4.4" fill="#3C5488" stroke="#000" stroke-width="1.0"/>
<circle cx="551.3" cy="2144.9" r="4.4" fill="#3C5488" stroke="#000" stroke-width="1.0"/>
<circle cx="561.1" cy="2148" r="4.4" fill="#3C5488" stroke="#000" stroke-width="1.0"/>
<circle cx="556.6" cy="2155.1" r="4.4" fill="#3C5488" stroke="#000" stroke-width="1.0"/>
<circle cx="561.1" cy="2158.6" r="4.4" fill="#3C5488" stroke="#000" stroke-width="1.0"/>
<circle cx="555.6" cy="2161.2" r="4.4" fill="#3C5488" stroke="#000" stroke-width="1.0"/>
<rect x="418.95" y="2085.5" width="158.85" height="299.4" fill="none" stroke="#000" stroke-width="1.9"/>
<line x1="418" y1="2085.5" x2="578.75" y2="2085.5" stroke="#000" stroke-width="2.9"/>
<line x1="441.64" y1="2384.9" x2="441.64" y2="2390.4" stroke="#333" stroke-width="1.5"/>
<line x1="479.46" y1="2384.9" x2="479.46" y2="2390.4" stroke="#333" stroke-width="1.5"/>
<line x1="517.29" y1="2384.9" x2="517.29" y2="2390.4" stroke="#333" stroke-width="1.5"/>
<line x1="555.11" y1="2384.9" x2="555.11" y2="2390.4" stroke="#333" stroke-width="1.5"/>
<rect x="589.05" y="2044.76" width="158.85" height="40.74" fill="#D9D9D9" stroke="#000" stroke-width="1.9"/>
<text transform="translate(667.97,2075.1) scale(0.88,1)" font-size="29.55" font-weight="bold" text-anchor="middle" fill="#1A1A1A">E4</text>
<rect x="589.05" y="2085.5" width="158.85" height="299.4" fill="#fff"/>
<rect x="594.72" y="2315.07" width="34.04" height="69.83" fill="#E64B35" stroke="#000" stroke-width="1.6"/>
<rect x="632.54" y="2278.62" width="34.04" height="106.28" fill="#4DBBD5" stroke="#000" stroke-width="1.6"/>
<rect x="670.37" y="2264.9" width="34.04" height="120" fill="#00A087" stroke="#000" stroke-width="1.6"/>
<rect x="708.19" y="2284.08" width="34.04" height="100.82" fill="#3C5488" stroke="#000" stroke-width="1.6"/>
<circle cx="607.7" cy="2307.8" r="4.4" fill="#E64B35" stroke="#000" stroke-width="1.0"/>
<circle cx="606.5" cy="2316" r="4.4" fill="#E64B35" stroke="#000" stroke-width="1.0"/>
<circle cx="614.7" cy="2320.1" r="4.4" fill="#E64B35" stroke="#000" stroke-width="1.0"/>
<circle cx="645.4" cy="2258.8" r="4.4" fill="#4DBBD5" stroke="#000" stroke-width="1.0"/>
<circle cx="654.1" cy="2271" r="4.4" fill="#4DBBD5" stroke="#000" stroke-width="1.0"/>
<circle cx="652.1" cy="2278.2" r="4.4" fill="#4DBBD5" stroke="#000" stroke-width="1.0"/>
<circle cx="648.4" cy="2286.4" r="4.4" fill="#4DBBD5" stroke="#000" stroke-width="1.0"/>
<circle cx="642.9" cy="2295.6" r="4.4" fill="#4DBBD5" stroke="#000" stroke-width="1.0"/>
<circle cx="695.5" cy="2245.9" r="4.4" fill="#00A087" stroke="#000" stroke-width="1.0"/>
<circle cx="691.6" cy="2261.8" r="4.4" fill="#00A087" stroke="#000" stroke-width="1.0"/>
<circle cx="694.4" cy="2271.6" r="4.4" fill="#00A087" stroke="#000" stroke-width="1.0"/>
<circle cx="687.9" cy="2275.7" r="4.4" fill="#00A087" stroke="#000" stroke-width="1.0"/>
<circle cx="732.9" cy="2269.4" r="4.4" fill="#3C5488" stroke="#000" stroke-width="1.0"/>
<circle cx="726.1" cy="2278.2" r="4.4" fill="#3C5488" stroke="#000" stroke-width="1.0"/>
<circle cx="719.6" cy="2281.3" r="4.4" fill="#3C5488" stroke="#000" stroke-width="1.0"/>
<circle cx="722.6" cy="2283.3" r="4.4" fill="#3C5488" stroke="#000" stroke-width="1.0"/>
<circle cx="726.3" cy="2288.8" r="4.4" fill="#3C5488" stroke="#000" stroke-width="1.0"/>
<circle cx="724.1" cy="2297.6" r="4.4" fill="#3C5488" stroke="#000" stroke-width="1.0"/>
<rect x="589.05" y="2085.5" width="158.85" height="299.4" fill="none" stroke="#000" stroke-width="1.9"/>
<line x1="588.1" y1="2085.5" x2="748.85" y2="2085.5" stroke="#000" stroke-width="2.9"/>
<line x1="611.74" y1="2384.9" x2="611.74" y2="2390.4" stroke="#333" stroke-width="1.5"/>
<line x1="649.56" y1="2384.9" x2="649.56" y2="2390.4" stroke="#333" stroke-width="1.5"/>
<line x1="687.39" y1="2384.9" x2="687.39" y2="2390.4" stroke="#333" stroke-width="1.5"/>
<line x1="725.21" y1="2384.9" x2="725.21" y2="2390.4" stroke="#333" stroke-width="1.5"/>
<line x1="73.55" y1="2372.14" x2="78.75" y2="2372.14" stroke="#333" stroke-width="1.5"/>
<text transform="translate(69.25,2380.94) scale(0.96,1)" font-size="25.47" text-anchor="end" fill="#000">3</text>
<line x1="73.55" y1="2303.88" x2="78.75" y2="2303.88" stroke="#333" stroke-width="1.5"/>
<text transform="translate(69.25,2312.68) scale(0.96,1)" font-size="25.47" text-anchor="end" fill="#000">4</text>
<line x1="73.55" y1="2235.62" x2="78.75" y2="2235.62" stroke="#333" stroke-width="1.5"/>
<text transform="translate(69.25,2244.42) scale(0.96,1)" font-size="25.47" text-anchor="end" fill="#000">5</text>
<line x1="73.55" y1="2167.36" x2="78.75" y2="2167.36" stroke="#333" stroke-width="1.5"/>
<text transform="translate(69.25,2176.16) scale(0.96,1)" font-size="25.47" text-anchor="end" fill="#000">6</text>
<line x1="73.55" y1="2099.1" x2="78.75" y2="2099.1" stroke="#333" stroke-width="1.5"/>
<text transform="translate(69.25,2107.9) scale(0.96,1)" font-size="25.47" text-anchor="end" fill="#000">7</text>
<text transform="translate(30.5,2234.7) rotate(-90) scale(0.96,1)" font-size="28.71" text-anchor="middle" fill="#000">Shannon Diversity</text>
<text transform="translate(99.5,2124.1) scale(0.96,1)" font-size="23.59" text-anchor="middle" fill="#000">a</text>
<text transform="translate(140,2189) scale(0.96,1)" font-size="23.59" text-anchor="middle" fill="#000">b</text>
<text transform="translate(178.2,2199.2) scale(0.96,1)" font-size="23.59" text-anchor="middle" fill="#000">c</text>
<text transform="translate(216.5,2199.2) scale(0.96,1)" font-size="23.59" text-anchor="middle" fill="#000">c</text>
<text transform="translate(113.94,2407.5) rotate(-45) scale(0.96,1)" font-size="25.06" text-anchor="end" fill="#000">T0</text>
<text transform="translate(151.76,2407.5) rotate(-45) scale(0.96,1)" font-size="25.06" text-anchor="end" fill="#000">400</text>
<text transform="translate(189.59,2407.5) rotate(-45) scale(0.96,1)" font-size="25.06" text-anchor="end" fill="#000">800</text>
<text transform="translate(227.41,2407.5) rotate(-45) scale(0.96,1)" font-size="25.06" text-anchor="end" fill="#000">1200</text>
<text transform="translate(284.04,2407.5) rotate(-45) scale(0.96,1)" font-size="25.06" text-anchor="end" fill="#000">T0</text>
<text transform="translate(321.86,2407.5) rotate(-45) scale(0.96,1)" font-size="25.06" text-anchor="end" fill="#000">400</text>
<text transform="translate(359.69,2407.5) rotate(-45) scale(0.96,1)" font-size="25.06" text-anchor="end" fill="#000">800</text>
<text transform="translate(397.51,2407.5) rotate(-45) scale(0.96,1)" font-size="25.06" text-anchor="end" fill="#000">1200</text>
<text transform="translate(454.14,2407.5) rotate(-45) scale(0.96,1)" font-size="25.06" text-anchor="end" fill="#000">T0</text>
<text transform="translate(491.96,2407.5) rotate(-45) scale(0.96,1)" font-size="25.06" text-anchor="end" fill="#000">400</text>
<text transform="translate(529.79,2407.5) rotate(-45) scale(0.96,1)" font-size="25.06" text-anchor="end" fill="#000">800</text>
<text transform="translate(567.61,2407.5) rotate(-45) scale(0.96,1)" font-size="25.06" text-anchor="end" fill="#000">1200</text>
<text transform="translate(624.24,2407.5) rotate(-45) scale(0.96,1)" font-size="25.06" text-anchor="end" fill="#000">T0</text>
<text transform="translate(662.06,2407.5) rotate(-45) scale(0.96,1)" font-size="25.06" text-anchor="end" fill="#000">400</text>
<text transform="translate(699.89,2407.5) rotate(-45) scale(0.96,1)" font-size="25.06" text-anchor="end" fill="#000">800</text>
<text transform="translate(737.71,2407.5) rotate(-45) scale(0.96,1)" font-size="25.06" text-anchor="end" fill="#000">1200</text>
<text transform="translate(413.6,2486) scale(0.96,1)" font-size="28.71" text-anchor="middle" fill="#000">Treatment</text>
<text transform="translate(785.5,1628.3) scale(0.96,1)" font-size="57.94" font-weight="bold" fill="#000">c</text>
<text transform="translate(881.2,1633.1) scale(0.96,1)" font-size="32.16" font-weight="bold" fill="#000">Eukaryotes</text>
<rect x="881.9" y="1645.8" width="448.1" height="275.9" fill="#fff"/>
<line x1="930" y1="1645.8" x2="930" y2="1921.7" stroke="#EBEBEB" stroke-width="1"/>
<line x1="1031.2" y1="1645.8" x2="1031.2" y2="1921.7" stroke="#EBEBEB" stroke-width="1"/>
<line x1="1132.4" y1="1645.8" x2="1132.4" y2="1921.7" stroke="#EBEBEB" stroke-width="1"/>
<line x1="1233.6" y1="1645.8" x2="1233.6" y2="1921.7" stroke="#EBEBEB" stroke-width="1"/>
<line x1="881.9" y1="1901.4" x2="1330" y2="1901.4" stroke="#EBEBEB" stroke-width="1"/>
<line x1="881.9" y1="1835.6" x2="1330" y2="1835.6" stroke="#EBEBEB" stroke-width="1"/>
<line x1="881.9" y1="1769.8" x2="1330" y2="1769.8" stroke="#EBEBEB" stroke-width="1"/>
<line x1="881.9" y1="1704" x2="1330" y2="1704" stroke="#EBEBEB" stroke-width="1"/>
<line x1="980.6" y1="1645.8" x2="980.6" y2="1921.7" stroke="#EBEBEB" stroke-width="1.6"/>
<line x1="1081.8" y1="1645.8" x2="1081.8" y2="1921.7" stroke="#EBEBEB" stroke-width="1.6"/>
<line x1="1183" y1="1645.8" x2="1183" y2="1921.7" stroke="#EBEBEB" stroke-width="1.6"/>
<line x1="1284.2" y1="1645.8" x2="1284.2" y2="1921.7" stroke="#EBEBEB" stroke-width="1.6"/>
<line x1="881.9" y1="1868.5" x2="1330" y2="1868.5" stroke="#EBEBEB" stroke-width="1.6"/>
<line x1="881.9" y1="1802.7" x2="1330" y2="1802.7" stroke="#EBEBEB" stroke-width="1.6"/>
<line x1="881.9" y1="1736.9" x2="1330" y2="1736.9" stroke="#EBEBEB" stroke-width="1.6"/>
<line x1="881.9" y1="1671.1" x2="1330" y2="1671.1" stroke="#EBEBEB" stroke-width="1.6"/>
<circle cx="919.7" cy="1784.2" r="8.45" fill="#3C5488" stroke="#000" stroke-width="1.6"/>
<circle cx="924.3" cy="1791.5" r="8.45" fill="#3C5488" stroke="#000" stroke-width="1.6"/>
<circle cx="927.6" cy="1775" r="8.45" fill="#3C5488" stroke="#000" stroke-width="1.6"/>
<circle cx="934.3" cy="1773.7" r="8.45" fill="#3C5488" stroke="#000" stroke-width="1.6"/>
<circle cx="939.5" cy="1768.4" r="8.45" fill="#3C5488" stroke="#000" stroke-width="1.6"/>
<circle cx="956.7" cy="1766.4" r="8.45" fill="#4DBBD5" stroke="#000" stroke-width="1.6"/>
<circle cx="953.4" cy="1767" r="8.45" fill="#00A087" stroke="#000" stroke-width="1.6"/>
<circle cx="948.1" cy="1777" r="8.45" fill="#4DBBD5" stroke="#000" stroke-width="1.6"/>
<circle cx="942.9" cy="1787.6" r="8.45" fill="#4DBBD5" stroke="#000" stroke-width="1.6"/>
<circle cx="956.1" cy="1775" r="8.45" fill="#00A087" stroke="#000" stroke-width="1.6"/>
<circle cx="931.6" cy="1784.2" r="8.45" fill="#00A087" stroke="#000" stroke-width="1.6"/>
<circle cx="954.1" cy="1786.9" r="8.45" fill="#00A087" stroke="#000" stroke-width="1.6"/>
<circle cx="978.3" cy="1789.5" r="8.45" fill="#4DBBD5" stroke="#000" stroke-width="1.6"/>
<circle cx="972.6" cy="1773" r="8.45" fill="#E64B35" stroke="#000" stroke-width="1.6"/>
<circle cx="989.2" cy="1772.3" r="8.45" fill="#E64B35" stroke="#000" stroke-width="1.6"/>
<circle cx="1004.8" cy="1787.6" r="8.45" fill="#E64B35" stroke="#000" stroke-width="1.6"/>
<rect x="894.75" y="1838.55" width="15.5" height="15.5" fill="#3C5488" stroke="#000" stroke-width="1.6"/>
<rect x="901.35" y="1832.75" width="15.5" height="15.5" fill="#4DBBD5" stroke="#000" stroke-width="1.6"/>
<rect x="907.95" y="1838.55" width="15.5" height="15.5" fill="#00A087" stroke="#000" stroke-width="1.6"/>
<rect x="901.35" y="1839.25" width="15.5" height="15.5" fill="#00A087" stroke="#000" stroke-width="1.6"/>
<rect x="894.05" y="1851.75" width="15.5" height="15.5" fill="#00A087" stroke="#000" stroke-width="1.6"/>
<rect x="903.35" y="1857.75" width="15.5" height="15.5" fill="#3C5488" stroke="#000" stroke-width="1.6"/>
<rect x="906.05" y="1857.25" width="15.5" height="15.5" fill="#4DBBD5" stroke="#000" stroke-width="1.6"/>
<rect x="902.05" y="1847.85" width="15.5" height="15.5" fill="#00A087" stroke="#000" stroke-width="1.6"/>
<rect x="927.15" y="1854.45" width="15.5" height="15.5" fill="#E64B35" stroke="#000" stroke-width="1.6"/>
<rect x="906.05" y="1854.45" width="15.5" height="15.5" fill="#3C5488" stroke="#000" stroke-width="1.6"/>
<rect x="919.85" y="1853.75" width="15.5" height="15.5" fill="#3C5488" stroke="#000" stroke-width="1.6"/>
<rect x="939.35" y="1856.05" width="15.5" height="15.5" fill="#E64B35" stroke="#000" stroke-width="1.6"/>
<rect x="957.35" y="1848.45" width="15.5" height="15.5" fill="#E64B35" stroke="#000" stroke-width="1.6"/>
<polygon points="1175.7,1644.2 1186.5,1655 1175.7,1665.8 1164.9,1655" fill="#4DBBD5" stroke="#000" stroke-width="1.6"/>
<polygon points="1175.1,1653.7 1185.9,1664.5 1175.1,1675.3 1164.3,1664.5" fill="#4DBBD5" stroke="#000" stroke-width="1.6"/>
<polygon points="1190.7,1652.2 1201.5,1663 1190.7,1673.8 1179.9,1663" fill="#4DBBD5" stroke="#000" stroke-width="1.6"/>
<polygon points="1204.6,1652.5 1215.4,1663.3 1204.6,1674.1 1193.8,1663.3" fill="#3C5488" stroke="#000" stroke-width="1.6"/>
<polygon points="1210,1654.9 1220.8,1665.7 1210,1676.5 1199.2,1665.7" fill="#4DBBD5" stroke="#000" stroke-width="1.6"/>
<polygon points="1213.6,1681.9 1224.4,1692.7 1213.6,1703.5 1202.8,1692.7" fill="#3C5488" stroke="#000" stroke-width="1.6"/>
<polygon points="1182.9,1669.3 1193.7,1680.1 1182.9,1690.9 1172.1,1680.1" fill="#3C5488" stroke="#000" stroke-width="1.6"/>
<polygon points="1147.1,1651 1157.9,1661.8 1147.1,1672.6 1136.3,1661.8" fill="#3C5488" stroke="#000" stroke-width="1.6"/>
<polygon points="1162.5,1649.7 1173.3,1660.5 1162.5,1671.3 1151.7,1660.5" fill="#00A087" stroke="#000" stroke-width="1.6"/>
<polygon points="1164.9,1647.7 1175.7,1658.5 1164.9,1669.3 1154.1,1658.5" fill="#00A087" stroke="#000" stroke-width="1.6"/>
<polygon points="1183.5,1647.7 1194.3,1658.5 1183.5,1669.3 1172.7,1658.5" fill="#00A087" stroke="#000" stroke-width="1.6"/>
<polygon points="1198.2,1663 1209,1673.8 1198.2,1684.6 1187.4,1673.8" fill="#00A087" stroke="#000" stroke-width="1.6"/>
<polygon points="1213.6,1668.4 1224.4,1679.2 1213.6,1690 1202.8,1679.2" fill="#00A087" stroke="#000" stroke-width="1.6"/>
<polygon points="1215.3,1735.6 1226.1,1746.4 1215.3,1757.2 1204.5,1746.4" fill="#E64B35" stroke="#000" stroke-width="1.6"/>
<polygon points="1221,1726.8 1231.8,1737.6 1221,1748.4 1210.2,1737.6" fill="#E64B35" stroke="#000" stroke-width="1.6"/>
<polygon points="1268.2,1865.73 1279.8,1885.93 1256.6,1885.93" fill="#E64B35" stroke="#000" stroke-width="1.6" stroke-linejoin="miter"/>
<polygon points="1290.9,1865.73 1302.5,1885.93 1279.3,1885.93" fill="#E64B35" stroke="#000" stroke-width="1.6" stroke-linejoin="miter"/>
<polygon points="1286.9,1864.13 1298.5,1884.33 1275.3,1884.33" fill="#E64B35" stroke="#000" stroke-width="1.6" stroke-linejoin="miter"/>
<polygon points="1300,1895.53 1311.6,1915.73 1288.4,1915.73" fill="#3C5488" stroke="#000" stroke-width="1.6" stroke-linejoin="miter"/>
<polygon points="1296,1896.53 1307.6,1916.73 1284.4,1916.73" fill="#4DBBD5" stroke="#000" stroke-width="1.6" stroke-linejoin="miter"/>
<polygon points="1293,1897.53 1304.6,1917.73 1281.4,1917.73" fill="#00A087" stroke="#000" stroke-width="1.6" stroke-linejoin="miter"/>
<polygon points="1306,1891.53 1317.6,1911.73 1294.4,1911.73" fill="#3C5488" stroke="#000" stroke-width="1.6" stroke-linejoin="miter"/>
<polygon points="1304,1894.53 1315.6,1914.73 1292.4,1914.73" fill="#4DBBD5" stroke="#000" stroke-width="1.6" stroke-linejoin="miter"/>
<polygon points="1295.5,1886.93 1307.1,1907.13 1283.9,1907.13" fill="#3C5488" stroke="#000" stroke-width="1.6" stroke-linejoin="miter"/>
<polygon points="1278,1890.53 1289.6,1910.73 1266.4,1910.73" fill="#4DBBD5" stroke="#000" stroke-width="1.6" stroke-linejoin="miter"/>
<polygon points="1285.9,1889.53 1297.5,1909.73 1274.3,1909.73" fill="#4DBBD5" stroke="#000" stroke-width="1.6" stroke-linejoin="miter"/>
<polygon points="1290.5,1889.93 1302.1,1910.13 1278.9,1910.13" fill="#4DBBD5" stroke="#000" stroke-width="1.6" stroke-linejoin="miter"/>
<polygon points="1310,1888.93 1321.6,1909.13 1298.4,1909.13" fill="#3C5488" stroke="#000" stroke-width="1.6" stroke-linejoin="miter"/>
<polygon points="1305.4,1882.93 1317,1903.13 1293.8,1903.13" fill="#00A087" stroke="#000" stroke-width="1.6" stroke-linejoin="miter"/>
<polygon points="1278.6,1894.83 1290.2,1915.03 1267,1915.03" fill="#00A087" stroke="#000" stroke-width="1.6" stroke-linejoin="miter"/>
<rect x="881.9" y="1645.8" width="448.1" height="275.9" fill="none" stroke="#000" stroke-width="2.3"/>
<line x1="980.6" y1="1921.7" x2="980.6" y2="1928" stroke="#333" stroke-width="1.5"/>
<text transform="translate(980.6,1953) scale(0.96,1)" font-size="29.02" text-anchor="middle" fill="#000">&#8722;0.2</text>
<line x1="1081.8" y1="1921.7" x2="1081.8" y2="1928" stroke="#333" stroke-width="1.5"/>
<text transform="translate(1081.8,1953) scale(0.96,1)" font-size="29.02" text-anchor="middle" fill="#000">0.0</text>
<line x1="1183" y1="1921.7" x2="1183" y2="1928" stroke="#333" stroke-width="1.5"/>
<text transform="translate(1183,1953) scale(0.96,1)" font-size="29.02" text-anchor="middle" fill="#000">0.2</text>
<line x1="1284.2" y1="1921.7" x2="1284.2" y2="1928" stroke="#333" stroke-width="1.5"/>
<text transform="translate(1284.2,1953) scale(0.96,1)" font-size="29.02" text-anchor="middle" fill="#000">0.4</text>
<line x1="875.6" y1="1868.5" x2="881.9" y2="1868.5" stroke="#333" stroke-width="1.5"/>
<text transform="translate(870.6,1878.5) scale(0.96,1)" font-size="29.02" text-anchor="end" fill="#000">&#8722;0.2</text>
<line x1="875.6" y1="1802.7" x2="881.9" y2="1802.7" stroke="#333" stroke-width="1.5"/>
<text transform="translate(870.6,1812.7) scale(0.96,1)" font-size="29.02" text-anchor="end" fill="#000">0.0</text>
<line x1="875.6" y1="1736.9" x2="881.9" y2="1736.9" stroke="#333" stroke-width="1.5"/>
<text transform="translate(870.6,1746.9) scale(0.96,1)" font-size="29.02" text-anchor="end" fill="#000">0.2</text>
<line x1="875.6" y1="1671.1" x2="881.9" y2="1671.1" stroke="#333" stroke-width="1.5"/>
<text transform="translate(870.6,1681.1) scale(0.96,1)" font-size="29.02" text-anchor="end" fill="#000">0.4</text>
<text transform="translate(1105.95,1987.6) scale(0.96,1)" font-size="32.36" text-anchor="middle" fill="#000">PC1</text>
<text transform="translate(804,1783.75) rotate(-90) scale(0.96,1)" font-size="32.36" text-anchor="middle" fill="#000">PC2</text>
<text transform="translate(881.2,2044) scale(0.96,1)" font-size="32.16" font-weight="bold" fill="#000">Prokaryotes</text>
<rect x="881.9" y="2056.4" width="448.8" height="277" fill="#fff"/>
<line x1="968.89" y1="2056.4" x2="968.89" y2="2333.4" stroke="#EBEBEB" stroke-width="1"/>
<line x1="1076.31" y1="2056.4" x2="1076.31" y2="2333.4" stroke="#EBEBEB" stroke-width="1"/>
<line x1="1183.74" y1="2056.4" x2="1183.74" y2="2333.4" stroke="#EBEBEB" stroke-width="1"/>
<line x1="1291.16" y1="2056.4" x2="1291.16" y2="2333.4" stroke="#EBEBEB" stroke-width="1"/>
<line x1="881.9" y1="2286.65" x2="1330.7" y2="2286.65" stroke="#EBEBEB" stroke-width="1"/>
<line x1="881.9" y1="2195.35" x2="1330.7" y2="2195.35" stroke="#EBEBEB" stroke-width="1"/>
<line x1="881.9" y1="2104.05" x2="1330.7" y2="2104.05" stroke="#EBEBEB" stroke-width="1"/>
<line x1="915.18" y1="2056.4" x2="915.18" y2="2333.4" stroke="#EBEBEB" stroke-width="1.6"/>
<line x1="1022.6" y1="2056.4" x2="1022.6" y2="2333.4" stroke="#EBEBEB" stroke-width="1.6"/>
<line x1="1130.03" y1="2056.4" x2="1130.03" y2="2333.4" stroke="#EBEBEB" stroke-width="1.6"/>
<line x1="1237.45" y1="2056.4" x2="1237.45" y2="2333.4" stroke="#EBEBEB" stroke-width="1.6"/>
<line x1="881.9" y1="2332.3" x2="1330.7" y2="2332.3" stroke="#EBEBEB" stroke-width="1.6"/>
<line x1="881.9" y1="2241" x2="1330.7" y2="2241" stroke="#EBEBEB" stroke-width="1.6"/>
<line x1="881.9" y1="2149.7" x2="1330.7" y2="2149.7" stroke="#EBEBEB" stroke-width="1.6"/>
<line x1="881.9" y1="2058.4" x2="1330.7" y2="2058.4" stroke="#EBEBEB" stroke-width="1.6"/>
<polygon points="1000.2,2058.6 1011,2069.4 1000.2,2080.2 989.4,2069.4" fill="#3C5488" stroke="#000" stroke-width="1.6"/>
<polygon points="988,2062.2 998.8,2073 988,2083.8 977.2,2073" fill="#3C5488" stroke="#000" stroke-width="1.6"/>
<polygon points="991.1,2055 1001.9,2065.8 991.1,2076.6 980.3,2065.8" fill="#00A087" stroke="#000" stroke-width="1.6"/>
<polygon points="986.2,2066.3 997,2077.1 986.2,2087.9 975.4,2077.1" fill="#00A087" stroke="#000" stroke-width="1.6"/>
<polygon points="980.3,2073.5 991.1,2084.3 980.3,2095.1 969.5,2084.3" fill="#4DBBD5" stroke="#000" stroke-width="1.6"/>
<polygon points="977.6,2078 988.4,2088.8 977.6,2099.6 966.8,2088.8" fill="#3C5488" stroke="#000" stroke-width="1.6"/>
<polygon points="992,2080.7 1002.8,2091.5 992,2102.3 981.2,2091.5" fill="#4DBBD5" stroke="#000" stroke-width="1.6"/>
<polygon points="1002.9,2086.1 1013.7,2096.9 1002.9,2107.7 992.1,2096.9" fill="#E64B35" stroke="#000" stroke-width="1.6"/>
<polygon points="999.3,2087.9 1010.1,2098.7 999.3,2109.5 988.5,2098.7" fill="#E64B35" stroke="#000" stroke-width="1.6"/>
<polygon points="987.5,2089.7 998.3,2100.5 987.5,2111.3 976.7,2100.5" fill="#4DBBD5" stroke="#000" stroke-width="1.6"/>
<polygon points="982.1,2081.6 992.9,2092.4 982.1,2103.2 971.3,2092.4" fill="#4DBBD5" stroke="#000" stroke-width="1.6"/>
<polygon points="971.3,2110.5 982.1,2121.3 971.3,2132.1 960.5,2121.3" fill="#3C5488" stroke="#000" stroke-width="1.6"/>
<polygon points="965,2102.3 975.8,2113.1 965,2123.9 954.2,2113.1" fill="#3C5488" stroke="#000" stroke-width="1.6"/>
<polygon points="974,2092.4 984.8,2103.2 974,2114 963.2,2103.2" fill="#00A087" stroke="#000" stroke-width="1.6"/>
<circle cx="922.4" cy="2319.6" r="8.45" fill="#3C5488" stroke="#000" stroke-width="1.6"/>
<circle cx="934" cy="2293.6" r="8.45" fill="#4DBBD5" stroke="#000" stroke-width="1.6"/>
<circle cx="930" cy="2300" r="8.45" fill="#3C5488" stroke="#000" stroke-width="1.6"/>
<circle cx="926.7" cy="2297.9" r="8.45" fill="#00A087" stroke="#000" stroke-width="1.6"/>
<circle cx="924.6" cy="2289.3" r="8.45" fill="#00A087" stroke="#000" stroke-width="1.6"/>
<circle cx="925" cy="2306" r="8.45" fill="#3C5488" stroke="#000" stroke-width="1.6"/>
<circle cx="923.9" cy="2310.2" r="8.45" fill="#00A087" stroke="#000" stroke-width="1.6"/>
<circle cx="922.4" cy="2314.5" r="8.45" fill="#00A087" stroke="#000" stroke-width="1.6"/>
<circle cx="966.1" cy="2234.1" r="8.45" fill="#E64B35" stroke="#000" stroke-width="1.6"/>
<circle cx="958.9" cy="2246.7" r="8.45" fill="#E64B35" stroke="#000" stroke-width="1.6"/>
<circle cx="958.5" cy="2235.9" r="8.45" fill="#E64B35" stroke="#000" stroke-width="1.6"/>
<rect x="917.55" y="2268.55" width="15.5" height="15.5" fill="#E64B35" stroke="#000" stroke-width="1.6"/>
<rect x="915.75" y="2268.55" width="15.5" height="15.5" fill="#E64B35" stroke="#000" stroke-width="1.6"/>
<rect x="905.25" y="2268.55" width="15.5" height="15.5" fill="#E64B35" stroke="#000" stroke-width="1.6"/>
<rect x="894.25" y="2292.25" width="15.5" height="15.5" fill="#00A087" stroke="#000" stroke-width="1.6"/>
<rect x="901.35" y="2286.55" width="15.5" height="15.5" fill="#4DBBD5" stroke="#000" stroke-width="1.6"/>
<rect x="895.85" y="2314.75" width="15.5" height="15.5" fill="#4DBBD5" stroke="#000" stroke-width="1.6"/>
<rect x="897.25" y="2310.25" width="15.5" height="15.5" fill="#00A087" stroke="#000" stroke-width="1.6"/>
<rect x="895.85" y="2297.35" width="15.5" height="15.5" fill="#00A087" stroke="#000" stroke-width="1.6"/>
<rect x="904.25" y="2312.25" width="15.5" height="15.5" fill="#3C5488" stroke="#000" stroke-width="1.6"/>
<rect x="899.55" y="2313.25" width="15.5" height="15.5" fill="#00A087" stroke="#000" stroke-width="1.6"/>
<polygon points="1291,2252.53 1302.6,2272.73 1279.4,2272.73" fill="#3C5488" stroke="#000" stroke-width="1.6" stroke-linejoin="miter"/>
<polygon points="1292,2255.03 1303.6,2275.23 1280.4,2275.23" fill="#3C5488" stroke="#000" stroke-width="1.6" stroke-linejoin="miter"/>
<polygon points="1292.8,2250.83 1304.4,2271.03 1281.2,2271.03" fill="#4DBBD5" stroke="#000" stroke-width="1.6" stroke-linejoin="miter"/>
<polygon points="1288,2248.53 1299.6,2268.73 1276.4,2268.73" fill="#4DBBD5" stroke="#000" stroke-width="1.6" stroke-linejoin="miter"/>
<polygon points="1289.8,2243.03 1301.4,2263.23 1278.2,2263.23" fill="#00A087" stroke="#000" stroke-width="1.6" stroke-linejoin="miter"/>
<polygon points="1282.5,2246.53 1294.1,2266.73 1270.9,2266.73" fill="#00A087" stroke="#000" stroke-width="1.6" stroke-linejoin="miter"/>
<polygon points="1276.2,2232.73 1287.8,2252.93 1264.6,2252.93" fill="#00A087" stroke="#000" stroke-width="1.6" stroke-linejoin="miter"/>
<polygon points="1295,2256.53 1306.6,2276.73 1283.4,2276.73" fill="#00A087" stroke="#000" stroke-width="1.6" stroke-linejoin="miter"/>
<polygon points="1296,2261.53 1307.6,2281.73 1284.4,2281.73" fill="#4DBBD5" stroke="#000" stroke-width="1.6" stroke-linejoin="miter"/>
<polygon points="1310.9,2292.53 1322.5,2312.73 1299.3,2312.73" fill="#E64B35" stroke="#000" stroke-width="1.6" stroke-linejoin="miter"/>
<polygon points="1307.6,2289.03 1319.2,2309.23 1296,2309.23" fill="#E64B35" stroke="#000" stroke-width="1.6" stroke-linejoin="miter"/>
<rect x="881.9" y="2056.4" width="448.8" height="277" fill="none" stroke="#000" stroke-width="2.3"/>
<line x1="915.18" y1="2333.4" x2="915.18" y2="2339.7" stroke="#333" stroke-width="1.5"/>
<text transform="translate(915.18,2364.7) scale(0.96,1)" font-size="29.02" text-anchor="middle" fill="#000">&#8722;0.25</text>
<line x1="1022.6" y1="2333.4" x2="1022.6" y2="2339.7" stroke="#333" stroke-width="1.5"/>
<text transform="translate(1022.6,2364.7) scale(0.96,1)" font-size="29.02" text-anchor="middle" fill="#000">0.00</text>
<line x1="1130.03" y1="2333.4" x2="1130.03" y2="2339.7" stroke="#333" stroke-width="1.5"/>
<text transform="translate(1130.03,2364.7) scale(0.96,1)" font-size="29.02" text-anchor="middle" fill="#000">0.25</text>
<line x1="1237.45" y1="2333.4" x2="1237.45" y2="2339.7" stroke="#333" stroke-width="1.5"/>
<text transform="translate(1237.45,2364.7) scale(0.96,1)" font-size="29.02" text-anchor="middle" fill="#000">0.50</text>
<line x1="875.6" y1="2332.3" x2="881.9" y2="2332.3" stroke="#333" stroke-width="1.5"/>
<text transform="translate(870.6,2342.3) scale(0.96,1)" font-size="29.02" text-anchor="end" fill="#000">&#8722;0.2</text>
<line x1="875.6" y1="2241" x2="881.9" y2="2241" stroke="#333" stroke-width="1.5"/>
<text transform="translate(870.6,2251) scale(0.96,1)" font-size="29.02" text-anchor="end" fill="#000">0.0</text>
<line x1="875.6" y1="2149.7" x2="881.9" y2="2149.7" stroke="#333" stroke-width="1.5"/>
<text transform="translate(870.6,2159.7) scale(0.96,1)" font-size="29.02" text-anchor="end" fill="#000">0.2</text>
<line x1="875.6" y1="2058.4" x2="881.9" y2="2058.4" stroke="#333" stroke-width="1.5"/>
<text transform="translate(870.6,2068.4) scale(0.96,1)" font-size="29.02" text-anchor="end" fill="#000">0.4</text>
<text transform="translate(1106.3,2398.3) scale(0.96,1)" font-size="32.36" text-anchor="middle" fill="#000">PC1</text>
<text transform="translate(804,2194.9) rotate(-90) scale(0.96,1)" font-size="32.36" text-anchor="middle" fill="#000">PC2</text>
<text transform="translate(993.5,2447.3) scale(0.96,1)" font-size="24.64" font-weight="bold" text-anchor="end" fill="#000">Experiment</text>
<circle cx="1022.6" cy="2439.4" r="8.6" fill="#fff" stroke="#000" stroke-width="1.3"/>
<text transform="translate(1045,2447.8) scale(0.96,1)" font-size="25.06" fill="#000">E1</text>
<rect x="1085.2" y="2430.9" width="17" height="17" fill="#fff" stroke="#000" stroke-width="1.3"/>
<text transform="translate(1115.3,2447.8) scale(0.96,1)" font-size="25.06" fill="#000">E2</text>
<polygon points="1164.8,2428.4 1175.8,2439.4 1164.8,2450.4 1153.8,2439.4" fill="#fff" stroke="#000" stroke-width="1.3"/>
<text transform="translate(1186.8,2447.8) scale(0.96,1)" font-size="25.06" fill="#000">E3</text>
<polygon points="1236.2,2426 1247.8,2446.2 1224.6,2446.2" fill="#fff" stroke="#000" stroke-width="1.3"/>
<text transform="translate(1258.5,2447.8) scale(0.96,1)" font-size="25.06" fill="#000">E4</text>
<text transform="translate(993.5,2490.6) scale(0.96,1)" font-size="24.64" font-weight="bold" text-anchor="end" fill="#000">Treatment</text>
<circle cx="1022.6" cy="2482.7" r="8.6" fill="#E64B35" stroke="#000" stroke-width="1.3"/>
<text transform="translate(1045,2491.2) scale(0.96,1)" font-size="25.06" fill="#000">T0</text>
<circle cx="1092.6" cy="2482.7" r="8.6" fill="#4DBBD5" stroke="#000" stroke-width="1.3"/>
<text transform="translate(1113.5,2491.2) scale(0.96,1)" font-size="25.06" fill="#000">400</text>
<circle cx="1174.9" cy="2482.7" r="8.6" fill="#00A087" stroke="#000" stroke-width="1.3"/>
<text transform="translate(1195.8,2491.2) scale(0.96,1)" font-size="25.06" fill="#000">800</text>
<circle cx="1257.1" cy="2482.7" r="8.6" fill="#3C5488" stroke="#000" stroke-width="1.3"/>
<text transform="translate(1278.8,2491.2) scale(0.96,1)" font-size="25.06" fill="#000">1200</text>
<text transform="translate(1358.5,1629.3) scale(0.86,1)" font-size="57.42" font-weight="bold" fill="#000">d</text>
<text transform="translate(1467,1630.9) scale(0.96,1)" font-size="28.92" font-weight="bold" fill="#000">Eukaryotes</text>
<rect x="1466.1" y="1647.4" width="403.3" height="332.1" fill="#fff"/>
<line x1="1506.82" y1="1647.4" x2="1506.82" y2="1979.5" stroke="#EBEBEB" stroke-width="1"/>
<line x1="1552.7" y1="1647.4" x2="1552.7" y2="1979.5" stroke="#EBEBEB" stroke-width="1"/>
<line x1="1598.58" y1="1647.4" x2="1598.58" y2="1979.5" stroke="#EBEBEB" stroke-width="1"/>
<line x1="1644.46" y1="1647.4" x2="1644.46" y2="1979.5" stroke="#EBEBEB" stroke-width="1"/>
<line x1="1690.34" y1="1647.4" x2="1690.34" y2="1979.5" stroke="#EBEBEB" stroke-width="1"/>
<line x1="1736.22" y1="1647.4" x2="1736.22" y2="1979.5" stroke="#EBEBEB" stroke-width="1"/>
<line x1="1782.1" y1="1647.4" x2="1782.1" y2="1979.5" stroke="#EBEBEB" stroke-width="1"/>
<line x1="1827.98" y1="1647.4" x2="1827.98" y2="1979.5" stroke="#EBEBEB" stroke-width="1"/>
<line x1="1483.88" y1="1647.4" x2="1483.88" y2="1979.5" stroke="#EBEBEB" stroke-width="1.6"/>
<line x1="1529.76" y1="1647.4" x2="1529.76" y2="1979.5" stroke="#EBEBEB" stroke-width="1.6"/>
<line x1="1575.64" y1="1647.4" x2="1575.64" y2="1979.5" stroke="#EBEBEB" stroke-width="1.6"/>
<line x1="1621.52" y1="1647.4" x2="1621.52" y2="1979.5" stroke="#EBEBEB" stroke-width="1.6"/>
<line x1="1667.4" y1="1647.4" x2="1667.4" y2="1979.5" stroke="#EBEBEB" stroke-width="1.6"/>
<line x1="1713.28" y1="1647.4" x2="1713.28" y2="1979.5" stroke="#EBEBEB" stroke-width="1.6"/>
<line x1="1759.16" y1="1647.4" x2="1759.16" y2="1979.5" stroke="#EBEBEB" stroke-width="1.6"/>
<line x1="1805.04" y1="1647.4" x2="1805.04" y2="1979.5" stroke="#EBEBEB" stroke-width="1.6"/>
<line x1="1850.92" y1="1647.4" x2="1850.92" y2="1979.5" stroke="#EBEBEB" stroke-width="1.6"/>
<line x1="1466.1" y1="1694.8" x2="1869.4" y2="1694.8" stroke="#EBEBEB" stroke-width="1.6"/>
<line x1="1466.1" y1="1773.8" x2="1869.4" y2="1773.8" stroke="#EBEBEB" stroke-width="1.6"/>
<line x1="1466.1" y1="1853.4" x2="1869.4" y2="1853.4" stroke="#EBEBEB" stroke-width="1.6"/>
<line x1="1466.1" y1="1932.7" x2="1869.4" y2="1932.7" stroke="#EBEBEB" stroke-width="1.6"/>
<rect x="1621.52" y="1670.6" width="45.88" height="48.4" fill="#595959" stroke="#000" stroke-width="1.3"/>
<rect x="1667.4" y="1749.6" width="22.94" height="48.4" fill="#595959" stroke="#000" stroke-width="1.3"/>
<rect x="1506.82" y="1829.2" width="206.46" height="48.4" fill="#595959" stroke="#000" stroke-width="1.3"/>
<rect x="1621.52" y="1908.5" width="45.88" height="48.4" fill="#595959" stroke="#000" stroke-width="1.3"/>
<line x1="1667.4" y1="1647.4" x2="1667.4" y2="1979.5" stroke="#000" stroke-width="1.6"/>
<rect x="1466.1" y="1647.4" width="403.3" height="332.1" fill="none" stroke="#333" stroke-width="1.3"/>
<line x1="1461.1" y1="1694.8" x2="1466.1" y2="1694.8" stroke="#333" stroke-width="1.5"/>
<text transform="translate(1456.6,1690.8) scale(0.96,1)" font-size="22.76" text-anchor="end" fill="#000">E1</text>
<text transform="translate(1456.6,1713.3) scale(0.96,1)" font-size="22.76" text-anchor="end" fill="#000">(774)</text>
<line x1="1461.1" y1="1773.8" x2="1466.1" y2="1773.8" stroke="#333" stroke-width="1.5"/>
<text transform="translate(1456.6,1769.8) scale(0.96,1)" font-size="22.76" text-anchor="end" fill="#000">E2</text>
<text transform="translate(1456.6,1792.3) scale(0.96,1)" font-size="22.76" text-anchor="end" fill="#000">(700)</text>
<line x1="1461.1" y1="1853.4" x2="1466.1" y2="1853.4" stroke="#333" stroke-width="1.5"/>
<text transform="translate(1456.6,1849.4) scale(0.96,1)" font-size="22.76" text-anchor="end" fill="#000">E3</text>
<text transform="translate(1456.6,1871.9) scale(0.96,1)" font-size="22.76" text-anchor="end" fill="#000">(694)</text>
<line x1="1461.1" y1="1932.7" x2="1466.1" y2="1932.7" stroke="#333" stroke-width="1.5"/>
<text transform="translate(1456.6,1928.7) scale(0.96,1)" font-size="22.76" text-anchor="end" fill="#000">E4</text>
<text transform="translate(1456.6,1951.2) scale(0.96,1)" font-size="22.76" text-anchor="end" fill="#000">(831)</text>
<line x1="1483.88" y1="1979.5" x2="1483.88" y2="1984.6" stroke="#333" stroke-width="1.6"/>
<text transform="translate(1483.88,2004.2) scale(0.96,1)" font-size="22.45" text-anchor="middle" fill="#000">8</text>
<line x1="1529.76" y1="1979.5" x2="1529.76" y2="1984.6" stroke="#333" stroke-width="1.6"/>
<text transform="translate(1529.76,2004.2) scale(0.96,1)" font-size="22.45" text-anchor="middle" fill="#000">6</text>
<line x1="1575.64" y1="1979.5" x2="1575.64" y2="1984.6" stroke="#333" stroke-width="1.6"/>
<text transform="translate(1575.64,2004.2) scale(0.96,1)" font-size="22.45" text-anchor="middle" fill="#000">4</text>
<line x1="1621.52" y1="1979.5" x2="1621.52" y2="1984.6" stroke="#333" stroke-width="1.6"/>
<text transform="translate(1621.52,2004.2) scale(0.96,1)" font-size="22.45" text-anchor="middle" fill="#000">2</text>
<line x1="1667.4" y1="1979.5" x2="1667.4" y2="1984.6" stroke="#333" stroke-width="1.6"/>
<text transform="translate(1667.4,2004.2) scale(0.96,1)" font-size="22.45" text-anchor="middle" fill="#000">0</text>
<line x1="1713.28" y1="1979.5" x2="1713.28" y2="1984.6" stroke="#333" stroke-width="1.6"/>
<text transform="translate(1713.28,2004.2) scale(0.96,1)" font-size="22.45" text-anchor="middle" fill="#000">2</text>
<line x1="1759.16" y1="1979.5" x2="1759.16" y2="1984.6" stroke="#333" stroke-width="1.6"/>
<text transform="translate(1759.16,2004.2) scale(0.96,1)" font-size="22.45" text-anchor="middle" fill="#000">4</text>
<line x1="1805.04" y1="1979.5" x2="1805.04" y2="1984.6" stroke="#333" stroke-width="1.6"/>
<text transform="translate(1805.04,2004.2) scale(0.96,1)" font-size="22.45" text-anchor="middle" fill="#000">6</text>
<line x1="1850.92" y1="1979.5" x2="1850.92" y2="1984.6" stroke="#333" stroke-width="1.6"/>
<text transform="translate(1850.92,2004.2) scale(0.96,1)" font-size="22.45" text-anchor="middle" fill="#000">8</text>
<text transform="translate(1483.1,1689.5) scale(0.96,1)" font-size="32.16" fill="#000">400</text>
<text transform="translate(1482.6,1721.9) scale(0.96,1)" font-size="32.16" fill="#000">ppm</text>
<text transform="translate(1851.2,1689.5) scale(0.96,1)" font-size="32.16" text-anchor="end" fill="#000">1200</text>
<text transform="translate(1851.6,1721.9) scale(0.96,1)" font-size="32.16" text-anchor="end" fill="#000">ppm</text>
<text transform="translate(1391,1813.45) rotate(-90) scale(0.96,1)" font-size="25.68" font-weight="bold" text-anchor="middle" fill="#000">Experiment</text>
<text transform="translate(1467,2051.2) scale(0.96,1)" font-size="28.92" font-weight="bold" fill="#000">Prokaryotes</text>
<rect x="1466.1" y="2068.4" width="403.3" height="332.1" fill="#fff"/>
<line x1="1506.82" y1="2068.4" x2="1506.82" y2="2400.5" stroke="#EBEBEB" stroke-width="1"/>
<line x1="1552.7" y1="2068.4" x2="1552.7" y2="2400.5" stroke="#EBEBEB" stroke-width="1"/>
<line x1="1598.58" y1="2068.4" x2="1598.58" y2="2400.5" stroke="#EBEBEB" stroke-width="1"/>
<line x1="1644.46" y1="2068.4" x2="1644.46" y2="2400.5" stroke="#EBEBEB" stroke-width="1"/>
<line x1="1690.34" y1="2068.4" x2="1690.34" y2="2400.5" stroke="#EBEBEB" stroke-width="1"/>
<line x1="1736.22" y1="2068.4" x2="1736.22" y2="2400.5" stroke="#EBEBEB" stroke-width="1"/>
<line x1="1782.1" y1="2068.4" x2="1782.1" y2="2400.5" stroke="#EBEBEB" stroke-width="1"/>
<line x1="1827.98" y1="2068.4" x2="1827.98" y2="2400.5" stroke="#EBEBEB" stroke-width="1"/>
<line x1="1483.88" y1="2068.4" x2="1483.88" y2="2400.5" stroke="#EBEBEB" stroke-width="1.6"/>
<line x1="1529.76" y1="2068.4" x2="1529.76" y2="2400.5" stroke="#EBEBEB" stroke-width="1.6"/>
<line x1="1575.64" y1="2068.4" x2="1575.64" y2="2400.5" stroke="#EBEBEB" stroke-width="1.6"/>
<line x1="1621.52" y1="2068.4" x2="1621.52" y2="2400.5" stroke="#EBEBEB" stroke-width="1.6"/>
<line x1="1667.4" y1="2068.4" x2="1667.4" y2="2400.5" stroke="#EBEBEB" stroke-width="1.6"/>
<line x1="1713.28" y1="2068.4" x2="1713.28" y2="2400.5" stroke="#EBEBEB" stroke-width="1.6"/>
<line x1="1759.16" y1="2068.4" x2="1759.16" y2="2400.5" stroke="#EBEBEB" stroke-width="1.6"/>
<line x1="1805.04" y1="2068.4" x2="1805.04" y2="2400.5" stroke="#EBEBEB" stroke-width="1.6"/>
<line x1="1850.92" y1="2068.4" x2="1850.92" y2="2400.5" stroke="#EBEBEB" stroke-width="1.6"/>
<line x1="1466.1" y1="2114.9" x2="1869.4" y2="2114.9" stroke="#EBEBEB" stroke-width="1.6"/>
<line x1="1466.1" y1="2194.5" x2="1869.4" y2="2194.5" stroke="#EBEBEB" stroke-width="1.6"/>
<line x1="1466.1" y1="2273.8" x2="1869.4" y2="2273.8" stroke="#EBEBEB" stroke-width="1.6"/>
<line x1="1466.1" y1="2353" x2="1869.4" y2="2353" stroke="#EBEBEB" stroke-width="1.6"/>
<rect x="1667.4" y="2249.6" width="22.94" height="48.4" fill="#595959" stroke="#000" stroke-width="1.3"/>
<rect x="1644.46" y="2328.8" width="22.94" height="48.4" fill="#595959" stroke="#000" stroke-width="1.3"/>
<line x1="1667.4" y1="2068.4" x2="1667.4" y2="2400.5" stroke="#000" stroke-width="1.6"/>
<rect x="1466.1" y="2068.4" width="403.3" height="332.1" fill="none" stroke="#333" stroke-width="1.3"/>
<line x1="1461.1" y1="2114.9" x2="1466.1" y2="2114.9" stroke="#333" stroke-width="1.5"/>
<text transform="translate(1456.6,2110.9) scale(0.96,1)" font-size="22.76" text-anchor="end" fill="#000">E1</text>
<text transform="translate(1456.6,2133.4) scale(0.96,1)" font-size="22.76" text-anchor="end" fill="#000">(219)</text>
<line x1="1461.1" y1="2194.5" x2="1466.1" y2="2194.5" stroke="#333" stroke-width="1.5"/>
<text transform="translate(1456.6,2190.5) scale(0.96,1)" font-size="22.76" text-anchor="end" fill="#000">E2</text>
<text transform="translate(1456.6,2213) scale(0.96,1)" font-size="22.76" text-anchor="end" fill="#000">(299)</text>
<line x1="1461.1" y1="2273.8" x2="1466.1" y2="2273.8" stroke="#333" stroke-width="1.5"/>
<text transform="translate(1456.6,2269.8) scale(0.96,1)" font-size="22.76" text-anchor="end" fill="#000">E3</text>
<text transform="translate(1456.6,2292.3) scale(0.96,1)" font-size="22.76" text-anchor="end" fill="#000">(331)</text>
<line x1="1461.1" y1="2353" x2="1466.1" y2="2353" stroke="#333" stroke-width="1.5"/>
<text transform="translate(1456.6,2349) scale(0.96,1)" font-size="22.76" text-anchor="end" fill="#000">E4</text>
<text transform="translate(1456.6,2371.5) scale(0.96,1)" font-size="22.76" text-anchor="end" fill="#000">(369)</text>
<line x1="1483.88" y1="2400.5" x2="1483.88" y2="2405.6" stroke="#333" stroke-width="1.6"/>
<text transform="translate(1483.88,2425.2) scale(0.96,1)" font-size="22.45" text-anchor="middle" fill="#000">8</text>
<line x1="1529.76" y1="2400.5" x2="1529.76" y2="2405.6" stroke="#333" stroke-width="1.6"/>
<text transform="translate(1529.76,2425.2) scale(0.96,1)" font-size="22.45" text-anchor="middle" fill="#000">6</text>
<line x1="1575.64" y1="2400.5" x2="1575.64" y2="2405.6" stroke="#333" stroke-width="1.6"/>
<text transform="translate(1575.64,2425.2) scale(0.96,1)" font-size="22.45" text-anchor="middle" fill="#000">4</text>
<line x1="1621.52" y1="2400.5" x2="1621.52" y2="2405.6" stroke="#333" stroke-width="1.6"/>
<text transform="translate(1621.52,2425.2) scale(0.96,1)" font-size="22.45" text-anchor="middle" fill="#000">2</text>
<line x1="1667.4" y1="2400.5" x2="1667.4" y2="2405.6" stroke="#333" stroke-width="1.6"/>
<text transform="translate(1667.4,2425.2) scale(0.96,1)" font-size="22.45" text-anchor="middle" fill="#000">0</text>
<line x1="1713.28" y1="2400.5" x2="1713.28" y2="2405.6" stroke="#333" stroke-width="1.6"/>
<text transform="translate(1713.28,2425.2) scale(0.96,1)" font-size="22.45" text-anchor="middle" fill="#000">2</text>
<line x1="1759.16" y1="2400.5" x2="1759.16" y2="2405.6" stroke="#333" stroke-width="1.6"/>
<text transform="translate(1759.16,2425.2) scale(0.96,1)" font-size="22.45" text-anchor="middle" fill="#000">4</text>
<line x1="1805.04" y1="2400.5" x2="1805.04" y2="2405.6" stroke="#333" stroke-width="1.6"/>
<text transform="translate(1805.04,2425.2) scale(0.96,1)" font-size="22.45" text-anchor="middle" fill="#000">6</text>
<line x1="1850.92" y1="2400.5" x2="1850.92" y2="2405.6" stroke="#333" stroke-width="1.6"/>
<text transform="translate(1850.92,2425.2) scale(0.96,1)" font-size="22.45" text-anchor="middle" fill="#000">8</text>
<text transform="translate(1483.1,2109.6) scale(0.96,1)" font-size="32.16" fill="#000">400</text>
<text transform="translate(1482.6,2142) scale(0.96,1)" font-size="32.16" fill="#000">ppm</text>
<text transform="translate(1851.2,2109.6) scale(0.96,1)" font-size="32.16" text-anchor="end" fill="#000">1200</text>
<text transform="translate(1851.6,2142) scale(0.96,1)" font-size="32.16" text-anchor="end" fill="#000">ppm</text>
<text transform="translate(1391,2234.45) rotate(-90) scale(0.96,1)" font-size="25.68" font-weight="bold" text-anchor="middle" fill="#000">Experiment</text>
<text transform="translate(1667.5,2459.2) scale(0.96,1)" font-size="25.73" font-weight="bold" text-anchor="middle" fill="#000">Differentially abundant ASVs</text>
</svg></body></html>
